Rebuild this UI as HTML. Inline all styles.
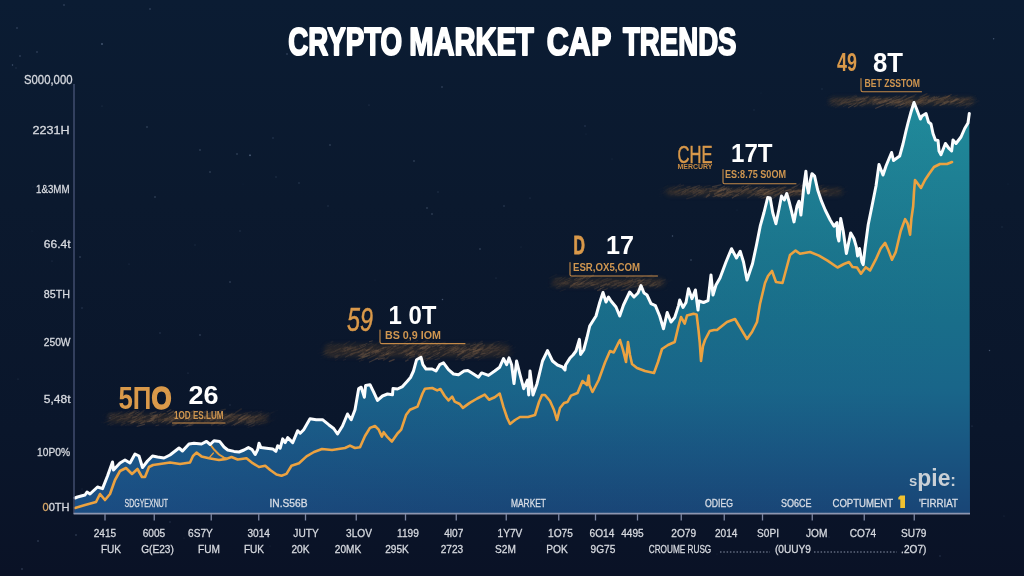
<!DOCTYPE html>
<html lang="en"><head><meta charset="utf-8"><title>Crypto Market Cap Trends</title>
<style>
html,body{margin:0;padding:0;background:#0c1830;}
body{width:1024px;height:576px;overflow:hidden;}
svg{display:block;font-family:"Liberation Sans",sans-serif;}
</style></head><body>
<svg width="1024" height="576" viewBox="0 0 1024 576">
<defs>
<linearGradient id="bg" x1="0" y1="0" x2="0" y2="576" gradientUnits="userSpaceOnUse">
<stop offset="0" stop-color="#0b1c33"/><stop offset="0.35" stop-color="#0b192e"/><stop offset="0.75" stop-color="#0a162b"/><stop offset="1" stop-color="#0a1226"/>
</linearGradient>
<linearGradient id="ar" x1="0" y1="110" x2="0" y2="513" gradientUnits="userSpaceOnUse">
<stop offset="0" stop-color="#208a9a"/><stop offset="0.17" stop-color="#1e8094"/><stop offset="0.35" stop-color="#1b768d"/><stop offset="0.52" stop-color="#196e8a"/><stop offset="0.70" stop-color="#196589"/><stop offset="0.85" stop-color="#195581"/><stop offset="1" stop-color="#194576"/>
</linearGradient>
<linearGradient id="arx" x1="75" y1="0" x2="970" y2="0" gradientUnits="userSpaceOnUse">
<stop offset="0" stop-color="#1f5c9c" stop-opacity="0.32"/><stop offset="0.5" stop-color="#1c4f86" stop-opacity="0.06"/><stop offset="1" stop-color="#1c4f86" stop-opacity="0"/>
</linearGradient>
<filter id="sm" x="-10%" y="-100%" width="120%" height="300%"><feGaussianBlur stdDeviation="2.2"/></filter>
<filter id="soft" x="-5%" y="-5%" width="110%" height="110%"><feGaussianBlur stdDeviation="0.35"/></filter>
</defs>
<rect width="1024" height="576" fill="url(#bg)"/>
<circle cx="961" cy="328" r="0.5" fill="#7f96b8" opacity="0.13"/>
<circle cx="438" cy="192" r="0.8" fill="#7f96b8" opacity="0.22"/>
<circle cx="622" cy="509" r="0.6" fill="#7f96b8" opacity="0.23"/>
<circle cx="907" cy="308" r="0.7" fill="#7f96b8" opacity="0.23"/>
<circle cx="585" cy="126" r="0.7" fill="#7f96b8" opacity="0.33"/>
<circle cx="737" cy="210" r="0.4" fill="#7f96b8" opacity="0.30"/>
<circle cx="567" cy="534" r="0.5" fill="#7f96b8" opacity="0.31"/>
<circle cx="170" cy="522" r="0.7" fill="#7f96b8" opacity="0.31"/>
<circle cx="586" cy="134" r="0.6" fill="#7f96b8" opacity="0.17"/>
<circle cx="1002" cy="227" r="0.7" fill="#7f96b8" opacity="0.19"/>
<circle cx="328" cy="504" r="0.7" fill="#7f96b8" opacity="0.26"/>
<circle cx="1004" cy="516" r="0.6" fill="#7f96b8" opacity="0.21"/>
<circle cx="195" cy="245" r="0.8" fill="#7f96b8" opacity="0.14"/>
<circle cx="829" cy="537" r="0.6" fill="#7f96b8" opacity="0.34"/>
<circle cx="52" cy="261" r="0.5" fill="#7f96b8" opacity="0.33"/>
<circle cx="788" cy="544" r="0.6" fill="#7f96b8" opacity="0.27"/>
<circle cx="18" cy="379" r="0.6" fill="#7f96b8" opacity="0.28"/>
<circle cx="375" cy="280" r="0.5" fill="#7f96b8" opacity="0.15"/>
<circle cx="188" cy="373" r="0.6" fill="#7f96b8" opacity="0.32"/>
<circle cx="299" cy="183" r="0.8" fill="#7f96b8" opacity="0.27"/>
<circle cx="819" cy="268" r="0.7" fill="#7f96b8" opacity="0.13"/>
<circle cx="240" cy="231" r="0.7" fill="#7f96b8" opacity="0.26"/>
<circle cx="881" cy="307" r="0.4" fill="#7f96b8" opacity="0.16"/>
<circle cx="761" cy="93" r="0.5" fill="#7f96b8" opacity="0.13"/>
<circle cx="972" cy="426" r="0.6" fill="#7f96b8" opacity="0.35"/>
<circle cx="32" cy="231" r="0.5" fill="#7f96b8" opacity="0.13"/>
<circle cx="430" cy="379" r="0.6" fill="#7f96b8" opacity="0.32"/>
<circle cx="717" cy="554" r="0.4" fill="#7f96b8" opacity="0.27"/>
<circle cx="33" cy="187" r="0.6" fill="#7f96b8" opacity="0.17"/>
<circle cx="16" cy="68" r="0.7" fill="#7f96b8" opacity="0.23"/>
<circle cx="483" cy="470" r="0.5" fill="#7f96b8" opacity="0.21"/>
<circle cx="330" cy="427" r="0.4" fill="#7f96b8" opacity="0.26"/>
<circle cx="905" cy="439" r="0.7" fill="#7f96b8" opacity="0.34"/>
<circle cx="617" cy="351" r="0.5" fill="#7f96b8" opacity="0.15"/>
<circle cx="807" cy="347" r="0.7" fill="#7f96b8" opacity="0.28"/>
<circle cx="656" cy="475" r="0.6" fill="#7f96b8" opacity="0.24"/>
<circle cx="727" cy="396" r="0.8" fill="#7f96b8" opacity="0.13"/>
<circle cx="129" cy="264" r="0.6" fill="#7f96b8" opacity="0.24"/>
<circle cx="325" cy="415" r="0.4" fill="#7f96b8" opacity="0.32"/>
<circle cx="930" cy="263" r="0.5" fill="#7f96b8" opacity="0.29"/>
<circle cx="541" cy="541" r="0.6" fill="#7f96b8" opacity="0.14"/>
<circle cx="82" cy="489" r="0.6" fill="#7f96b8" opacity="0.22"/>
<circle cx="276" cy="177" r="0.7" fill="#7f96b8" opacity="0.26"/>
<circle cx="612" cy="159" r="0.5" fill="#7f96b8" opacity="0.23"/>
<circle cx="1008" cy="184" r="0.4" fill="#7f96b8" opacity="0.24"/>
<circle cx="754" cy="110" r="0.7" fill="#7f96b8" opacity="0.17"/>
<circle cx="722" cy="480" r="0.6" fill="#7f96b8" opacity="0.16"/>
<circle cx="243" cy="184" r="0.4" fill="#7f96b8" opacity="0.14"/>
<circle cx="328" cy="206" r="0.7" fill="#7f96b8" opacity="0.26"/>
<circle cx="496" cy="278" r="0.6" fill="#7f96b8" opacity="0.29"/>
<circle cx="82" cy="308" r="0.7" fill="#7f96b8" opacity="0.33"/>
<circle cx="629" cy="479" r="0.4" fill="#7f96b8" opacity="0.33"/>
<circle cx="230" cy="405" r="0.8" fill="#7f96b8" opacity="0.22"/>
<circle cx="270" cy="546" r="0.5" fill="#7f96b8" opacity="0.22"/>
<circle cx="417" cy="35" r="0.5" fill="#7f96b8" opacity="0.19"/>
<circle cx="822" cy="89" r="0.8" fill="#7f96b8" opacity="0.16"/>
<circle cx="687" cy="394" r="0.4" fill="#7f96b8" opacity="0.27"/>
<circle cx="530" cy="198" r="0.6" fill="#7f96b8" opacity="0.31"/>
<circle cx="184" cy="538" r="0.5" fill="#7f96b8" opacity="0.21"/>
<circle cx="160" cy="333" r="0.7" fill="#7f96b8" opacity="0.33"/>
<circle cx="273" cy="138" r="0.7" fill="#7f96b8" opacity="0.34"/>
<circle cx="936" cy="486" r="0.7" fill="#7f96b8" opacity="0.28"/>
<circle cx="434" cy="452" r="0.6" fill="#7f96b8" opacity="0.22"/>
<circle cx="940" cy="556" r="0.8" fill="#7f96b8" opacity="0.26"/>
<circle cx="369" cy="105" r="0.6" fill="#7f96b8" opacity="0.32"/>
<circle cx="81" cy="494" r="0.7" fill="#7f96b8" opacity="0.21"/>
<circle cx="102" cy="106" r="0.6" fill="#7f96b8" opacity="0.26"/>
<circle cx="504" cy="206" r="0.8" fill="#7f96b8" opacity="0.32"/>
<circle cx="28" cy="84" r="0.6" fill="#7f96b8" opacity="0.18"/>
<circle cx="521" cy="247" r="0.5" fill="#7f96b8" opacity="0.21"/>
<circle cx="12.5" cy="65" r="0.75" fill="#9db4d4" opacity="0.38"/>
<circle cx="37" cy="52" r="0.75" fill="#9db4d4" opacity="0.38"/>
<circle cx="150" cy="9" r="0.75" fill="#9db4d4" opacity="0.38"/>
<circle cx="102" cy="44" r="0.75" fill="#9db4d4" opacity="0.38"/>
<circle cx="147" cy="127" r="0.75" fill="#9db4d4" opacity="0.38"/>
<circle cx="200" cy="150" r="0.75" fill="#9db4d4" opacity="0.38"/>
<circle cx="250" cy="155" r="0.75" fill="#9db4d4" opacity="0.38"/>
<circle cx="210" cy="172" r="0.75" fill="#9db4d4" opacity="0.38"/>
<circle cx="155" cy="197" r="0.75" fill="#9db4d4" opacity="0.38"/>
<circle cx="287" cy="54" r="0.75" fill="#9db4d4" opacity="0.38"/>
<circle cx="442" cy="87" r="0.75" fill="#9db4d4" opacity="0.38"/>
<circle cx="330" cy="145" r="0.75" fill="#9db4d4" opacity="0.38"/>
<circle cx="480" cy="249" r="0.75" fill="#9db4d4" opacity="0.38"/>
<circle cx="80" cy="257" r="0.75" fill="#9db4d4" opacity="0.38"/>
<circle cx="993.6" cy="38.7" r="0.75" fill="#9db4d4" opacity="0.38"/>
<circle cx="691" cy="260" r="0.75" fill="#9db4d4" opacity="0.38"/>
<circle cx="672.5" cy="236" r="0.75" fill="#9db4d4" opacity="0.38"/>
<circle cx="442.5" cy="299.5" r="0.75" fill="#9db4d4" opacity="0.38"/>
<circle cx="989.5" cy="350.5" r="0.75" fill="#9db4d4" opacity="0.38"/>
<circle cx="250" cy="155.5" r="0.75" fill="#9db4d4" opacity="0.38"/>
<circle cx="237" cy="154" r="0.75" fill="#9db4d4" opacity="0.38"/>
<circle cx="427" cy="208" r="0.75" fill="#9db4d4" opacity="0.38"/>
<circle cx="432" cy="214" r="0.75" fill="#9db4d4" opacity="0.38"/>
<circle cx="414" cy="161" r="0.75" fill="#9db4d4" opacity="0.38"/>
<circle cx="22" cy="569" r="0.75" fill="#9db4d4" opacity="0.38"/>
<circle cx="38" cy="541" r="0.75" fill="#9db4d4" opacity="0.38"/>
<circle cx="76" cy="535" r="0.75" fill="#9db4d4" opacity="0.38"/>
<circle cx="17" cy="28" r="0.75" fill="#9db4d4" opacity="0.38"/>
<circle cx="20" cy="56" r="0.75" fill="#9db4d4" opacity="0.38"/>
<circle cx="102" cy="44" r="0.75" fill="#9db4d4" opacity="0.38"/>
<circle cx="64" cy="5" r="0.75" fill="#9db4d4" opacity="0.38"/>
<circle cx="230" cy="282" r="0.75" fill="#9db4d4" opacity="0.38"/>
<circle cx="200" cy="335" r="0.75" fill="#9db4d4" opacity="0.38"/>
<circle cx="110" cy="418" r="0.75" fill="#9db4d4" opacity="0.38"/>
<g filter="url(#sm)" fill="#4a3828" opacity="0.42">
<rect x="108" y="414" width="160" height="9" rx="4"/>
<rect x="324" y="344" width="186" height="13" rx="6"/>
<rect x="552" y="278" width="112" height="9" rx="4"/>
<rect x="666" y="188" width="176" height="8" rx="4"/>
<rect x="830" y="97" width="144" height="8" rx="4"/>
</g>
<line x1="155.3" y1="418.3" x2="161.4" y2="415.3" stroke="#6a5442" stroke-width="1.4" opacity="0.16"/>
<line x1="136.5" y1="416.2" x2="142.2" y2="412.4" stroke="#4e3e32" stroke-width="0.8" opacity="0.21"/>
<line x1="138.0" y1="424.0" x2="143.7" y2="422.8" stroke="#6a5442" stroke-width="1.1" opacity="0.32"/>
<line x1="121.9" y1="419.3" x2="128.4" y2="417.0" stroke="#6a5442" stroke-width="1.2" opacity="0.21"/>
<line x1="211.7" y1="418.7" x2="214.6" y2="417.0" stroke="#80624a" stroke-width="1.1" opacity="0.16"/>
<line x1="235.2" y1="423.0" x2="239.3" y2="420.6" stroke="#574434" stroke-width="0.8" opacity="0.25"/>
<line x1="151.2" y1="419.1" x2="157.3" y2="415.1" stroke="#4e3e32" stroke-width="1.0" opacity="0.28"/>
<line x1="230.1" y1="416.6" x2="237.4" y2="414.3" stroke="#4e3e32" stroke-width="1.3" opacity="0.15"/>
<line x1="240.8" y1="418.2" x2="248.0" y2="413.5" stroke="#6a5442" stroke-width="1.5" opacity="0.27"/>
<line x1="180.8" y1="417.0" x2="188.2" y2="415.4" stroke="#5e4a3a" stroke-width="0.9" opacity="0.36"/>
<line x1="167.4" y1="417.0" x2="170.9" y2="414.8" stroke="#6a5442" stroke-width="0.9" opacity="0.28"/>
<line x1="149.2" y1="421.3" x2="154.8" y2="418.0" stroke="#5e4a3a" stroke-width="1.1" opacity="0.42"/>
<line x1="253.1" y1="425.6" x2="258.3" y2="423.0" stroke="#5e4a3a" stroke-width="1.5" opacity="0.13"/>
<line x1="125.3" y1="414.6" x2="131.2" y2="412.3" stroke="#7a6048" stroke-width="0.9" opacity="0.16"/>
<line x1="125.5" y1="420.2" x2="129.2" y2="419.2" stroke="#4e3e32" stroke-width="1.2" opacity="0.17"/>
<line x1="227.1" y1="422.7" x2="234.3" y2="419.8" stroke="#5e4a3a" stroke-width="1.0" opacity="0.44"/>
<line x1="118.1" y1="417.1" x2="121.9" y2="414.8" stroke="#7a6048" stroke-width="1.2" opacity="0.08"/>
<line x1="116.8" y1="421.4" x2="122.9" y2="417.4" stroke="#574434" stroke-width="1.2" opacity="0.22"/>
<line x1="126.0" y1="415.6" x2="129.7" y2="414.6" stroke="#5e4a3a" stroke-width="1.1" opacity="0.19"/>
<line x1="153.3" y1="418.6" x2="159.3" y2="416.6" stroke="#4e3e32" stroke-width="0.7" opacity="0.37"/>
<line x1="266.0" y1="416.4" x2="268.9" y2="415.1" stroke="#80624a" stroke-width="1.4" opacity="0.08"/>
<line x1="219.3" y1="417.0" x2="227.0" y2="413.7" stroke="#4e3e32" stroke-width="1.0" opacity="0.19"/>
<line x1="136.7" y1="426.5" x2="145.0" y2="424.1" stroke="#80624a" stroke-width="1.3" opacity="0.40"/>
<line x1="132.9" y1="422.1" x2="140.7" y2="418.7" stroke="#574434" stroke-width="1.3" opacity="0.45"/>
<line x1="264.1" y1="423.9" x2="272.8" y2="419.6" stroke="#574434" stroke-width="0.8" opacity="0.10"/>
<line x1="180.8" y1="419.1" x2="186.8" y2="414.9" stroke="#80624a" stroke-width="1.0" opacity="0.45"/>
<line x1="210.5" y1="420.1" x2="217.3" y2="416.1" stroke="#574434" stroke-width="1.0" opacity="0.26"/>
<line x1="209.7" y1="419.7" x2="215.6" y2="417.8" stroke="#6a5442" stroke-width="1.3" opacity="0.36"/>
<line x1="127.9" y1="414.6" x2="135.3" y2="410.1" stroke="#4e3e32" stroke-width="1.5" opacity="0.36"/>
<line x1="214.9" y1="418.0" x2="217.9" y2="417.3" stroke="#80624a" stroke-width="0.8" opacity="0.18"/>
<line x1="228.6" y1="422.1" x2="236.2" y2="417.0" stroke="#574434" stroke-width="0.9" opacity="0.20"/>
<line x1="142.0" y1="417.7" x2="145.8" y2="416.7" stroke="#7a6048" stroke-width="1.4" opacity="0.27"/>
<line x1="213.4" y1="423.7" x2="221.1" y2="418.9" stroke="#574434" stroke-width="1.1" opacity="0.40"/>
<line x1="101.6" y1="417.5" x2="108.9" y2="413.1" stroke="#5e4a3a" stroke-width="1.2" opacity="0.01"/>
<line x1="119.9" y1="417.3" x2="126.0" y2="415.4" stroke="#4e3e32" stroke-width="0.7" opacity="0.18"/>
<line x1="133.7" y1="411.6" x2="136.8" y2="410.8" stroke="#6a5442" stroke-width="1.1" opacity="0.27"/>
<line x1="205.7" y1="419.8" x2="211.4" y2="417.5" stroke="#5e4a3a" stroke-width="1.1" opacity="0.35"/>
<line x1="140.5" y1="423.1" x2="149.7" y2="420.7" stroke="#574434" stroke-width="1.4" opacity="0.43"/>
<line x1="123.9" y1="416.1" x2="127.8" y2="413.5" stroke="#80624a" stroke-width="0.9" opacity="0.11"/>
<line x1="120.9" y1="425.9" x2="125.7" y2="423.2" stroke="#574434" stroke-width="1.5" opacity="0.21"/>
<line x1="135.4" y1="422.8" x2="145.0" y2="420.1" stroke="#574434" stroke-width="1.3" opacity="0.29"/>
<line x1="273.3" y1="417.8" x2="276.6" y2="416.2" stroke="#7a6048" stroke-width="1.1" opacity="0.01"/>
<line x1="175.9" y1="414.8" x2="181.4" y2="411.2" stroke="#574434" stroke-width="1.5" opacity="0.33"/>
<line x1="118.2" y1="413.9" x2="122.3" y2="411.3" stroke="#5e4a3a" stroke-width="1.4" opacity="0.20"/>
<line x1="216.6" y1="422.8" x2="222.6" y2="420.2" stroke="#7a6048" stroke-width="0.8" opacity="0.31"/>
<line x1="107.5" y1="421.1" x2="116.5" y2="417.8" stroke="#7a6048" stroke-width="0.8" opacity="0.05"/>
<line x1="248.5" y1="418.9" x2="253.5" y2="416.9" stroke="#7a6048" stroke-width="1.2" opacity="0.20"/>
<line x1="107.4" y1="425.2" x2="111.6" y2="422.8" stroke="#7a6048" stroke-width="1.2" opacity="0.10"/>
<line x1="192.1" y1="416.2" x2="196.8" y2="414.8" stroke="#7a6048" stroke-width="0.7" opacity="0.35"/>
<line x1="103.1" y1="423.6" x2="107.4" y2="421.6" stroke="#80624a" stroke-width="1.4" opacity="0.03"/>
<line x1="174.1" y1="422.4" x2="180.3" y2="420.2" stroke="#574434" stroke-width="1.0" opacity="0.26"/>
<line x1="244.6" y1="422.9" x2="249.1" y2="419.9" stroke="#574434" stroke-width="0.7" opacity="0.22"/>
<line x1="207.4" y1="422.8" x2="214.3" y2="419.4" stroke="#4e3e32" stroke-width="1.2" opacity="0.16"/>
<line x1="149.2" y1="415.4" x2="152.9" y2="413.7" stroke="#7a6048" stroke-width="1.0" opacity="0.28"/>
<line x1="155.3" y1="423.4" x2="163.2" y2="418.8" stroke="#574434" stroke-width="0.7" opacity="0.15"/>
<line x1="165.7" y1="420.2" x2="171.1" y2="416.4" stroke="#7a6048" stroke-width="1.4" opacity="0.20"/>
<line x1="123.9" y1="420.4" x2="130.1" y2="416.3" stroke="#4e3e32" stroke-width="1.4" opacity="0.17"/>
<line x1="125.1" y1="425.6" x2="133.0" y2="422.9" stroke="#5e4a3a" stroke-width="0.8" opacity="0.25"/>
<line x1="223.7" y1="417.5" x2="232.3" y2="414.2" stroke="#80624a" stroke-width="1.3" opacity="0.40"/>
<line x1="186.4" y1="426.6" x2="193.5" y2="421.7" stroke="#80624a" stroke-width="1.2" opacity="0.32"/>
<line x1="256.0" y1="422.5" x2="258.7" y2="420.8" stroke="#7a6048" stroke-width="1.5" opacity="0.11"/>
<line x1="164.6" y1="415.9" x2="170.5" y2="412.6" stroke="#7a6048" stroke-width="0.7" opacity="0.15"/>
<line x1="237.6" y1="422.7" x2="244.0" y2="418.5" stroke="#80624a" stroke-width="1.1" opacity="0.31"/>
<line x1="240.6" y1="420.0" x2="245.0" y2="418.4" stroke="#5e4a3a" stroke-width="1.1" opacity="0.36"/>
<line x1="165.1" y1="421.1" x2="172.0" y2="418.6" stroke="#6a5442" stroke-width="1.2" opacity="0.38"/>
<line x1="157.9" y1="422.2" x2="161.5" y2="420.6" stroke="#5e4a3a" stroke-width="0.9" opacity="0.33"/>
<line x1="215.9" y1="423.0" x2="221.9" y2="420.3" stroke="#5e4a3a" stroke-width="1.3" opacity="0.23"/>
<line x1="272.1" y1="418.8" x2="277.6" y2="415.8" stroke="#6a5442" stroke-width="1.4" opacity="0.01"/>
<line x1="266.3" y1="418.5" x2="274.6" y2="413.7" stroke="#4e3e32" stroke-width="0.8" opacity="0.03"/>
<line x1="228.8" y1="417.1" x2="235.3" y2="413.5" stroke="#6a5442" stroke-width="1.3" opacity="0.33"/>
<line x1="140.9" y1="422.4" x2="143.6" y2="421.2" stroke="#5e4a3a" stroke-width="1.0" opacity="0.15"/>
<line x1="226.2" y1="418.0" x2="230.9" y2="415.5" stroke="#7a6048" stroke-width="1.4" opacity="0.18"/>
<line x1="120.6" y1="425.1" x2="125.1" y2="422.8" stroke="#5e4a3a" stroke-width="1.0" opacity="0.25"/>
<line x1="249.4" y1="420.7" x2="257.3" y2="416.4" stroke="#6a5442" stroke-width="1.4" opacity="0.24"/>
<line x1="148.9" y1="421.7" x2="154.5" y2="418.4" stroke="#7a6048" stroke-width="1.3" opacity="0.22"/>
<line x1="172.2" y1="418.4" x2="180.7" y2="415.0" stroke="#574434" stroke-width="1.3" opacity="0.26"/>
<line x1="107.3" y1="421.8" x2="113.9" y2="418.3" stroke="#6a5442" stroke-width="1.4" opacity="0.09"/>
<line x1="195.4" y1="415.7" x2="200.0" y2="414.2" stroke="#80624a" stroke-width="0.9" opacity="0.23"/>
<line x1="214.4" y1="418.4" x2="217.9" y2="416.2" stroke="#574434" stroke-width="1.1" opacity="0.26"/>
<line x1="239.5" y1="420.3" x2="247.0" y2="416.8" stroke="#4e3e32" stroke-width="0.9" opacity="0.23"/>
<line x1="115.6" y1="414.6" x2="120.0" y2="412.8" stroke="#6a5442" stroke-width="1.3" opacity="0.10"/>
<line x1="171.6" y1="419.5" x2="176.1" y2="416.5" stroke="#7a6048" stroke-width="1.2" opacity="0.26"/>
<line x1="160.9" y1="422.8" x2="168.4" y2="417.9" stroke="#574434" stroke-width="1.0" opacity="0.38"/>
<line x1="210.2" y1="418.9" x2="218.5" y2="413.7" stroke="#5e4a3a" stroke-width="1.3" opacity="0.39"/>
<line x1="255.1" y1="419.7" x2="260.6" y2="418.3" stroke="#4e3e32" stroke-width="1.4" opacity="0.07"/>
<line x1="268.0" y1="414.1" x2="274.3" y2="411.9" stroke="#80624a" stroke-width="1.3" opacity="0.03"/>
<line x1="248.0" y1="419.1" x2="250.6" y2="417.5" stroke="#4e3e32" stroke-width="1.4" opacity="0.29"/>
<line x1="210.8" y1="414.9" x2="217.8" y2="412.5" stroke="#6a5442" stroke-width="0.8" opacity="0.22"/>
<line x1="150.8" y1="422.1" x2="157.8" y2="417.2" stroke="#4e3e32" stroke-width="0.9" opacity="0.22"/>
<line x1="179.4" y1="425.2" x2="184.9" y2="422.1" stroke="#574434" stroke-width="0.7" opacity="0.41"/>
<line x1="169.3" y1="417.6" x2="178.0" y2="414.4" stroke="#6a5442" stroke-width="0.9" opacity="0.20"/>
<line x1="215.7" y1="420.9" x2="220.5" y2="418.6" stroke="#80624a" stroke-width="1.0" opacity="0.15"/>
<line x1="100.4" y1="421.3" x2="106.0" y2="418.0" stroke="#574434" stroke-width="0.9" opacity="0.01"/>
<line x1="137.7" y1="420.6" x2="143.3" y2="417.3" stroke="#574434" stroke-width="1.1" opacity="0.44"/>
<line x1="259.0" y1="416.5" x2="261.8" y2="414.6" stroke="#4e3e32" stroke-width="0.8" opacity="0.19"/>
<line x1="106.7" y1="415.3" x2="115.4" y2="412.4" stroke="#6a5442" stroke-width="1.4" opacity="0.11"/>
<line x1="157.8" y1="420.1" x2="160.8" y2="419.0" stroke="#5e4a3a" stroke-width="1.4" opacity="0.37"/>
<line x1="271.8" y1="415.4" x2="275.0" y2="413.9" stroke="#6a5442" stroke-width="1.1" opacity="0.01"/>
<line x1="230.4" y1="422.1" x2="237.7" y2="417.4" stroke="#80624a" stroke-width="1.1" opacity="0.24"/>
<line x1="163.0" y1="422.1" x2="170.7" y2="416.8" stroke="#5e4a3a" stroke-width="0.9" opacity="0.25"/>
<line x1="207.2" y1="419.0" x2="214.4" y2="414.2" stroke="#574434" stroke-width="1.3" opacity="0.28"/>
<line x1="255.1" y1="417.0" x2="261.5" y2="413.4" stroke="#80624a" stroke-width="1.3" opacity="0.22"/>
<line x1="258.6" y1="419.7" x2="267.0" y2="417.7" stroke="#6a5442" stroke-width="0.7" opacity="0.12"/>
<line x1="140.2" y1="423.6" x2="145.2" y2="420.8" stroke="#5e4a3a" stroke-width="1.4" opacity="0.44"/>
<line x1="122.7" y1="415.1" x2="127.5" y2="413.5" stroke="#574434" stroke-width="1.2" opacity="0.28"/>
<line x1="157.5" y1="416.7" x2="160.6" y2="414.9" stroke="#574434" stroke-width="0.9" opacity="0.38"/>
<line x1="108.5" y1="416.2" x2="118.0" y2="413.7" stroke="#6a5442" stroke-width="0.9" opacity="0.08"/>
<line x1="114.0" y1="416.6" x2="119.3" y2="413.5" stroke="#5e4a3a" stroke-width="1.1" opacity="0.15"/>
<line x1="253.1" y1="417.8" x2="261.1" y2="415.4" stroke="#7a6048" stroke-width="0.9" opacity="0.21"/>
<line x1="198.6" y1="420.6" x2="202.7" y2="418.3" stroke="#574434" stroke-width="0.9" opacity="0.20"/>
<line x1="257.7" y1="413.1" x2="262.1" y2="411.2" stroke="#80624a" stroke-width="1.3" opacity="0.10"/>
<line x1="211.5" y1="420.5" x2="219.9" y2="418.1" stroke="#7a6048" stroke-width="0.7" opacity="0.29"/>
<line x1="149.7" y1="413.5" x2="156.5" y2="411.8" stroke="#7a6048" stroke-width="1.1" opacity="0.44"/>
<line x1="131.5" y1="422.2" x2="134.4" y2="421.2" stroke="#80624a" stroke-width="1.2" opacity="0.31"/>
<line x1="137.6" y1="415.2" x2="142.1" y2="413.5" stroke="#80624a" stroke-width="1.4" opacity="0.20"/>
<line x1="240.7" y1="422.4" x2="246.8" y2="418.4" stroke="#6a5442" stroke-width="1.3" opacity="0.24"/>
<line x1="194.1" y1="412.6" x2="200.6" y2="410.2" stroke="#6a5442" stroke-width="1.2" opacity="0.26"/>
<line x1="168.8" y1="422.4" x2="173.7" y2="419.1" stroke="#80624a" stroke-width="1.2" opacity="0.35"/>
<line x1="161.8" y1="422.3" x2="166.5" y2="419.5" stroke="#80624a" stroke-width="1.0" opacity="0.45"/>
<line x1="264.2" y1="415.7" x2="267.6" y2="414.3" stroke="#7a6048" stroke-width="1.1" opacity="0.05"/>
<line x1="126.4" y1="417.4" x2="134.2" y2="412.3" stroke="#4e3e32" stroke-width="1.4" opacity="0.28"/>
<line x1="228.5" y1="415.6" x2="232.0" y2="413.3" stroke="#5e4a3a" stroke-width="1.1" opacity="0.19"/>
<line x1="237.4" y1="420.9" x2="246.7" y2="418.9" stroke="#5e4a3a" stroke-width="1.0" opacity="0.17"/>
<line x1="203.9" y1="417.1" x2="211.5" y2="415.2" stroke="#80624a" stroke-width="1.3" opacity="0.36"/>
<line x1="138.8" y1="421.7" x2="142.5" y2="419.6" stroke="#5e4a3a" stroke-width="1.5" opacity="0.40"/>
<line x1="125.5" y1="416.5" x2="133.0" y2="412.1" stroke="#4e3e32" stroke-width="1.4" opacity="0.34"/>
<line x1="216.0" y1="419.3" x2="222.0" y2="417.6" stroke="#7a6048" stroke-width="1.2" opacity="0.26"/>
<line x1="152.8" y1="417.1" x2="158.4" y2="413.8" stroke="#6a5442" stroke-width="1.2" opacity="0.25"/>
<line x1="184.5" y1="420.1" x2="189.8" y2="416.9" stroke="#5e4a3a" stroke-width="1.0" opacity="0.38"/>
<line x1="110.6" y1="417.3" x2="116.7" y2="415.0" stroke="#6a5442" stroke-width="1.2" opacity="0.13"/>
<line x1="114.8" y1="423.5" x2="117.9" y2="422.2" stroke="#5e4a3a" stroke-width="1.2" opacity="0.12"/>
<line x1="235.1" y1="412.9" x2="241.8" y2="408.7" stroke="#574434" stroke-width="1.5" opacity="0.33"/>
<line x1="183.4" y1="426.9" x2="191.7" y2="424.9" stroke="#6a5442" stroke-width="1.4" opacity="0.19"/>
<line x1="204.0" y1="416.8" x2="212.5" y2="413.0" stroke="#7a6048" stroke-width="1.1" opacity="0.33"/>
<line x1="259.9" y1="415.5" x2="264.2" y2="412.5" stroke="#574434" stroke-width="1.0" opacity="0.12"/>
<line x1="209.0" y1="417.2" x2="216.5" y2="413.1" stroke="#4e3e32" stroke-width="0.7" opacity="0.26"/>
<line x1="247.6" y1="423.0" x2="255.1" y2="421.1" stroke="#7a6048" stroke-width="1.5" opacity="0.21"/>
<line x1="207.0" y1="422.0" x2="216.2" y2="418.3" stroke="#7a6048" stroke-width="1.0" opacity="0.22"/>
<line x1="113.8" y1="418.2" x2="118.5" y2="416.2" stroke="#7a6048" stroke-width="1.2" opacity="0.18"/>
<line x1="272.0" y1="421.5" x2="274.5" y2="419.8" stroke="#574434" stroke-width="0.9" opacity="0.02"/>
<line x1="207.9" y1="417.8" x2="213.9" y2="415.5" stroke="#6a5442" stroke-width="0.7" opacity="0.15"/>
<line x1="100.3" y1="414.8" x2="104.6" y2="413.1" stroke="#4e3e32" stroke-width="0.8" opacity="0.00"/>
<line x1="161.6" y1="419.8" x2="169.8" y2="417.0" stroke="#5e4a3a" stroke-width="0.8" opacity="0.14"/>
<line x1="211.1" y1="425.4" x2="215.0" y2="422.7" stroke="#80624a" stroke-width="1.4" opacity="0.26"/>
<line x1="254.3" y1="421.3" x2="260.4" y2="418.6" stroke="#574434" stroke-width="1.4" opacity="0.18"/>
<line x1="108.0" y1="418.5" x2="111.3" y2="417.5" stroke="#6a5442" stroke-width="1.2" opacity="0.05"/>
<line x1="212.8" y1="416.5" x2="219.8" y2="413.9" stroke="#5e4a3a" stroke-width="1.4" opacity="0.30"/>
<line x1="128.0" y1="416.5" x2="136.8" y2="413.8" stroke="#80624a" stroke-width="1.1" opacity="0.14"/>
<line x1="164.0" y1="423.4" x2="170.5" y2="419.5" stroke="#6a5442" stroke-width="0.9" opacity="0.16"/>
<line x1="209.9" y1="420.9" x2="218.3" y2="416.3" stroke="#6a5442" stroke-width="0.9" opacity="0.43"/>
<line x1="196.1" y1="421.2" x2="200.6" y2="419.6" stroke="#574434" stroke-width="0.8" opacity="0.30"/>
<line x1="188.4" y1="420.3" x2="192.2" y2="418.0" stroke="#7a6048" stroke-width="0.9" opacity="0.40"/>
<line x1="165.0" y1="419.4" x2="174.3" y2="417.3" stroke="#4e3e32" stroke-width="1.1" opacity="0.40"/>
<line x1="244.4" y1="424.7" x2="251.9" y2="421.7" stroke="#7a6048" stroke-width="1.3" opacity="0.22"/>
<line x1="168.8" y1="420.6" x2="171.5" y2="418.9" stroke="#4e3e32" stroke-width="1.4" opacity="0.19"/>
<line x1="158.3" y1="412.8" x2="165.7" y2="410.1" stroke="#80624a" stroke-width="0.8" opacity="0.15"/>
<line x1="105.7" y1="425.6" x2="114.6" y2="421.9" stroke="#80624a" stroke-width="0.8" opacity="0.05"/>
<line x1="251.1" y1="427.0" x2="254.9" y2="424.6" stroke="#6a5442" stroke-width="1.5" opacity="0.11"/>
<line x1="257.1" y1="418.7" x2="263.9" y2="415.6" stroke="#574434" stroke-width="0.8" opacity="0.17"/>
<line x1="232.4" y1="415.2" x2="235.2" y2="413.7" stroke="#7a6048" stroke-width="0.7" opacity="0.27"/>
<line x1="231.4" y1="425.8" x2="237.0" y2="422.8" stroke="#80624a" stroke-width="0.7" opacity="0.33"/>
<line x1="170.2" y1="421.8" x2="177.5" y2="418.8" stroke="#574434" stroke-width="1.3" opacity="0.25"/>
<line x1="243.1" y1="418.9" x2="249.0" y2="415.7" stroke="#6a5442" stroke-width="0.7" opacity="0.24"/>
<line x1="184.5" y1="422.4" x2="190.3" y2="419.5" stroke="#4e3e32" stroke-width="0.9" opacity="0.20"/>
<line x1="263.5" y1="416.0" x2="269.0" y2="412.5" stroke="#80624a" stroke-width="1.3" opacity="0.10"/>
<line x1="185.1" y1="424.6" x2="189.5" y2="421.8" stroke="#5e4a3a" stroke-width="1.4" opacity="0.17"/>
<line x1="229.4" y1="420.2" x2="234.0" y2="418.0" stroke="#4e3e32" stroke-width="1.1" opacity="0.26"/>
<line x1="164.8" y1="420.5" x2="171.2" y2="418.5" stroke="#4e3e32" stroke-width="1.2" opacity="0.28"/>
<line x1="159.0" y1="415.3" x2="166.3" y2="412.9" stroke="#574434" stroke-width="1.1" opacity="0.40"/>
<line x1="218.4" y1="415.4" x2="225.4" y2="412.9" stroke="#4e3e32" stroke-width="0.9" opacity="0.24"/>
<line x1="152.7" y1="424.1" x2="156.2" y2="422.1" stroke="#7a6048" stroke-width="1.2" opacity="0.19"/>
<line x1="157.9" y1="421.1" x2="167.4" y2="419.1" stroke="#574434" stroke-width="1.5" opacity="0.22"/>
<line x1="116.0" y1="423.3" x2="123.4" y2="419.9" stroke="#574434" stroke-width="0.8" opacity="0.20"/>
<line x1="259.1" y1="420.3" x2="262.1" y2="419.5" stroke="#5e4a3a" stroke-width="1.3" opacity="0.13"/>
<line x1="185.8" y1="420.9" x2="192.3" y2="417.7" stroke="#80624a" stroke-width="0.9" opacity="0.18"/>
<line x1="246.2" y1="422.5" x2="254.6" y2="419.5" stroke="#80624a" stroke-width="1.4" opacity="0.25"/>
<line x1="233.3" y1="424.8" x2="240.1" y2="421.6" stroke="#7a6048" stroke-width="0.9" opacity="0.35"/>
<line x1="220.5" y1="421.7" x2="227.3" y2="417.6" stroke="#5e4a3a" stroke-width="1.1" opacity="0.26"/>
<line x1="101.0" y1="422.8" x2="109.8" y2="420.6" stroke="#7a6048" stroke-width="1.3" opacity="0.03"/>
<line x1="166.7" y1="424.2" x2="172.5" y2="420.7" stroke="#574434" stroke-width="1.1" opacity="0.15"/>
<line x1="116.5" y1="420.6" x2="122.7" y2="418.3" stroke="#7a6048" stroke-width="1.1" opacity="0.18"/>
<line x1="170.7" y1="420.7" x2="176.1" y2="419.0" stroke="#6a5442" stroke-width="1.3" opacity="0.35"/>
<line x1="207.4" y1="418.5" x2="210.3" y2="416.6" stroke="#5e4a3a" stroke-width="1.2" opacity="0.26"/>
<line x1="216.6" y1="416.5" x2="222.3" y2="415.2" stroke="#574434" stroke-width="1.5" opacity="0.23"/>
<line x1="267.5" y1="415.8" x2="270.9" y2="414.8" stroke="#574434" stroke-width="1.1" opacity="0.08"/>
<line x1="196.2" y1="421.2" x2="203.4" y2="419.1" stroke="#5e4a3a" stroke-width="1.1" opacity="0.25"/>
<line x1="150.6" y1="416.5" x2="155.9" y2="415.0" stroke="#7a6048" stroke-width="1.3" opacity="0.40"/>
<line x1="217.5" y1="425.4" x2="225.8" y2="422.9" stroke="#7a6048" stroke-width="0.9" opacity="0.29"/>
<line x1="151.1" y1="419.4" x2="157.9" y2="416.0" stroke="#7a6048" stroke-width="1.4" opacity="0.34"/>
<line x1="110.0" y1="425.3" x2="113.8" y2="424.2" stroke="#80624a" stroke-width="1.2" opacity="0.11"/>
<line x1="213.0" y1="413.7" x2="219.7" y2="411.1" stroke="#574434" stroke-width="0.8" opacity="0.23"/>
<line x1="177.5" y1="419.7" x2="183.8" y2="417.2" stroke="#80624a" stroke-width="1.2" opacity="0.26"/>
<line x1="234.1" y1="425.5" x2="241.8" y2="421.0" stroke="#80624a" stroke-width="0.9" opacity="0.38"/>
<line x1="113.9" y1="423.7" x2="117.4" y2="422.0" stroke="#574434" stroke-width="1.1" opacity="0.07"/>
<line x1="196.9" y1="423.0" x2="201.0" y2="420.6" stroke="#4e3e32" stroke-width="1.4" opacity="0.36"/>
<line x1="99.5" y1="422.2" x2="106.8" y2="420.1" stroke="#7a6048" stroke-width="1.0" opacity="0.01"/>
<line x1="272.9" y1="419.4" x2="279.1" y2="415.1" stroke="#6a5442" stroke-width="1.2" opacity="0.00"/>
<line x1="261.0" y1="421.9" x2="267.2" y2="420.4" stroke="#6a5442" stroke-width="0.9" opacity="0.10"/>
<line x1="171.7" y1="412.7" x2="176.9" y2="411.1" stroke="#4e3e32" stroke-width="1.3" opacity="0.34"/>
<line x1="134.8" y1="419.4" x2="142.5" y2="415.2" stroke="#5e4a3a" stroke-width="1.0" opacity="0.31"/>
<line x1="186.0" y1="417.7" x2="193.3" y2="415.5" stroke="#7a6048" stroke-width="0.9" opacity="0.44"/>
<line x1="221.6" y1="421.5" x2="230.6" y2="417.2" stroke="#4e3e32" stroke-width="1.4" opacity="0.17"/>
<line x1="194.8" y1="413.5" x2="199.0" y2="412.5" stroke="#4e3e32" stroke-width="1.3" opacity="0.14"/>
<line x1="110.6" y1="419.6" x2="114.4" y2="418.2" stroke="#80624a" stroke-width="1.2" opacity="0.08"/>
<line x1="217.0" y1="419.7" x2="224.0" y2="415.2" stroke="#574434" stroke-width="1.4" opacity="0.28"/>
<line x1="171.5" y1="421.2" x2="179.2" y2="416.4" stroke="#7a6048" stroke-width="1.1" opacity="0.14"/>
<line x1="144.1" y1="417.2" x2="149.7" y2="415.1" stroke="#6a5442" stroke-width="1.1" opacity="0.24"/>
<line x1="189.3" y1="425.3" x2="196.4" y2="421.9" stroke="#6a5442" stroke-width="0.7" opacity="0.27"/>
<line x1="166.5" y1="424.4" x2="172.2" y2="421.6" stroke="#6a5442" stroke-width="0.8" opacity="0.44"/>
<line x1="182.7" y1="423.5" x2="185.6" y2="422.4" stroke="#6a5442" stroke-width="0.9" opacity="0.27"/>
<line x1="120.2" y1="417.3" x2="126.0" y2="415.4" stroke="#6a5442" stroke-width="1.0" opacity="0.19"/>
<line x1="229.7" y1="418.1" x2="234.4" y2="416.2" stroke="#5e4a3a" stroke-width="1.1" opacity="0.38"/>
<line x1="263.0" y1="421.2" x2="265.5" y2="419.5" stroke="#80624a" stroke-width="1.2" opacity="0.12"/>
<line x1="204.9" y1="417.3" x2="214.2" y2="414.6" stroke="#4e3e32" stroke-width="0.7" opacity="0.33"/>
<line x1="164.0" y1="419.2" x2="167.9" y2="418.0" stroke="#7a6048" stroke-width="1.5" opacity="0.35"/>
<line x1="127.8" y1="422.4" x2="133.2" y2="419.4" stroke="#4e3e32" stroke-width="1.0" opacity="0.31"/>
<line x1="147.2" y1="421.8" x2="154.2" y2="419.9" stroke="#80624a" stroke-width="1.5" opacity="0.39"/>
<line x1="242.5" y1="419.8" x2="250.8" y2="415.7" stroke="#80624a" stroke-width="1.0" opacity="0.23"/>
<line x1="233.9" y1="417.1" x2="238.5" y2="414.6" stroke="#574434" stroke-width="1.2" opacity="0.35"/>
<line x1="239.8" y1="419.0" x2="248.2" y2="416.8" stroke="#4e3e32" stroke-width="0.8" opacity="0.37"/>
<line x1="268.7" y1="422.7" x2="274.7" y2="420.2" stroke="#4e3e32" stroke-width="1.1" opacity="0.05"/>
<line x1="238.6" y1="418.9" x2="242.9" y2="417.2" stroke="#80624a" stroke-width="1.0" opacity="0.43"/>
<line x1="222.6" y1="423.9" x2="227.9" y2="421.8" stroke="#4e3e32" stroke-width="1.3" opacity="0.14"/>
<line x1="232.1" y1="418.7" x2="240.6" y2="415.1" stroke="#5e4a3a" stroke-width="1.1" opacity="0.42"/>
<line x1="134.8" y1="413.5" x2="139.5" y2="411.7" stroke="#7a6048" stroke-width="1.0" opacity="0.39"/>
<line x1="189.6" y1="413.2" x2="194.4" y2="410.1" stroke="#80624a" stroke-width="1.1" opacity="0.45"/>
<line x1="113.2" y1="414.9" x2="119.3" y2="411.0" stroke="#574434" stroke-width="1.5" opacity="0.09"/>
<line x1="248.9" y1="420.8" x2="256.5" y2="417.2" stroke="#5e4a3a" stroke-width="1.3" opacity="0.15"/>
<line x1="242.6" y1="421.5" x2="246.4" y2="419.2" stroke="#6a5442" stroke-width="0.7" opacity="0.14"/>
<line x1="103.7" y1="420.2" x2="112.4" y2="418.0" stroke="#4e3e32" stroke-width="1.2" opacity="0.05"/>
<line x1="260.5" y1="418.0" x2="264.4" y2="415.5" stroke="#80624a" stroke-width="1.1" opacity="0.09"/>
<line x1="130.3" y1="422.4" x2="137.2" y2="418.3" stroke="#7a6048" stroke-width="1.5" opacity="0.19"/>
<line x1="110.1" y1="415.9" x2="114.5" y2="414.0" stroke="#80624a" stroke-width="1.2" opacity="0.13"/>
<line x1="268.9" y1="413.3" x2="278.0" y2="410.1" stroke="#7a6048" stroke-width="1.2" opacity="0.03"/>
<line x1="176.2" y1="420.8" x2="181.3" y2="418.3" stroke="#5e4a3a" stroke-width="0.8" opacity="0.26"/>
<line x1="140.0" y1="419.0" x2="146.9" y2="414.9" stroke="#6a5442" stroke-width="0.8" opacity="0.14"/>
<line x1="243.0" y1="417.1" x2="250.9" y2="414.7" stroke="#6a5442" stroke-width="1.4" opacity="0.21"/>
<line x1="166.7" y1="412.1" x2="171.3" y2="409.5" stroke="#6a5442" stroke-width="1.2" opacity="0.44"/>
<line x1="123.9" y1="414.2" x2="129.8" y2="410.6" stroke="#574434" stroke-width="0.9" opacity="0.26"/>
<line x1="171.4" y1="415.0" x2="175.9" y2="412.2" stroke="#5e4a3a" stroke-width="0.8" opacity="0.40"/>
<line x1="177.8" y1="416.5" x2="184.9" y2="414.3" stroke="#574434" stroke-width="1.1" opacity="0.30"/>
<line x1="244.7" y1="418.9" x2="250.0" y2="416.0" stroke="#574434" stroke-width="1.4" opacity="0.36"/>
<line x1="115.4" y1="422.0" x2="122.5" y2="418.2" stroke="#80624a" stroke-width="0.7" opacity="0.08"/>
<line x1="238.4" y1="415.8" x2="246.5" y2="412.4" stroke="#574434" stroke-width="1.0" opacity="0.14"/>
<line x1="105.0" y1="417.6" x2="113.2" y2="414.1" stroke="#574434" stroke-width="1.3" opacity="0.04"/>
<line x1="133.4" y1="413.0" x2="139.1" y2="409.9" stroke="#574434" stroke-width="0.8" opacity="0.32"/>
<line x1="217.1" y1="417.5" x2="220.0" y2="416.5" stroke="#4e3e32" stroke-width="1.0" opacity="0.24"/>
<line x1="223.3" y1="418.5" x2="231.9" y2="416.2" stroke="#5e4a3a" stroke-width="0.8" opacity="0.24"/>
<line x1="171.1" y1="418.5" x2="175.5" y2="416.7" stroke="#7a6048" stroke-width="0.7" opacity="0.35"/>
<line x1="219.5" y1="423.2" x2="228.8" y2="421.1" stroke="#6a5442" stroke-width="0.8" opacity="0.25"/>
<line x1="222.8" y1="426.1" x2="229.9" y2="422.5" stroke="#6a5442" stroke-width="0.9" opacity="0.24"/>
<line x1="117.1" y1="422.3" x2="124.4" y2="417.7" stroke="#574434" stroke-width="1.5" opacity="0.08"/>
<line x1="137.3" y1="414.9" x2="144.5" y2="410.0" stroke="#6a5442" stroke-width="1.4" opacity="0.22"/>
<line x1="227.8" y1="420.9" x2="233.3" y2="417.8" stroke="#5e4a3a" stroke-width="0.8" opacity="0.34"/>
<line x1="250.3" y1="417.8" x2="256.3" y2="415.2" stroke="#7a6048" stroke-width="0.8" opacity="0.12"/>
<line x1="121.0" y1="422.9" x2="125.3" y2="421.4" stroke="#5e4a3a" stroke-width="1.3" opacity="0.13"/>
<line x1="127.7" y1="425.8" x2="133.5" y2="424.2" stroke="#4e3e32" stroke-width="0.7" opacity="0.21"/>
<line x1="266.7" y1="414.9" x2="275.1" y2="412.1" stroke="#4e3e32" stroke-width="1.3" opacity="0.04"/>
<line x1="257.6" y1="424.9" x2="264.0" y2="423.4" stroke="#7a6048" stroke-width="0.9" opacity="0.07"/>
<line x1="173.9" y1="419.2" x2="177.0" y2="417.7" stroke="#4e3e32" stroke-width="1.2" opacity="0.30"/>
<line x1="138.7" y1="418.7" x2="143.8" y2="415.2" stroke="#6a5442" stroke-width="0.7" opacity="0.45"/>
<line x1="210.3" y1="418.8" x2="216.9" y2="417.2" stroke="#4e3e32" stroke-width="0.8" opacity="0.22"/>
<line x1="121.5" y1="413.0" x2="124.9" y2="411.3" stroke="#574434" stroke-width="0.8" opacity="0.09"/>
<line x1="202.5" y1="423.7" x2="208.3" y2="421.3" stroke="#574434" stroke-width="1.1" opacity="0.22"/>
<line x1="188.7" y1="426.1" x2="193.4" y2="424.5" stroke="#80624a" stroke-width="1.1" opacity="0.32"/>
<line x1="246.0" y1="420.7" x2="250.2" y2="419.3" stroke="#5e4a3a" stroke-width="1.4" opacity="0.27"/>
<line x1="152.5" y1="422.4" x2="157.1" y2="419.7" stroke="#4e3e32" stroke-width="1.0" opacity="0.15"/>
<line x1="201.7" y1="414.0" x2="206.1" y2="412.2" stroke="#5e4a3a" stroke-width="0.9" opacity="0.41"/>
<line x1="251.6" y1="413.6" x2="258.0" y2="411.1" stroke="#7a6048" stroke-width="1.1" opacity="0.09"/>
<line x1="111.2" y1="418.0" x2="114.4" y2="416.1" stroke="#80624a" stroke-width="1.3" opacity="0.11"/>
<line x1="125.4" y1="416.8" x2="132.4" y2="414.9" stroke="#4e3e32" stroke-width="0.8" opacity="0.27"/>
<line x1="247.5" y1="427.6" x2="254.5" y2="425.0" stroke="#80624a" stroke-width="0.8" opacity="0.16"/>
<line x1="250.4" y1="417.3" x2="256.7" y2="415.8" stroke="#4e3e32" stroke-width="0.8" opacity="0.21"/>
<line x1="245.7" y1="419.1" x2="254.1" y2="416.2" stroke="#7a6048" stroke-width="1.3" opacity="0.13"/>
<line x1="150.5" y1="418.8" x2="155.5" y2="417.3" stroke="#5e4a3a" stroke-width="1.0" opacity="0.26"/>
<line x1="151.8" y1="422.8" x2="156.7" y2="420.0" stroke="#7a6048" stroke-width="1.0" opacity="0.28"/>
<line x1="245.8" y1="426.0" x2="251.7" y2="424.5" stroke="#6a5442" stroke-width="0.7" opacity="0.16"/>
<line x1="144.2" y1="421.1" x2="149.1" y2="419.2" stroke="#5e4a3a" stroke-width="1.1" opacity="0.31"/>
<line x1="188.8" y1="420.8" x2="195.2" y2="417.5" stroke="#6a5442" stroke-width="1.2" opacity="0.25"/>
<line x1="190.2" y1="415.3" x2="196.6" y2="412.7" stroke="#574434" stroke-width="1.5" opacity="0.26"/>
<line x1="184.2" y1="420.1" x2="189.2" y2="418.0" stroke="#6a5442" stroke-width="0.8" opacity="0.45"/>
<line x1="155.5" y1="425.8" x2="159.2" y2="424.9" stroke="#80624a" stroke-width="1.0" opacity="0.30"/>
<line x1="261.6" y1="423.5" x2="268.0" y2="421.6" stroke="#574434" stroke-width="1.1" opacity="0.11"/>
<line x1="132.1" y1="417.5" x2="137.4" y2="416.3" stroke="#80624a" stroke-width="1.3" opacity="0.31"/>
<line x1="219.0" y1="410.9" x2="225.7" y2="409.3" stroke="#5e4a3a" stroke-width="1.4" opacity="0.36"/>
<line x1="201.0" y1="419.0" x2="207.0" y2="415.7" stroke="#80624a" stroke-width="1.4" opacity="0.29"/>
<line x1="189.6" y1="413.7" x2="193.3" y2="412.1" stroke="#4e3e32" stroke-width="0.8" opacity="0.33"/>
<line x1="115.9" y1="416.9" x2="122.9" y2="414.9" stroke="#6a5442" stroke-width="1.2" opacity="0.20"/>
<line x1="219.1" y1="417.5" x2="223.2" y2="414.8" stroke="#80624a" stroke-width="0.8" opacity="0.21"/>
<line x1="256.9" y1="419.5" x2="261.6" y2="416.3" stroke="#5e4a3a" stroke-width="1.2" opacity="0.13"/>
<line x1="267.4" y1="419.4" x2="270.6" y2="418.6" stroke="#574434" stroke-width="1.0" opacity="0.04"/>
<line x1="253.9" y1="421.5" x2="262.9" y2="417.6" stroke="#6a5442" stroke-width="0.9" opacity="0.17"/>
<line x1="165.7" y1="419.8" x2="174.0" y2="416.1" stroke="#574434" stroke-width="0.8" opacity="0.24"/>
<line x1="129.0" y1="414.6" x2="134.1" y2="412.0" stroke="#7a6048" stroke-width="1.1" opacity="0.35"/>
<line x1="165.2" y1="416.0" x2="173.0" y2="412.0" stroke="#574434" stroke-width="1.0" opacity="0.18"/>
<line x1="181.7" y1="417.1" x2="184.8" y2="416.2" stroke="#574434" stroke-width="1.3" opacity="0.23"/>
<line x1="115.2" y1="420.2" x2="121.1" y2="418.6" stroke="#574434" stroke-width="0.8" opacity="0.08"/>
<line x1="161.2" y1="419.9" x2="165.6" y2="418.8" stroke="#4e3e32" stroke-width="0.9" opacity="0.44"/>
<line x1="248.1" y1="425.3" x2="254.6" y2="422.2" stroke="#7a6048" stroke-width="1.1" opacity="0.32"/>
<line x1="169.1" y1="417.5" x2="175.6" y2="413.3" stroke="#7a6048" stroke-width="1.3" opacity="0.37"/>
<line x1="233.6" y1="416.8" x2="236.5" y2="415.9" stroke="#80624a" stroke-width="0.8" opacity="0.18"/>
<line x1="247.0" y1="419.9" x2="253.2" y2="416.8" stroke="#4e3e32" stroke-width="1.3" opacity="0.13"/>
<line x1="131.6" y1="418.8" x2="139.5" y2="415.0" stroke="#7a6048" stroke-width="1.0" opacity="0.22"/>
<line x1="258.4" y1="425.0" x2="261.9" y2="423.2" stroke="#6a5442" stroke-width="1.0" opacity="0.19"/>
<line x1="237.5" y1="425.1" x2="244.7" y2="421.9" stroke="#5e4a3a" stroke-width="1.0" opacity="0.15"/>
<line x1="207.6" y1="413.8" x2="215.3" y2="411.2" stroke="#6a5442" stroke-width="1.0" opacity="0.42"/>
<line x1="204.1" y1="421.6" x2="211.7" y2="418.5" stroke="#80624a" stroke-width="1.2" opacity="0.19"/>
<line x1="131.1" y1="423.0" x2="135.4" y2="421.0" stroke="#80624a" stroke-width="1.2" opacity="0.33"/>
<line x1="260.3" y1="418.6" x2="269.3" y2="416.2" stroke="#4e3e32" stroke-width="1.2" opacity="0.11"/>
<line x1="108.1" y1="413.6" x2="112.4" y2="412.5" stroke="#80624a" stroke-width="1.4" opacity="0.09"/>
<line x1="172.5" y1="425.7" x2="176.7" y2="423.9" stroke="#7a6048" stroke-width="1.5" opacity="0.33"/>
<line x1="171.6" y1="425.3" x2="179.9" y2="422.2" stroke="#5e4a3a" stroke-width="1.1" opacity="0.37"/>
<line x1="215.9" y1="419.2" x2="223.6" y2="415.8" stroke="#574434" stroke-width="0.7" opacity="0.40"/>
<line x1="219.7" y1="420.8" x2="228.9" y2="417.4" stroke="#4e3e32" stroke-width="0.9" opacity="0.31"/>
<line x1="266.5" y1="416.3" x2="272.8" y2="412.4" stroke="#80624a" stroke-width="1.3" opacity="0.03"/>
<line x1="215.7" y1="414.8" x2="221.6" y2="413.4" stroke="#7a6048" stroke-width="1.3" opacity="0.30"/>
<line x1="122.1" y1="423.0" x2="128.3" y2="419.0" stroke="#5e4a3a" stroke-width="1.3" opacity="0.14"/>
<line x1="127.4" y1="421.9" x2="135.5" y2="419.6" stroke="#6a5442" stroke-width="1.3" opacity="0.24"/>
<line x1="102.0" y1="415.9" x2="106.3" y2="413.1" stroke="#7a6048" stroke-width="1.1" opacity="0.03"/>
<line x1="119.9" y1="417.9" x2="123.4" y2="415.6" stroke="#6a5442" stroke-width="1.1" opacity="0.14"/>
<line x1="268.9" y1="422.5" x2="276.1" y2="418.5" stroke="#80624a" stroke-width="1.1" opacity="0.02"/>
<line x1="173.1" y1="417.9" x2="182.0" y2="414.6" stroke="#80624a" stroke-width="1.2" opacity="0.14"/>
<line x1="225.7" y1="423.8" x2="232.5" y2="419.2" stroke="#5e4a3a" stroke-width="1.4" opacity="0.16"/>
<line x1="149.5" y1="419.5" x2="157.6" y2="414.6" stroke="#80624a" stroke-width="1.4" opacity="0.40"/>
<line x1="228.8" y1="415.5" x2="233.5" y2="413.2" stroke="#4e3e32" stroke-width="1.4" opacity="0.40"/>
<line x1="243.6" y1="413.7" x2="252.0" y2="411.6" stroke="#80624a" stroke-width="1.0" opacity="0.14"/>
<line x1="106.1" y1="417.2" x2="115.4" y2="413.6" stroke="#80624a" stroke-width="0.8" opacity="0.09"/>
<line x1="220.2" y1="416.2" x2="223.2" y2="414.1" stroke="#5e4a3a" stroke-width="1.1" opacity="0.44"/>
<line x1="135.9" y1="415.2" x2="144.0" y2="411.7" stroke="#574434" stroke-width="0.9" opacity="0.33"/>
<line x1="214.3" y1="419.0" x2="220.0" y2="416.9" stroke="#574434" stroke-width="1.4" opacity="0.24"/>
<line x1="128.3" y1="417.7" x2="133.0" y2="414.9" stroke="#6a5442" stroke-width="1.1" opacity="0.26"/>
<line x1="190.1" y1="419.1" x2="193.8" y2="417.3" stroke="#4e3e32" stroke-width="1.2" opacity="0.33"/>
<line x1="240.8" y1="417.2" x2="245.5" y2="415.3" stroke="#7a6048" stroke-width="1.1" opacity="0.31"/>
<line x1="213.3" y1="416.3" x2="216.0" y2="414.6" stroke="#80624a" stroke-width="1.3" opacity="0.41"/>
<line x1="218.0" y1="418.3" x2="226.6" y2="414.0" stroke="#574434" stroke-width="1.2" opacity="0.31"/>
<line x1="168.1" y1="414.3" x2="173.8" y2="410.7" stroke="#7a6048" stroke-width="1.2" opacity="0.42"/>
<line x1="131.8" y1="422.9" x2="137.5" y2="420.5" stroke="#80624a" stroke-width="0.8" opacity="0.20"/>
<line x1="189.7" y1="416.4" x2="192.9" y2="414.9" stroke="#4e3e32" stroke-width="1.1" opacity="0.27"/>
<line x1="223.0" y1="419.6" x2="229.7" y2="415.2" stroke="#80624a" stroke-width="1.0" opacity="0.45"/>
<line x1="129.9" y1="423.5" x2="133.7" y2="422.4" stroke="#6a5442" stroke-width="1.0" opacity="0.33"/>
<line x1="107.6" y1="418.0" x2="112.8" y2="414.7" stroke="#574434" stroke-width="1.0" opacity="0.10"/>
<line x1="252.1" y1="423.9" x2="261.2" y2="421.5" stroke="#574434" stroke-width="1.0" opacity="0.18"/>
<line x1="246.3" y1="424.3" x2="250.5" y2="421.9" stroke="#4e3e32" stroke-width="1.3" opacity="0.11"/>
<line x1="265.2" y1="417.2" x2="268.7" y2="415.8" stroke="#4e3e32" stroke-width="0.8" opacity="0.09"/>
<line x1="260.1" y1="418.7" x2="266.0" y2="417.1" stroke="#4e3e32" stroke-width="1.1" opacity="0.07"/>
<line x1="237.7" y1="415.3" x2="241.6" y2="414.3" stroke="#80624a" stroke-width="1.2" opacity="0.22"/>
<line x1="243.9" y1="419.1" x2="251.1" y2="415.1" stroke="#5e4a3a" stroke-width="0.7" opacity="0.37"/>
<line x1="158.0" y1="418.0" x2="165.1" y2="413.1" stroke="#574434" stroke-width="1.2" opacity="0.41"/>
<line x1="210.6" y1="423.9" x2="217.7" y2="420.6" stroke="#574434" stroke-width="1.4" opacity="0.44"/>
<line x1="204.0" y1="415.1" x2="212.6" y2="411.8" stroke="#6a5442" stroke-width="0.9" opacity="0.21"/>
<line x1="240.3" y1="421.2" x2="248.8" y2="416.8" stroke="#7a6048" stroke-width="1.2" opacity="0.26"/>
<line x1="158.7" y1="414.9" x2="161.5" y2="413.2" stroke="#80624a" stroke-width="0.8" opacity="0.45"/>
<line x1="165.6" y1="420.3" x2="172.2" y2="417.7" stroke="#574434" stroke-width="1.5" opacity="0.25"/>
<line x1="104.0" y1="422.8" x2="111.9" y2="419.8" stroke="#80624a" stroke-width="0.8" opacity="0.07"/>
<line x1="238.1" y1="419.9" x2="241.5" y2="417.7" stroke="#7a6048" stroke-width="1.3" opacity="0.39"/>
<line x1="188.1" y1="420.0" x2="193.0" y2="416.8" stroke="#7a6048" stroke-width="1.2" opacity="0.31"/>
<line x1="251.5" y1="421.8" x2="260.0" y2="420.0" stroke="#574434" stroke-width="0.8" opacity="0.24"/>
<line x1="100.2" y1="422.9" x2="106.3" y2="419.6" stroke="#574434" stroke-width="1.2" opacity="0.01"/>
<line x1="123.3" y1="419.1" x2="130.7" y2="417.4" stroke="#6a5442" stroke-width="1.4" opacity="0.23"/>
<line x1="199.1" y1="414.4" x2="207.9" y2="410.0" stroke="#80624a" stroke-width="1.0" opacity="0.32"/>
<line x1="488.6" y1="347.3" x2="492.9" y2="344.9" stroke="#6a5442" stroke-width="1.3" opacity="0.28"/>
<line x1="439.7" y1="343.6" x2="445.6" y2="342.1" stroke="#7a6048" stroke-width="1.4" opacity="0.15"/>
<line x1="444.0" y1="352.2" x2="450.0" y2="348.3" stroke="#4e3e32" stroke-width="1.0" opacity="0.44"/>
<line x1="341.6" y1="348.9" x2="348.8" y2="347.1" stroke="#574434" stroke-width="1.0" opacity="0.28"/>
<line x1="487.0" y1="347.9" x2="494.4" y2="343.4" stroke="#5e4a3a" stroke-width="1.3" opacity="0.22"/>
<line x1="332.5" y1="355.9" x2="338.2" y2="354.6" stroke="#6a5442" stroke-width="0.7" opacity="0.19"/>
<line x1="377.2" y1="351.7" x2="384.9" y2="349.6" stroke="#574434" stroke-width="0.8" opacity="0.27"/>
<line x1="345.1" y1="351.9" x2="353.0" y2="348.2" stroke="#4e3e32" stroke-width="1.2" opacity="0.13"/>
<line x1="488.2" y1="353.3" x2="492.5" y2="351.7" stroke="#80624a" stroke-width="1.1" opacity="0.21"/>
<line x1="320.6" y1="355.8" x2="328.0" y2="352.8" stroke="#7a6048" stroke-width="1.1" opacity="0.05"/>
<line x1="501.6" y1="342.7" x2="508.9" y2="340.4" stroke="#7a6048" stroke-width="0.8" opacity="0.08"/>
<line x1="440.0" y1="357.1" x2="446.3" y2="353.2" stroke="#4e3e32" stroke-width="1.1" opacity="0.43"/>
<line x1="426.8" y1="353.4" x2="430.2" y2="351.3" stroke="#80624a" stroke-width="1.4" opacity="0.25"/>
<line x1="470.1" y1="350.5" x2="476.0" y2="348.9" stroke="#574434" stroke-width="1.2" opacity="0.36"/>
<line x1="382.6" y1="356.4" x2="390.4" y2="351.4" stroke="#80624a" stroke-width="0.7" opacity="0.24"/>
<line x1="476.5" y1="358.5" x2="480.6" y2="356.4" stroke="#5e4a3a" stroke-width="1.5" opacity="0.24"/>
<line x1="440.2" y1="346.7" x2="445.4" y2="343.7" stroke="#574434" stroke-width="1.0" opacity="0.22"/>
<line x1="398.0" y1="354.2" x2="407.4" y2="351.3" stroke="#5e4a3a" stroke-width="1.4" opacity="0.29"/>
<line x1="488.8" y1="352.4" x2="493.2" y2="350.1" stroke="#5e4a3a" stroke-width="1.4" opacity="0.26"/>
<line x1="365.8" y1="351.5" x2="369.6" y2="349.0" stroke="#574434" stroke-width="1.4" opacity="0.44"/>
<line x1="461.8" y1="350.6" x2="466.9" y2="347.4" stroke="#7a6048" stroke-width="1.2" opacity="0.28"/>
<line x1="475.9" y1="352.7" x2="480.5" y2="350.7" stroke="#7a6048" stroke-width="0.8" opacity="0.18"/>
<line x1="347.1" y1="350.0" x2="356.1" y2="347.0" stroke="#7a6048" stroke-width="1.5" opacity="0.21"/>
<line x1="323.1" y1="351.9" x2="326.0" y2="350.6" stroke="#574434" stroke-width="1.2" opacity="0.06"/>
<line x1="455.5" y1="349.5" x2="458.4" y2="347.6" stroke="#5e4a3a" stroke-width="1.5" opacity="0.42"/>
<line x1="419.1" y1="343.9" x2="426.0" y2="341.1" stroke="#6a5442" stroke-width="1.1" opacity="0.31"/>
<line x1="480.7" y1="352.4" x2="489.5" y2="350.4" stroke="#574434" stroke-width="1.3" opacity="0.35"/>
<line x1="370.8" y1="345.5" x2="373.8" y2="344.2" stroke="#5e4a3a" stroke-width="1.3" opacity="0.16"/>
<line x1="504.7" y1="348.0" x2="510.1" y2="345.0" stroke="#7a6048" stroke-width="1.3" opacity="0.04"/>
<line x1="511.1" y1="358.6" x2="515.9" y2="356.4" stroke="#574434" stroke-width="1.0" opacity="0.02"/>
<line x1="393.3" y1="346.6" x2="396.1" y2="345.5" stroke="#7a6048" stroke-width="1.3" opacity="0.45"/>
<line x1="461.6" y1="360.6" x2="465.0" y2="359.3" stroke="#6a5442" stroke-width="1.4" opacity="0.35"/>
<line x1="324.8" y1="352.8" x2="330.9" y2="349.6" stroke="#4e3e32" stroke-width="0.7" opacity="0.08"/>
<line x1="462.2" y1="357.5" x2="470.8" y2="352.5" stroke="#80624a" stroke-width="1.3" opacity="0.32"/>
<line x1="488.7" y1="345.4" x2="493.3" y2="343.8" stroke="#7a6048" stroke-width="0.8" opacity="0.29"/>
<line x1="474.3" y1="358.1" x2="479.0" y2="356.8" stroke="#80624a" stroke-width="1.0" opacity="0.38"/>
<line x1="431.6" y1="359.1" x2="439.0" y2="355.4" stroke="#574434" stroke-width="1.1" opacity="0.16"/>
<line x1="476.9" y1="345.6" x2="482.8" y2="343.4" stroke="#80624a" stroke-width="1.4" opacity="0.37"/>
<line x1="325.0" y1="354.4" x2="328.3" y2="352.3" stroke="#7a6048" stroke-width="1.0" opacity="0.09"/>
<line x1="387.2" y1="354.9" x2="393.9" y2="351.2" stroke="#7a6048" stroke-width="1.5" opacity="0.23"/>
<line x1="452.8" y1="352.4" x2="459.8" y2="348.0" stroke="#80624a" stroke-width="0.8" opacity="0.39"/>
<line x1="411.5" y1="356.2" x2="419.0" y2="352.0" stroke="#4e3e32" stroke-width="0.9" opacity="0.30"/>
<line x1="429.4" y1="343.7" x2="433.7" y2="341.5" stroke="#574434" stroke-width="0.9" opacity="0.36"/>
<line x1="403.3" y1="351.6" x2="407.1" y2="350.8" stroke="#7a6048" stroke-width="1.2" opacity="0.17"/>
<line x1="388.4" y1="347.2" x2="395.5" y2="343.5" stroke="#5e4a3a" stroke-width="1.0" opacity="0.25"/>
<line x1="437.1" y1="346.1" x2="440.7" y2="344.8" stroke="#80624a" stroke-width="1.2" opacity="0.40"/>
<line x1="327.9" y1="353.0" x2="333.4" y2="350.4" stroke="#5e4a3a" stroke-width="1.1" opacity="0.05"/>
<line x1="494.5" y1="349.9" x2="500.2" y2="347.3" stroke="#5e4a3a" stroke-width="1.0" opacity="0.16"/>
<line x1="409.1" y1="355.5" x2="415.4" y2="353.7" stroke="#80624a" stroke-width="0.9" opacity="0.29"/>
<line x1="355.5" y1="357.3" x2="360.2" y2="355.0" stroke="#5e4a3a" stroke-width="0.8" opacity="0.23"/>
<line x1="360.2" y1="350.4" x2="363.6" y2="349.3" stroke="#4e3e32" stroke-width="1.1" opacity="0.17"/>
<line x1="478.7" y1="346.9" x2="485.2" y2="344.8" stroke="#4e3e32" stroke-width="0.8" opacity="0.36"/>
<line x1="396.9" y1="347.9" x2="401.1" y2="347.0" stroke="#574434" stroke-width="1.5" opacity="0.24"/>
<line x1="368.5" y1="348.0" x2="376.8" y2="344.6" stroke="#4e3e32" stroke-width="1.4" opacity="0.22"/>
<line x1="450.7" y1="347.3" x2="456.3" y2="344.9" stroke="#7a6048" stroke-width="0.9" opacity="0.26"/>
<line x1="325.4" y1="351.2" x2="331.4" y2="348.8" stroke="#7a6048" stroke-width="1.4" opacity="0.07"/>
<line x1="382.7" y1="355.1" x2="389.3" y2="350.5" stroke="#6a5442" stroke-width="1.0" opacity="0.35"/>
<line x1="428.0" y1="347.4" x2="432.8" y2="345.8" stroke="#4e3e32" stroke-width="1.2" opacity="0.39"/>
<line x1="396.7" y1="350.8" x2="400.9" y2="349.7" stroke="#6a5442" stroke-width="0.7" opacity="0.20"/>
<line x1="485.3" y1="349.1" x2="494.0" y2="345.6" stroke="#574434" stroke-width="1.1" opacity="0.13"/>
<line x1="448.3" y1="353.0" x2="455.9" y2="348.3" stroke="#80624a" stroke-width="0.9" opacity="0.21"/>
<line x1="335.3" y1="350.7" x2="340.8" y2="348.7" stroke="#7a6048" stroke-width="1.3" opacity="0.22"/>
<line x1="404.4" y1="355.2" x2="407.7" y2="353.2" stroke="#5e4a3a" stroke-width="0.9" opacity="0.43"/>
<line x1="362.3" y1="350.4" x2="366.3" y2="349.4" stroke="#7a6048" stroke-width="1.1" opacity="0.31"/>
<line x1="356.3" y1="360.0" x2="365.1" y2="355.5" stroke="#574434" stroke-width="1.2" opacity="0.21"/>
<line x1="358.8" y1="348.8" x2="366.1" y2="345.3" stroke="#80624a" stroke-width="1.0" opacity="0.28"/>
<line x1="322.2" y1="352.6" x2="329.2" y2="349.6" stroke="#6a5442" stroke-width="0.9" opacity="0.04"/>
<line x1="385.6" y1="354.5" x2="388.9" y2="353.0" stroke="#7a6048" stroke-width="1.2" opacity="0.43"/>
<line x1="421.1" y1="343.8" x2="430.1" y2="341.3" stroke="#574434" stroke-width="1.2" opacity="0.22"/>
<line x1="375.8" y1="348.6" x2="379.5" y2="346.3" stroke="#7a6048" stroke-width="0.7" opacity="0.14"/>
<line x1="382.3" y1="348.3" x2="386.3" y2="347.0" stroke="#7a6048" stroke-width="1.3" opacity="0.37"/>
<line x1="460.2" y1="354.1" x2="463.9" y2="352.3" stroke="#6a5442" stroke-width="0.7" opacity="0.18"/>
<line x1="417.0" y1="349.8" x2="423.3" y2="346.6" stroke="#7a6048" stroke-width="1.3" opacity="0.18"/>
<line x1="462.7" y1="351.8" x2="465.5" y2="350.7" stroke="#5e4a3a" stroke-width="0.9" opacity="0.17"/>
<line x1="367.7" y1="344.7" x2="372.3" y2="342.9" stroke="#7a6048" stroke-width="1.1" opacity="0.19"/>
<line x1="348.7" y1="352.4" x2="352.6" y2="350.5" stroke="#574434" stroke-width="1.5" opacity="0.21"/>
<line x1="497.2" y1="354.9" x2="500.3" y2="352.9" stroke="#6a5442" stroke-width="1.1" opacity="0.10"/>
<line x1="471.9" y1="356.0" x2="478.9" y2="351.7" stroke="#7a6048" stroke-width="1.5" opacity="0.21"/>
<line x1="400.6" y1="348.7" x2="404.2" y2="347.4" stroke="#574434" stroke-width="0.9" opacity="0.32"/>
<line x1="434.3" y1="357.3" x2="438.7" y2="355.6" stroke="#6a5442" stroke-width="0.7" opacity="0.16"/>
<line x1="437.1" y1="358.4" x2="445.0" y2="354.8" stroke="#574434" stroke-width="0.7" opacity="0.25"/>
<line x1="502.9" y1="349.7" x2="507.4" y2="348.3" stroke="#80624a" stroke-width="0.8" opacity="0.05"/>
<line x1="473.0" y1="352.0" x2="480.4" y2="349.5" stroke="#6a5442" stroke-width="1.5" opacity="0.43"/>
<line x1="471.1" y1="352.2" x2="480.0" y2="349.3" stroke="#80624a" stroke-width="0.8" opacity="0.38"/>
<line x1="486.8" y1="345.4" x2="494.1" y2="343.7" stroke="#4e3e32" stroke-width="0.8" opacity="0.18"/>
<line x1="505.9" y1="356.6" x2="514.5" y2="354.6" stroke="#6a5442" stroke-width="1.3" opacity="0.03"/>
<line x1="479.5" y1="356.6" x2="487.9" y2="354.0" stroke="#4e3e32" stroke-width="0.9" opacity="0.23"/>
<line x1="504.5" y1="357.7" x2="513.9" y2="354.8" stroke="#7a6048" stroke-width="1.3" opacity="0.03"/>
<line x1="482.4" y1="350.8" x2="490.9" y2="347.4" stroke="#80624a" stroke-width="1.4" opacity="0.24"/>
<line x1="324.2" y1="353.6" x2="331.7" y2="349.7" stroke="#5e4a3a" stroke-width="1.0" opacity="0.08"/>
<line x1="331.9" y1="357.3" x2="338.8" y2="355.4" stroke="#7a6048" stroke-width="0.7" opacity="0.11"/>
<line x1="412.6" y1="342.5" x2="418.1" y2="340.3" stroke="#5e4a3a" stroke-width="0.8" opacity="0.39"/>
<line x1="425.1" y1="346.0" x2="428.0" y2="344.5" stroke="#7a6048" stroke-width="0.8" opacity="0.28"/>
<line x1="492.9" y1="351.2" x2="497.1" y2="349.6" stroke="#5e4a3a" stroke-width="1.4" opacity="0.12"/>
<line x1="352.4" y1="354.1" x2="356.8" y2="352.9" stroke="#4e3e32" stroke-width="1.4" opacity="0.23"/>
<line x1="505.2" y1="348.4" x2="513.1" y2="345.4" stroke="#574434" stroke-width="1.0" opacity="0.08"/>
<line x1="316.5" y1="351.7" x2="323.1" y2="349.3" stroke="#80624a" stroke-width="1.0" opacity="0.01"/>
<line x1="335.3" y1="356.2" x2="340.8" y2="354.9" stroke="#7a6048" stroke-width="1.2" opacity="0.15"/>
<line x1="330.5" y1="352.7" x2="335.7" y2="350.8" stroke="#80624a" stroke-width="1.2" opacity="0.17"/>
<line x1="501.6" y1="350.6" x2="507.7" y2="348.5" stroke="#6a5442" stroke-width="0.7" opacity="0.11"/>
<line x1="480.1" y1="354.7" x2="488.1" y2="352.6" stroke="#80624a" stroke-width="1.2" opacity="0.23"/>
<line x1="405.1" y1="358.0" x2="413.5" y2="353.4" stroke="#574434" stroke-width="1.2" opacity="0.14"/>
<line x1="429.5" y1="346.6" x2="436.1" y2="343.0" stroke="#574434" stroke-width="0.9" opacity="0.37"/>
<line x1="422.2" y1="356.8" x2="430.4" y2="354.0" stroke="#5e4a3a" stroke-width="1.1" opacity="0.34"/>
<line x1="507.9" y1="355.7" x2="516.0" y2="352.1" stroke="#6a5442" stroke-width="1.3" opacity="0.03"/>
<line x1="385.1" y1="347.9" x2="389.1" y2="346.6" stroke="#574434" stroke-width="1.2" opacity="0.41"/>
<line x1="496.0" y1="358.0" x2="501.2" y2="356.2" stroke="#7a6048" stroke-width="0.9" opacity="0.18"/>
<line x1="504.2" y1="346.6" x2="507.4" y2="344.8" stroke="#5e4a3a" stroke-width="1.0" opacity="0.08"/>
<line x1="472.5" y1="347.9" x2="479.2" y2="345.0" stroke="#5e4a3a" stroke-width="1.2" opacity="0.43"/>
<line x1="470.0" y1="346.3" x2="475.9" y2="343.9" stroke="#80624a" stroke-width="1.0" opacity="0.37"/>
<line x1="329.0" y1="353.4" x2="337.4" y2="351.0" stroke="#6a5442" stroke-width="0.9" opacity="0.10"/>
<line x1="468.8" y1="350.2" x2="474.2" y2="348.9" stroke="#7a6048" stroke-width="1.5" opacity="0.32"/>
<line x1="490.1" y1="351.9" x2="498.5" y2="349.5" stroke="#80624a" stroke-width="0.8" opacity="0.19"/>
<line x1="375.3" y1="358.9" x2="382.8" y2="356.6" stroke="#5e4a3a" stroke-width="1.4" opacity="0.34"/>
<line x1="472.6" y1="354.3" x2="477.7" y2="352.9" stroke="#80624a" stroke-width="1.4" opacity="0.29"/>
<line x1="422.1" y1="354.0" x2="425.6" y2="352.2" stroke="#6a5442" stroke-width="1.4" opacity="0.42"/>
<line x1="328.7" y1="347.9" x2="333.9" y2="344.8" stroke="#80624a" stroke-width="0.9" opacity="0.07"/>
<line x1="482.4" y1="359.1" x2="489.8" y2="356.7" stroke="#4e3e32" stroke-width="0.8" opacity="0.15"/>
<line x1="371.7" y1="352.4" x2="376.7" y2="349.7" stroke="#80624a" stroke-width="1.3" opacity="0.43"/>
<line x1="454.6" y1="350.8" x2="461.5" y2="348.8" stroke="#7a6048" stroke-width="1.2" opacity="0.16"/>
<line x1="494.0" y1="349.9" x2="501.7" y2="344.8" stroke="#6a5442" stroke-width="1.3" opacity="0.15"/>
<line x1="329.2" y1="354.8" x2="335.5" y2="350.8" stroke="#7a6048" stroke-width="1.1" opacity="0.05"/>
<line x1="509.4" y1="354.4" x2="515.6" y2="351.7" stroke="#5e4a3a" stroke-width="0.9" opacity="0.02"/>
<line x1="441.1" y1="348.0" x2="445.4" y2="346.7" stroke="#574434" stroke-width="0.9" opacity="0.32"/>
<line x1="509.8" y1="354.8" x2="513.8" y2="353.6" stroke="#7a6048" stroke-width="1.0" opacity="0.03"/>
<line x1="327.9" y1="356.0" x2="333.2" y2="353.8" stroke="#4e3e32" stroke-width="1.0" opacity="0.10"/>
<line x1="447.5" y1="351.4" x2="453.8" y2="349.2" stroke="#7a6048" stroke-width="0.8" opacity="0.26"/>
<line x1="409.5" y1="348.1" x2="416.7" y2="344.8" stroke="#7a6048" stroke-width="1.2" opacity="0.35"/>
<line x1="336.4" y1="352.8" x2="344.1" y2="347.5" stroke="#574434" stroke-width="1.3" opacity="0.09"/>
<line x1="462.0" y1="352.8" x2="469.8" y2="348.6" stroke="#6a5442" stroke-width="1.4" opacity="0.37"/>
<line x1="460.3" y1="349.0" x2="463.3" y2="348.2" stroke="#80624a" stroke-width="1.3" opacity="0.20"/>
<line x1="422.7" y1="354.2" x2="427.3" y2="351.9" stroke="#6a5442" stroke-width="0.7" opacity="0.32"/>
<line x1="350.3" y1="355.5" x2="355.5" y2="352.1" stroke="#6a5442" stroke-width="1.4" opacity="0.34"/>
<line x1="388.0" y1="356.3" x2="392.8" y2="353.8" stroke="#574434" stroke-width="1.4" opacity="0.17"/>
<line x1="419.4" y1="347.9" x2="426.8" y2="346.2" stroke="#574434" stroke-width="1.3" opacity="0.25"/>
<line x1="503.4" y1="356.4" x2="508.8" y2="354.8" stroke="#5e4a3a" stroke-width="0.8" opacity="0.10"/>
<line x1="319.1" y1="349.2" x2="322.0" y2="348.4" stroke="#6a5442" stroke-width="1.1" opacity="0.02"/>
<line x1="324.1" y1="356.6" x2="329.1" y2="354.7" stroke="#5e4a3a" stroke-width="1.1" opacity="0.04"/>
<line x1="442.9" y1="346.5" x2="447.6" y2="343.4" stroke="#4e3e32" stroke-width="1.4" opacity="0.42"/>
<line x1="502.2" y1="352.1" x2="509.8" y2="350.2" stroke="#6a5442" stroke-width="1.2" opacity="0.12"/>
<line x1="456.7" y1="352.3" x2="465.5" y2="350.4" stroke="#80624a" stroke-width="1.2" opacity="0.34"/>
<line x1="452.7" y1="348.7" x2="458.7" y2="344.8" stroke="#574434" stroke-width="1.3" opacity="0.42"/>
<line x1="492.8" y1="347.0" x2="497.1" y2="345.6" stroke="#80624a" stroke-width="0.7" opacity="0.21"/>
<line x1="335.2" y1="360.4" x2="338.1" y2="358.7" stroke="#574434" stroke-width="1.3" opacity="0.07"/>
<line x1="325.3" y1="353.2" x2="328.3" y2="351.8" stroke="#5e4a3a" stroke-width="1.3" opacity="0.06"/>
<line x1="335.0" y1="360.8" x2="342.4" y2="356.3" stroke="#4e3e32" stroke-width="1.0" opacity="0.10"/>
<line x1="418.0" y1="355.7" x2="420.9" y2="353.7" stroke="#80624a" stroke-width="1.4" opacity="0.41"/>
<line x1="416.5" y1="354.3" x2="419.5" y2="352.4" stroke="#4e3e32" stroke-width="1.2" opacity="0.39"/>
<line x1="407.0" y1="354.4" x2="410.9" y2="352.7" stroke="#5e4a3a" stroke-width="0.9" opacity="0.20"/>
<line x1="455.9" y1="357.5" x2="462.0" y2="353.5" stroke="#4e3e32" stroke-width="1.0" opacity="0.44"/>
<line x1="335.1" y1="358.2" x2="338.4" y2="356.5" stroke="#7a6048" stroke-width="0.9" opacity="0.19"/>
<line x1="375.0" y1="353.0" x2="378.7" y2="350.6" stroke="#6a5442" stroke-width="0.8" opacity="0.24"/>
<line x1="453.1" y1="353.4" x2="458.5" y2="351.3" stroke="#80624a" stroke-width="0.9" opacity="0.28"/>
<line x1="467.3" y1="349.7" x2="470.6" y2="348.6" stroke="#80624a" stroke-width="1.2" opacity="0.15"/>
<line x1="482.8" y1="356.4" x2="491.5" y2="352.4" stroke="#80624a" stroke-width="0.8" opacity="0.15"/>
<line x1="473.0" y1="350.7" x2="476.5" y2="348.5" stroke="#80624a" stroke-width="1.2" opacity="0.26"/>
<line x1="409.7" y1="355.9" x2="414.7" y2="354.4" stroke="#6a5442" stroke-width="1.0" opacity="0.37"/>
<line x1="319.6" y1="353.1" x2="324.7" y2="351.5" stroke="#574434" stroke-width="1.4" opacity="0.04"/>
<line x1="473.7" y1="347.9" x2="478.6" y2="346.1" stroke="#7a6048" stroke-width="0.8" opacity="0.40"/>
<line x1="338.9" y1="349.2" x2="345.6" y2="345.5" stroke="#5e4a3a" stroke-width="1.4" opacity="0.10"/>
<line x1="419.1" y1="356.2" x2="423.4" y2="354.8" stroke="#6a5442" stroke-width="1.3" opacity="0.34"/>
<line x1="400.7" y1="353.6" x2="407.0" y2="349.8" stroke="#80624a" stroke-width="0.9" opacity="0.33"/>
<line x1="391.5" y1="355.9" x2="400.0" y2="352.8" stroke="#4e3e32" stroke-width="1.5" opacity="0.17"/>
<line x1="442.5" y1="355.6" x2="449.5" y2="351.9" stroke="#6a5442" stroke-width="1.3" opacity="0.33"/>
<line x1="420.8" y1="343.0" x2="428.4" y2="340.2" stroke="#4e3e32" stroke-width="1.3" opacity="0.31"/>
<line x1="370.1" y1="351.5" x2="374.7" y2="349.3" stroke="#80624a" stroke-width="0.8" opacity="0.17"/>
<line x1="512.6" y1="360.5" x2="517.1" y2="357.8" stroke="#5e4a3a" stroke-width="1.4" opacity="0.02"/>
<line x1="361.0" y1="359.6" x2="365.1" y2="356.8" stroke="#574434" stroke-width="0.8" opacity="0.35"/>
<line x1="333.8" y1="357.2" x2="337.8" y2="354.5" stroke="#5e4a3a" stroke-width="0.8" opacity="0.11"/>
<line x1="511.7" y1="352.6" x2="515.5" y2="350.1" stroke="#6a5442" stroke-width="0.9" opacity="0.03"/>
<line x1="501.3" y1="355.2" x2="505.1" y2="353.3" stroke="#80624a" stroke-width="0.9" opacity="0.11"/>
<line x1="387.1" y1="349.0" x2="394.6" y2="344.9" stroke="#5e4a3a" stroke-width="1.4" opacity="0.22"/>
<line x1="320.1" y1="359.1" x2="327.9" y2="354.7" stroke="#5e4a3a" stroke-width="0.9" opacity="0.06"/>
<line x1="317.2" y1="346.3" x2="321.8" y2="344.2" stroke="#5e4a3a" stroke-width="0.8" opacity="0.01"/>
<line x1="406.8" y1="350.5" x2="412.3" y2="347.2" stroke="#574434" stroke-width="1.0" opacity="0.18"/>
<line x1="328.0" y1="346.1" x2="332.2" y2="344.0" stroke="#6a5442" stroke-width="0.8" opacity="0.08"/>
<line x1="357.6" y1="355.7" x2="367.0" y2="353.1" stroke="#6a5442" stroke-width="0.7" opacity="0.41"/>
<line x1="401.7" y1="347.8" x2="406.1" y2="344.9" stroke="#5e4a3a" stroke-width="0.9" opacity="0.30"/>
<line x1="499.2" y1="354.5" x2="504.6" y2="351.7" stroke="#574434" stroke-width="0.9" opacity="0.06"/>
<line x1="472.8" y1="349.4" x2="477.2" y2="347.5" stroke="#80624a" stroke-width="1.2" opacity="0.29"/>
<line x1="417.5" y1="347.1" x2="423.4" y2="343.8" stroke="#5e4a3a" stroke-width="1.2" opacity="0.37"/>
<line x1="343.5" y1="349.7" x2="347.9" y2="346.8" stroke="#7a6048" stroke-width="1.2" opacity="0.29"/>
<line x1="443.8" y1="349.6" x2="451.2" y2="346.2" stroke="#6a5442" stroke-width="0.9" opacity="0.28"/>
<line x1="510.3" y1="353.8" x2="513.9" y2="351.4" stroke="#6a5442" stroke-width="1.2" opacity="0.03"/>
<line x1="317.3" y1="353.7" x2="323.7" y2="352.2" stroke="#5e4a3a" stroke-width="1.2" opacity="0.02"/>
<line x1="357.8" y1="352.8" x2="362.7" y2="351.3" stroke="#7a6048" stroke-width="0.9" opacity="0.29"/>
<line x1="506.1" y1="350.2" x2="512.4" y2="345.8" stroke="#7a6048" stroke-width="1.3" opacity="0.05"/>
<line x1="362.1" y1="352.4" x2="368.8" y2="349.4" stroke="#4e3e32" stroke-width="1.3" opacity="0.39"/>
<line x1="343.7" y1="345.0" x2="347.1" y2="342.9" stroke="#4e3e32" stroke-width="0.8" opacity="0.30"/>
<line x1="380.2" y1="350.6" x2="383.6" y2="349.6" stroke="#5e4a3a" stroke-width="0.9" opacity="0.27"/>
<line x1="426.8" y1="345.7" x2="436.1" y2="342.6" stroke="#6a5442" stroke-width="0.7" opacity="0.37"/>
<line x1="497.6" y1="341.9" x2="502.5" y2="340.8" stroke="#574434" stroke-width="1.0" opacity="0.10"/>
<line x1="420.6" y1="360.0" x2="426.1" y2="356.5" stroke="#574434" stroke-width="1.1" opacity="0.34"/>
<line x1="420.4" y1="353.0" x2="426.7" y2="350.1" stroke="#4e3e32" stroke-width="1.4" opacity="0.30"/>
<line x1="429.4" y1="350.7" x2="433.6" y2="348.6" stroke="#4e3e32" stroke-width="0.9" opacity="0.22"/>
<line x1="479.6" y1="349.4" x2="483.6" y2="347.3" stroke="#6a5442" stroke-width="1.1" opacity="0.31"/>
<line x1="382.9" y1="360.3" x2="388.4" y2="357.4" stroke="#574434" stroke-width="1.5" opacity="0.42"/>
<line x1="333.8" y1="357.3" x2="337.6" y2="356.0" stroke="#7a6048" stroke-width="1.3" opacity="0.12"/>
<line x1="387.6" y1="356.9" x2="391.5" y2="354.6" stroke="#7a6048" stroke-width="0.8" opacity="0.18"/>
<line x1="416.6" y1="357.8" x2="422.3" y2="355.2" stroke="#7a6048" stroke-width="1.2" opacity="0.34"/>
<line x1="386.2" y1="354.4" x2="391.4" y2="350.7" stroke="#80624a" stroke-width="1.3" opacity="0.19"/>
<line x1="393.5" y1="349.9" x2="399.4" y2="346.5" stroke="#574434" stroke-width="1.3" opacity="0.23"/>
<line x1="508.0" y1="351.3" x2="512.6" y2="349.9" stroke="#4e3e32" stroke-width="1.1" opacity="0.04"/>
<line x1="447.3" y1="350.5" x2="453.7" y2="347.4" stroke="#4e3e32" stroke-width="0.9" opacity="0.42"/>
<line x1="330.6" y1="342.7" x2="333.3" y2="341.2" stroke="#7a6048" stroke-width="1.4" opacity="0.12"/>
<line x1="472.7" y1="343.8" x2="475.8" y2="341.9" stroke="#5e4a3a" stroke-width="1.0" opacity="0.17"/>
<line x1="419.9" y1="349.4" x2="423.9" y2="346.8" stroke="#6a5442" stroke-width="0.9" opacity="0.29"/>
<line x1="369.0" y1="341.8" x2="372.7" y2="340.8" stroke="#7a6048" stroke-width="1.0" opacity="0.44"/>
<line x1="414.4" y1="353.2" x2="417.3" y2="351.4" stroke="#80624a" stroke-width="1.0" opacity="0.31"/>
<line x1="374.1" y1="345.3" x2="379.4" y2="341.9" stroke="#574434" stroke-width="0.9" opacity="0.16"/>
<line x1="457.1" y1="358.2" x2="460.6" y2="356.9" stroke="#4e3e32" stroke-width="1.0" opacity="0.21"/>
<line x1="317.7" y1="353.6" x2="323.6" y2="351.7" stroke="#4e3e32" stroke-width="1.0" opacity="0.03"/>
<line x1="422.1" y1="349.4" x2="426.1" y2="347.2" stroke="#80624a" stroke-width="1.3" opacity="0.36"/>
<line x1="403.6" y1="345.4" x2="413.2" y2="342.9" stroke="#574434" stroke-width="0.8" opacity="0.45"/>
<line x1="358.4" y1="359.0" x2="367.7" y2="356.2" stroke="#7a6048" stroke-width="1.0" opacity="0.36"/>
<line x1="419.8" y1="353.1" x2="424.3" y2="350.7" stroke="#574434" stroke-width="0.8" opacity="0.24"/>
<line x1="501.6" y1="355.5" x2="505.2" y2="354.0" stroke="#4e3e32" stroke-width="1.4" opacity="0.07"/>
<line x1="450.9" y1="350.0" x2="458.0" y2="347.3" stroke="#5e4a3a" stroke-width="1.1" opacity="0.16"/>
<line x1="365.3" y1="350.8" x2="371.3" y2="348.8" stroke="#80624a" stroke-width="1.0" opacity="0.24"/>
<line x1="405.2" y1="361.3" x2="408.6" y2="359.7" stroke="#80624a" stroke-width="1.4" opacity="0.33"/>
<line x1="342.9" y1="360.4" x2="346.1" y2="359.2" stroke="#6a5442" stroke-width="0.9" opacity="0.21"/>
<line x1="330.0" y1="357.5" x2="333.3" y2="355.9" stroke="#6a5442" stroke-width="1.3" opacity="0.09"/>
<line x1="461.3" y1="351.4" x2="467.6" y2="349.3" stroke="#7a6048" stroke-width="0.8" opacity="0.35"/>
<line x1="420.1" y1="352.8" x2="427.6" y2="349.2" stroke="#7a6048" stroke-width="1.0" opacity="0.19"/>
<line x1="490.7" y1="352.2" x2="500.0" y2="350.0" stroke="#80624a" stroke-width="1.4" opacity="0.09"/>
<line x1="409.1" y1="358.2" x2="415.0" y2="356.2" stroke="#80624a" stroke-width="1.3" opacity="0.23"/>
<line x1="463.9" y1="356.4" x2="470.2" y2="354.5" stroke="#6a5442" stroke-width="0.9" opacity="0.41"/>
<line x1="409.1" y1="353.9" x2="413.6" y2="351.2" stroke="#80624a" stroke-width="1.4" opacity="0.40"/>
<line x1="451.8" y1="348.9" x2="455.9" y2="346.8" stroke="#7a6048" stroke-width="1.2" opacity="0.14"/>
<line x1="493.2" y1="356.2" x2="500.8" y2="352.0" stroke="#7a6048" stroke-width="0.9" opacity="0.20"/>
<line x1="439.5" y1="348.0" x2="442.4" y2="346.9" stroke="#80624a" stroke-width="1.3" opacity="0.43"/>
<line x1="429.2" y1="359.4" x2="432.5" y2="358.6" stroke="#574434" stroke-width="1.3" opacity="0.34"/>
<line x1="476.0" y1="352.3" x2="483.6" y2="347.7" stroke="#4e3e32" stroke-width="1.3" opacity="0.24"/>
<line x1="449.0" y1="351.2" x2="454.0" y2="349.7" stroke="#80624a" stroke-width="1.4" opacity="0.19"/>
<line x1="421.2" y1="359.9" x2="430.8" y2="357.6" stroke="#5e4a3a" stroke-width="1.3" opacity="0.40"/>
<line x1="471.7" y1="353.2" x2="475.7" y2="350.6" stroke="#7a6048" stroke-width="1.4" opacity="0.25"/>
<line x1="495.0" y1="346.2" x2="500.4" y2="342.5" stroke="#5e4a3a" stroke-width="1.2" opacity="0.16"/>
<line x1="375.6" y1="351.1" x2="384.2" y2="347.7" stroke="#7a6048" stroke-width="1.4" opacity="0.34"/>
<line x1="462.3" y1="353.7" x2="465.8" y2="352.4" stroke="#4e3e32" stroke-width="0.8" opacity="0.32"/>
<line x1="404.7" y1="351.5" x2="408.8" y2="349.8" stroke="#80624a" stroke-width="1.3" opacity="0.21"/>
<line x1="340.0" y1="351.4" x2="345.7" y2="349.5" stroke="#5e4a3a" stroke-width="1.5" opacity="0.20"/>
<line x1="352.8" y1="349.4" x2="356.4" y2="348.3" stroke="#4e3e32" stroke-width="1.3" opacity="0.34"/>
<line x1="358.9" y1="361.5" x2="364.3" y2="359.7" stroke="#5e4a3a" stroke-width="0.9" opacity="0.27"/>
<line x1="374.9" y1="353.0" x2="381.2" y2="350.3" stroke="#80624a" stroke-width="1.4" opacity="0.20"/>
<line x1="436.7" y1="354.5" x2="440.1" y2="352.1" stroke="#80624a" stroke-width="1.1" opacity="0.42"/>
<line x1="467.3" y1="354.8" x2="471.0" y2="352.3" stroke="#4e3e32" stroke-width="1.4" opacity="0.43"/>
<line x1="458.4" y1="351.2" x2="461.9" y2="349.2" stroke="#574434" stroke-width="1.2" opacity="0.28"/>
<line x1="475.6" y1="352.3" x2="480.1" y2="350.2" stroke="#4e3e32" stroke-width="1.2" opacity="0.22"/>
<line x1="326.8" y1="357.9" x2="330.8" y2="356.7" stroke="#4e3e32" stroke-width="0.9" opacity="0.11"/>
<line x1="418.8" y1="349.4" x2="422.9" y2="347.8" stroke="#80624a" stroke-width="0.8" opacity="0.42"/>
<line x1="407.3" y1="350.1" x2="412.8" y2="347.7" stroke="#5e4a3a" stroke-width="1.5" opacity="0.40"/>
<line x1="402.8" y1="343.8" x2="409.4" y2="339.7" stroke="#5e4a3a" stroke-width="0.8" opacity="0.39"/>
<line x1="356.7" y1="352.9" x2="365.4" y2="348.0" stroke="#5e4a3a" stroke-width="1.0" opacity="0.36"/>
<line x1="402.9" y1="351.1" x2="406.6" y2="349.7" stroke="#6a5442" stroke-width="1.1" opacity="0.28"/>
<line x1="351.4" y1="350.8" x2="357.7" y2="349.4" stroke="#5e4a3a" stroke-width="1.1" opacity="0.41"/>
<line x1="409.4" y1="352.3" x2="414.3" y2="349.9" stroke="#6a5442" stroke-width="1.0" opacity="0.21"/>
<line x1="386.0" y1="350.0" x2="390.9" y2="347.0" stroke="#4e3e32" stroke-width="1.1" opacity="0.35"/>
<line x1="322.5" y1="355.2" x2="330.1" y2="352.5" stroke="#5e4a3a" stroke-width="1.2" opacity="0.06"/>
<line x1="345.5" y1="356.8" x2="352.8" y2="354.0" stroke="#80624a" stroke-width="1.4" opacity="0.11"/>
<line x1="471.0" y1="355.8" x2="479.9" y2="352.1" stroke="#5e4a3a" stroke-width="1.2" opacity="0.25"/>
<line x1="371.3" y1="352.5" x2="378.4" y2="350.4" stroke="#5e4a3a" stroke-width="1.1" opacity="0.44"/>
<line x1="385.9" y1="355.3" x2="394.8" y2="352.0" stroke="#5e4a3a" stroke-width="0.8" opacity="0.30"/>
<line x1="367.2" y1="353.4" x2="370.1" y2="352.5" stroke="#6a5442" stroke-width="1.0" opacity="0.41"/>
<line x1="495.9" y1="351.2" x2="503.4" y2="346.7" stroke="#80624a" stroke-width="1.0" opacity="0.11"/>
<line x1="330.8" y1="351.7" x2="335.3" y2="349.1" stroke="#5e4a3a" stroke-width="0.9" opacity="0.07"/>
<line x1="460.6" y1="358.8" x2="467.3" y2="357.1" stroke="#6a5442" stroke-width="1.3" opacity="0.43"/>
<line x1="343.9" y1="351.4" x2="351.2" y2="347.9" stroke="#80624a" stroke-width="1.4" opacity="0.22"/>
<line x1="466.5" y1="358.2" x2="469.4" y2="356.4" stroke="#6a5442" stroke-width="1.0" opacity="0.15"/>
<line x1="454.2" y1="347.9" x2="458.1" y2="346.0" stroke="#574434" stroke-width="1.0" opacity="0.17"/>
<line x1="510.6" y1="349.6" x2="515.1" y2="348.6" stroke="#80624a" stroke-width="1.3" opacity="0.02"/>
<line x1="349.4" y1="345.9" x2="356.2" y2="341.4" stroke="#4e3e32" stroke-width="1.2" opacity="0.22"/>
<line x1="496.8" y1="355.3" x2="499.6" y2="354.0" stroke="#6a5442" stroke-width="1.2" opacity="0.20"/>
<line x1="380.7" y1="356.5" x2="389.4" y2="353.0" stroke="#574434" stroke-width="1.1" opacity="0.41"/>
<line x1="450.5" y1="350.4" x2="459.5" y2="347.3" stroke="#6a5442" stroke-width="1.4" opacity="0.30"/>
<line x1="386.6" y1="351.6" x2="393.4" y2="348.1" stroke="#5e4a3a" stroke-width="1.5" opacity="0.26"/>
<line x1="500.5" y1="350.8" x2="505.2" y2="349.6" stroke="#80624a" stroke-width="1.3" opacity="0.09"/>
<line x1="477.8" y1="360.5" x2="485.1" y2="356.5" stroke="#4e3e32" stroke-width="1.0" opacity="0.21"/>
<line x1="427.6" y1="358.5" x2="436.7" y2="354.5" stroke="#6a5442" stroke-width="0.8" opacity="0.41"/>
<line x1="466.5" y1="357.0" x2="472.4" y2="355.6" stroke="#6a5442" stroke-width="1.2" opacity="0.32"/>
<line x1="341.7" y1="354.5" x2="347.5" y2="353.0" stroke="#7a6048" stroke-width="0.8" opacity="0.22"/>
<line x1="405.2" y1="345.9" x2="409.5" y2="343.0" stroke="#7a6048" stroke-width="0.9" opacity="0.40"/>
<line x1="389.0" y1="361.6" x2="394.5" y2="359.4" stroke="#80624a" stroke-width="1.3" opacity="0.45"/>
<line x1="406.1" y1="355.6" x2="411.5" y2="352.2" stroke="#80624a" stroke-width="1.4" opacity="0.43"/>
<line x1="475.5" y1="350.8" x2="483.4" y2="348.9" stroke="#7a6048" stroke-width="1.2" opacity="0.39"/>
<line x1="390.3" y1="353.4" x2="395.6" y2="350.0" stroke="#6a5442" stroke-width="0.9" opacity="0.15"/>
<line x1="433.4" y1="352.1" x2="441.7" y2="348.9" stroke="#574434" stroke-width="1.2" opacity="0.23"/>
<line x1="466.8" y1="356.8" x2="470.8" y2="355.8" stroke="#574434" stroke-width="1.1" opacity="0.22"/>
<line x1="470.0" y1="354.5" x2="478.8" y2="351.1" stroke="#6a5442" stroke-width="1.2" opacity="0.21"/>
<line x1="419.6" y1="355.6" x2="428.6" y2="353.0" stroke="#80624a" stroke-width="0.7" opacity="0.17"/>
<line x1="392.4" y1="353.5" x2="396.2" y2="351.4" stroke="#4e3e32" stroke-width="1.2" opacity="0.30"/>
<line x1="425.4" y1="347.6" x2="431.2" y2="345.0" stroke="#7a6048" stroke-width="1.2" opacity="0.18"/>
<line x1="335.4" y1="357.7" x2="340.0" y2="354.7" stroke="#5e4a3a" stroke-width="1.5" opacity="0.12"/>
<line x1="510.7" y1="349.0" x2="516.0" y2="346.9" stroke="#7a6048" stroke-width="1.3" opacity="0.04"/>
<line x1="378.6" y1="356.4" x2="383.9" y2="354.7" stroke="#80624a" stroke-width="1.3" opacity="0.28"/>
<line x1="410.4" y1="354.4" x2="416.9" y2="350.4" stroke="#574434" stroke-width="1.2" opacity="0.44"/>
<line x1="376.3" y1="354.3" x2="379.2" y2="352.4" stroke="#4e3e32" stroke-width="0.8" opacity="0.44"/>
<line x1="418.8" y1="356.5" x2="422.1" y2="354.7" stroke="#6a5442" stroke-width="1.5" opacity="0.21"/>
<line x1="450.0" y1="348.5" x2="455.9" y2="347.2" stroke="#7a6048" stroke-width="1.4" opacity="0.16"/>
<line x1="453.0" y1="351.2" x2="458.8" y2="347.8" stroke="#4e3e32" stroke-width="0.9" opacity="0.36"/>
<line x1="351.3" y1="350.9" x2="356.0" y2="349.7" stroke="#4e3e32" stroke-width="1.5" opacity="0.38"/>
<line x1="448.9" y1="356.3" x2="455.7" y2="354.0" stroke="#5e4a3a" stroke-width="0.8" opacity="0.15"/>
<line x1="462.8" y1="345.5" x2="470.2" y2="343.7" stroke="#6a5442" stroke-width="1.5" opacity="0.25"/>
<line x1="439.0" y1="350.5" x2="445.1" y2="347.4" stroke="#7a6048" stroke-width="0.9" opacity="0.37"/>
<line x1="342.5" y1="345.6" x2="349.9" y2="341.1" stroke="#4e3e32" stroke-width="1.2" opacity="0.23"/>
<line x1="333.6" y1="352.6" x2="340.6" y2="348.6" stroke="#574434" stroke-width="0.9" opacity="0.18"/>
<line x1="466.9" y1="352.5" x2="470.3" y2="351.0" stroke="#5e4a3a" stroke-width="1.0" opacity="0.21"/>
<line x1="411.2" y1="351.5" x2="414.4" y2="350.8" stroke="#574434" stroke-width="1.4" opacity="0.45"/>
<line x1="436.0" y1="344.2" x2="440.4" y2="341.3" stroke="#80624a" stroke-width="0.8" opacity="0.17"/>
<line x1="464.8" y1="351.4" x2="471.5" y2="347.4" stroke="#5e4a3a" stroke-width="1.0" opacity="0.28"/>
<line x1="497.7" y1="353.4" x2="500.5" y2="351.6" stroke="#80624a" stroke-width="1.2" opacity="0.09"/>
<line x1="346.9" y1="349.0" x2="351.4" y2="346.1" stroke="#80624a" stroke-width="1.3" opacity="0.23"/>
<line x1="353.9" y1="348.0" x2="358.2" y2="346.0" stroke="#574434" stroke-width="1.4" opacity="0.20"/>
<line x1="317.0" y1="347.4" x2="320.4" y2="346.2" stroke="#7a6048" stroke-width="1.0" opacity="0.00"/>
<line x1="367.4" y1="351.5" x2="374.5" y2="348.2" stroke="#574434" stroke-width="0.8" opacity="0.26"/>
<line x1="326.6" y1="345.9" x2="332.0" y2="344.1" stroke="#7a6048" stroke-width="0.9" opacity="0.10"/>
<line x1="446.7" y1="355.7" x2="455.9" y2="353.0" stroke="#5e4a3a" stroke-width="0.8" opacity="0.23"/>
<line x1="329.3" y1="352.5" x2="333.5" y2="351.6" stroke="#80624a" stroke-width="0.7" opacity="0.05"/>
<line x1="458.8" y1="350.7" x2="461.9" y2="349.4" stroke="#80624a" stroke-width="0.9" opacity="0.24"/>
<line x1="350.1" y1="354.5" x2="353.8" y2="352.7" stroke="#574434" stroke-width="0.7" opacity="0.34"/>
<line x1="334.2" y1="358.0" x2="338.2" y2="357.0" stroke="#80624a" stroke-width="0.8" opacity="0.15"/>
<line x1="474.9" y1="345.9" x2="482.6" y2="341.0" stroke="#7a6048" stroke-width="1.5" opacity="0.18"/>
<line x1="377.9" y1="359.4" x2="384.8" y2="357.9" stroke="#80624a" stroke-width="1.3" opacity="0.41"/>
<line x1="481.6" y1="351.4" x2="488.5" y2="347.1" stroke="#7a6048" stroke-width="1.1" opacity="0.16"/>
<line x1="432.1" y1="346.9" x2="438.0" y2="344.1" stroke="#80624a" stroke-width="1.2" opacity="0.30"/>
<line x1="323.9" y1="345.9" x2="329.4" y2="343.2" stroke="#5e4a3a" stroke-width="0.9" opacity="0.07"/>
<line x1="499.4" y1="350.7" x2="504.9" y2="348.8" stroke="#7a6048" stroke-width="1.1" opacity="0.09"/>
<line x1="461.2" y1="348.5" x2="465.8" y2="346.2" stroke="#7a6048" stroke-width="1.3" opacity="0.25"/>
<line x1="355.6" y1="352.5" x2="362.9" y2="349.9" stroke="#80624a" stroke-width="0.7" opacity="0.34"/>
<line x1="423.6" y1="349.2" x2="430.6" y2="347.4" stroke="#7a6048" stroke-width="1.3" opacity="0.28"/>
<line x1="359.9" y1="346.5" x2="367.4" y2="343.3" stroke="#7a6048" stroke-width="0.9" opacity="0.39"/>
<line x1="493.5" y1="342.6" x2="499.3" y2="341.3" stroke="#7a6048" stroke-width="1.0" opacity="0.13"/>
<line x1="378.1" y1="353.3" x2="382.9" y2="352.1" stroke="#574434" stroke-width="1.0" opacity="0.19"/>
<line x1="483.7" y1="356.4" x2="491.2" y2="352.6" stroke="#6a5442" stroke-width="0.8" opacity="0.15"/>
<line x1="367.6" y1="358.7" x2="376.5" y2="354.4" stroke="#574434" stroke-width="1.0" opacity="0.45"/>
<line x1="316.6" y1="353.8" x2="323.8" y2="351.1" stroke="#574434" stroke-width="0.9" opacity="0.01"/>
<line x1="429.5" y1="349.9" x2="437.1" y2="347.8" stroke="#574434" stroke-width="0.9" opacity="0.17"/>
<line x1="432.1" y1="350.8" x2="437.1" y2="349.0" stroke="#4e3e32" stroke-width="0.8" opacity="0.15"/>
<line x1="405.7" y1="350.1" x2="413.5" y2="344.8" stroke="#574434" stroke-width="0.8" opacity="0.45"/>
<line x1="511.1" y1="353.6" x2="517.5" y2="350.5" stroke="#6a5442" stroke-width="1.1" opacity="0.01"/>
<line x1="424.9" y1="350.3" x2="430.1" y2="346.7" stroke="#80624a" stroke-width="1.0" opacity="0.36"/>
<line x1="360.3" y1="356.9" x2="366.4" y2="353.9" stroke="#6a5442" stroke-width="1.5" opacity="0.40"/>
<line x1="466.5" y1="359.2" x2="471.5" y2="357.9" stroke="#80624a" stroke-width="0.7" opacity="0.41"/>
<line x1="333.7" y1="346.6" x2="339.5" y2="343.5" stroke="#80624a" stroke-width="1.0" opacity="0.13"/>
<line x1="389.6" y1="349.8" x2="393.0" y2="348.0" stroke="#4e3e32" stroke-width="0.9" opacity="0.30"/>
<line x1="489.6" y1="349.3" x2="495.7" y2="346.0" stroke="#6a5442" stroke-width="1.2" opacity="0.20"/>
<line x1="457.4" y1="355.3" x2="463.8" y2="351.3" stroke="#80624a" stroke-width="1.4" opacity="0.45"/>
<line x1="382.9" y1="356.6" x2="387.9" y2="353.6" stroke="#80624a" stroke-width="0.9" opacity="0.25"/>
<line x1="420.4" y1="348.9" x2="427.2" y2="344.8" stroke="#7a6048" stroke-width="1.4" opacity="0.19"/>
<line x1="327.2" y1="355.5" x2="332.0" y2="352.3" stroke="#4e3e32" stroke-width="1.1" opacity="0.07"/>
<line x1="355.0" y1="349.8" x2="359.6" y2="348.2" stroke="#574434" stroke-width="1.3" opacity="0.35"/>
<line x1="468.1" y1="357.9" x2="474.5" y2="355.7" stroke="#80624a" stroke-width="1.2" opacity="0.23"/>
<line x1="341.3" y1="351.9" x2="348.3" y2="349.8" stroke="#4e3e32" stroke-width="1.4" opacity="0.21"/>
<line x1="447.6" y1="353.5" x2="455.8" y2="349.9" stroke="#4e3e32" stroke-width="1.5" opacity="0.18"/>
<line x1="480.0" y1="348.7" x2="483.2" y2="348.0" stroke="#4e3e32" stroke-width="1.3" opacity="0.29"/>
<line x1="368.5" y1="353.1" x2="374.0" y2="349.4" stroke="#574434" stroke-width="1.1" opacity="0.40"/>
<line x1="481.1" y1="354.0" x2="485.4" y2="352.9" stroke="#7a6048" stroke-width="1.2" opacity="0.35"/>
<line x1="340.9" y1="356.3" x2="347.5" y2="351.9" stroke="#80624a" stroke-width="0.9" opacity="0.10"/>
<line x1="369.0" y1="362.2" x2="378.0" y2="358.0" stroke="#7a6048" stroke-width="1.1" opacity="0.41"/>
<line x1="314.6" y1="345.4" x2="323.6" y2="342.2" stroke="#5e4a3a" stroke-width="1.2" opacity="0.01"/>
<line x1="485.7" y1="351.0" x2="493.4" y2="347.5" stroke="#574434" stroke-width="1.5" opacity="0.20"/>
<line x1="360.1" y1="354.4" x2="363.6" y2="352.5" stroke="#6a5442" stroke-width="0.9" opacity="0.30"/>
<line x1="358.6" y1="356.4" x2="363.9" y2="352.7" stroke="#80624a" stroke-width="1.3" opacity="0.30"/>
<line x1="454.3" y1="347.3" x2="463.4" y2="345.1" stroke="#574434" stroke-width="1.1" opacity="0.29"/>
<line x1="345.0" y1="357.5" x2="352.3" y2="353.1" stroke="#80624a" stroke-width="0.9" opacity="0.23"/>
<line x1="430.0" y1="353.7" x2="433.3" y2="351.9" stroke="#4e3e32" stroke-width="1.2" opacity="0.25"/>
<line x1="359.0" y1="345.5" x2="363.6" y2="344.2" stroke="#4e3e32" stroke-width="1.1" opacity="0.39"/>
<line x1="426.9" y1="359.7" x2="433.3" y2="355.5" stroke="#80624a" stroke-width="1.0" opacity="0.19"/>
<line x1="407.1" y1="359.4" x2="414.8" y2="354.7" stroke="#574434" stroke-width="1.1" opacity="0.28"/>
<line x1="345.9" y1="353.0" x2="349.4" y2="350.9" stroke="#4e3e32" stroke-width="1.4" opacity="0.19"/>
<line x1="347.4" y1="350.3" x2="352.8" y2="346.8" stroke="#574434" stroke-width="1.1" opacity="0.27"/>
<line x1="490.6" y1="349.2" x2="499.4" y2="347.3" stroke="#80624a" stroke-width="1.3" opacity="0.15"/>
<line x1="360.8" y1="355.2" x2="366.1" y2="351.7" stroke="#80624a" stroke-width="0.8" opacity="0.26"/>
<line x1="377.5" y1="352.4" x2="380.7" y2="351.1" stroke="#6a5442" stroke-width="0.9" opacity="0.39"/>
<line x1="357.2" y1="353.2" x2="360.7" y2="350.8" stroke="#5e4a3a" stroke-width="0.9" opacity="0.22"/>
<line x1="362.5" y1="356.6" x2="370.1" y2="351.8" stroke="#80624a" stroke-width="0.8" opacity="0.37"/>
<line x1="455.2" y1="360.0" x2="458.3" y2="359.0" stroke="#5e4a3a" stroke-width="1.2" opacity="0.20"/>
<line x1="420.0" y1="348.4" x2="428.3" y2="345.7" stroke="#80624a" stroke-width="1.0" opacity="0.33"/>
<line x1="468.1" y1="355.1" x2="473.8" y2="353.6" stroke="#5e4a3a" stroke-width="0.9" opacity="0.20"/>
<line x1="323.2" y1="354.8" x2="332.3" y2="350.9" stroke="#6a5442" stroke-width="0.8" opacity="0.10"/>
<line x1="388.0" y1="361.7" x2="394.9" y2="359.2" stroke="#574434" stroke-width="1.1" opacity="0.14"/>
<line x1="342.0" y1="351.9" x2="346.1" y2="350.4" stroke="#80624a" stroke-width="0.7" opacity="0.24"/>
<line x1="375.0" y1="353.4" x2="378.9" y2="350.9" stroke="#6a5442" stroke-width="1.2" opacity="0.30"/>
<line x1="371.4" y1="354.4" x2="378.8" y2="349.7" stroke="#80624a" stroke-width="1.2" opacity="0.31"/>
<line x1="512.4" y1="353.3" x2="519.8" y2="350.5" stroke="#80624a" stroke-width="1.1" opacity="0.01"/>
<line x1="396.2" y1="349.3" x2="405.0" y2="344.9" stroke="#5e4a3a" stroke-width="1.4" opacity="0.23"/>
<line x1="391.0" y1="348.6" x2="396.2" y2="346.4" stroke="#4e3e32" stroke-width="0.9" opacity="0.36"/>
<line x1="337.8" y1="346.3" x2="341.8" y2="344.5" stroke="#4e3e32" stroke-width="0.9" opacity="0.23"/>
<line x1="344.3" y1="352.7" x2="352.4" y2="348.1" stroke="#4e3e32" stroke-width="0.7" opacity="0.33"/>
<line x1="330.0" y1="356.0" x2="338.5" y2="352.1" stroke="#6a5442" stroke-width="0.8" opacity="0.16"/>
<line x1="473.4" y1="352.0" x2="481.1" y2="348.1" stroke="#5e4a3a" stroke-width="0.8" opacity="0.39"/>
<line x1="320.2" y1="353.8" x2="326.6" y2="351.3" stroke="#6a5442" stroke-width="0.8" opacity="0.05"/>
<line x1="477.7" y1="349.8" x2="485.1" y2="344.9" stroke="#80624a" stroke-width="1.5" opacity="0.19"/>
<line x1="424.4" y1="351.4" x2="427.8" y2="349.8" stroke="#4e3e32" stroke-width="1.3" opacity="0.16"/>
<line x1="433.0" y1="351.9" x2="436.9" y2="350.1" stroke="#7a6048" stroke-width="1.1" opacity="0.29"/>
<line x1="381.1" y1="353.8" x2="384.4" y2="352.4" stroke="#7a6048" stroke-width="0.9" opacity="0.30"/>
<line x1="338.3" y1="352.3" x2="343.4" y2="349.9" stroke="#4e3e32" stroke-width="0.9" opacity="0.21"/>
<line x1="510.9" y1="361.4" x2="515.5" y2="360.0" stroke="#4e3e32" stroke-width="1.3" opacity="0.04"/>
<line x1="343.5" y1="348.2" x2="346.2" y2="346.7" stroke="#80624a" stroke-width="0.8" opacity="0.26"/>
<line x1="366.2" y1="351.1" x2="372.9" y2="346.7" stroke="#80624a" stroke-width="1.3" opacity="0.28"/>
<line x1="350.2" y1="353.9" x2="359.2" y2="351.8" stroke="#5e4a3a" stroke-width="1.0" opacity="0.25"/>
<line x1="399.1" y1="353.4" x2="405.9" y2="350.1" stroke="#4e3e32" stroke-width="1.0" opacity="0.37"/>
<line x1="394.3" y1="346.9" x2="399.2" y2="344.8" stroke="#6a5442" stroke-width="1.4" opacity="0.30"/>
<line x1="361.6" y1="357.2" x2="370.2" y2="354.9" stroke="#7a6048" stroke-width="1.4" opacity="0.43"/>
<line x1="405.4" y1="352.6" x2="413.3" y2="347.9" stroke="#4e3e32" stroke-width="1.2" opacity="0.45"/>
<line x1="349.6" y1="349.4" x2="354.1" y2="346.5" stroke="#574434" stroke-width="0.8" opacity="0.18"/>
<line x1="425.5" y1="361.1" x2="429.7" y2="358.3" stroke="#574434" stroke-width="1.0" opacity="0.44"/>
<line x1="316.4" y1="351.0" x2="324.5" y2="347.0" stroke="#6a5442" stroke-width="0.8" opacity="0.01"/>
<line x1="503.3" y1="348.4" x2="509.0" y2="345.7" stroke="#80624a" stroke-width="1.1" opacity="0.09"/>
<line x1="362.2" y1="355.1" x2="371.8" y2="352.6" stroke="#6a5442" stroke-width="1.3" opacity="0.26"/>
<line x1="432.9" y1="355.0" x2="438.3" y2="351.7" stroke="#5e4a3a" stroke-width="0.8" opacity="0.41"/>
<line x1="421.7" y1="348.8" x2="429.1" y2="345.8" stroke="#80624a" stroke-width="1.2" opacity="0.20"/>
<line x1="434.7" y1="359.7" x2="439.8" y2="358.5" stroke="#7a6048" stroke-width="1.1" opacity="0.32"/>
<line x1="323.5" y1="352.1" x2="327.7" y2="349.8" stroke="#5e4a3a" stroke-width="1.3" opacity="0.08"/>
<line x1="404.9" y1="354.1" x2="408.4" y2="352.8" stroke="#6a5442" stroke-width="0.9" opacity="0.24"/>
<line x1="451.2" y1="352.7" x2="456.9" y2="349.7" stroke="#7a6048" stroke-width="1.5" opacity="0.18"/>
<line x1="402.5" y1="358.2" x2="410.9" y2="353.1" stroke="#6a5442" stroke-width="0.8" opacity="0.19"/>
<line x1="322.6" y1="358.8" x2="325.7" y2="357.0" stroke="#574434" stroke-width="1.3" opacity="0.05"/>
<line x1="432.0" y1="347.0" x2="437.4" y2="345.0" stroke="#4e3e32" stroke-width="0.7" opacity="0.29"/>
<line x1="321.3" y1="356.2" x2="329.5" y2="350.6" stroke="#6a5442" stroke-width="1.4" opacity="0.04"/>
<line x1="487.2" y1="351.6" x2="490.5" y2="350.0" stroke="#7a6048" stroke-width="0.7" opacity="0.18"/>
<line x1="591.1" y1="283.6" x2="597.2" y2="280.6" stroke="#5e4a3a" stroke-width="0.8" opacity="0.16"/>
<line x1="626.5" y1="282.9" x2="629.5" y2="281.9" stroke="#5e4a3a" stroke-width="1.4" opacity="0.30"/>
<line x1="665.0" y1="283.3" x2="671.7" y2="279.6" stroke="#6a5442" stroke-width="1.4" opacity="0.03"/>
<line x1="654.7" y1="282.4" x2="659.5" y2="280.8" stroke="#4e3e32" stroke-width="0.7" opacity="0.13"/>
<line x1="580.3" y1="284.8" x2="589.2" y2="282.2" stroke="#80624a" stroke-width="0.7" opacity="0.26"/>
<line x1="600.2" y1="286.7" x2="606.9" y2="283.7" stroke="#80624a" stroke-width="1.4" opacity="0.44"/>
<line x1="548.8" y1="283.9" x2="556.3" y2="281.4" stroke="#574434" stroke-width="0.7" opacity="0.04"/>
<line x1="624.6" y1="284.0" x2="628.9" y2="282.6" stroke="#4e3e32" stroke-width="1.5" opacity="0.26"/>
<line x1="638.0" y1="283.4" x2="645.3" y2="278.7" stroke="#5e4a3a" stroke-width="1.1" opacity="0.39"/>
<line x1="591.1" y1="285.2" x2="597.7" y2="283.2" stroke="#7a6048" stroke-width="0.7" opacity="0.19"/>
<line x1="576.3" y1="288.4" x2="584.3" y2="284.5" stroke="#4e3e32" stroke-width="1.2" opacity="0.19"/>
<line x1="634.5" y1="280.0" x2="643.3" y2="276.4" stroke="#6a5442" stroke-width="1.2" opacity="0.26"/>
<line x1="557.8" y1="286.7" x2="566.2" y2="284.3" stroke="#574434" stroke-width="1.4" opacity="0.11"/>
<line x1="561.8" y1="287.0" x2="570.0" y2="282.4" stroke="#574434" stroke-width="1.3" opacity="0.12"/>
<line x1="620.7" y1="290.6" x2="629.2" y2="288.5" stroke="#7a6048" stroke-width="1.3" opacity="0.24"/>
<line x1="591.3" y1="283.1" x2="599.3" y2="280.0" stroke="#574434" stroke-width="0.8" opacity="0.28"/>
<line x1="649.5" y1="286.1" x2="656.0" y2="282.0" stroke="#7a6048" stroke-width="1.3" opacity="0.25"/>
<line x1="581.7" y1="278.9" x2="587.7" y2="277.2" stroke="#574434" stroke-width="1.1" opacity="0.38"/>
<line x1="554.5" y1="282.4" x2="562.3" y2="276.9" stroke="#80624a" stroke-width="1.0" opacity="0.09"/>
<line x1="559.3" y1="281.0" x2="565.6" y2="277.1" stroke="#5e4a3a" stroke-width="1.0" opacity="0.27"/>
<line x1="573.6" y1="288.1" x2="580.0" y2="285.9" stroke="#574434" stroke-width="1.4" opacity="0.38"/>
<line x1="552.5" y1="282.0" x2="558.0" y2="279.4" stroke="#574434" stroke-width="1.4" opacity="0.06"/>
<line x1="621.2" y1="283.9" x2="629.9" y2="279.9" stroke="#4e3e32" stroke-width="1.1" opacity="0.43"/>
<line x1="595.9" y1="283.5" x2="603.3" y2="280.7" stroke="#4e3e32" stroke-width="1.0" opacity="0.21"/>
<line x1="664.7" y1="284.0" x2="673.0" y2="279.9" stroke="#6a5442" stroke-width="1.1" opacity="0.02"/>
<line x1="633.5" y1="280.4" x2="638.5" y2="277.3" stroke="#7a6048" stroke-width="1.1" opacity="0.19"/>
<line x1="601.5" y1="290.2" x2="607.7" y2="288.8" stroke="#574434" stroke-width="0.8" opacity="0.43"/>
<line x1="574.5" y1="281.2" x2="582.0" y2="277.1" stroke="#4e3e32" stroke-width="1.4" opacity="0.36"/>
<line x1="590.2" y1="284.7" x2="595.9" y2="282.0" stroke="#574434" stroke-width="1.3" opacity="0.37"/>
<line x1="628.7" y1="282.1" x2="633.2" y2="279.5" stroke="#7a6048" stroke-width="1.2" opacity="0.45"/>
<line x1="654.9" y1="288.7" x2="658.1" y2="286.6" stroke="#4e3e32" stroke-width="0.8" opacity="0.14"/>
<line x1="635.9" y1="289.8" x2="642.4" y2="287.3" stroke="#574434" stroke-width="1.5" opacity="0.34"/>
<line x1="617.3" y1="283.8" x2="622.1" y2="281.7" stroke="#5e4a3a" stroke-width="0.7" opacity="0.22"/>
<line x1="607.0" y1="285.2" x2="609.9" y2="283.6" stroke="#6a5442" stroke-width="1.4" opacity="0.39"/>
<line x1="573.3" y1="286.7" x2="578.9" y2="282.9" stroke="#6a5442" stroke-width="0.8" opacity="0.31"/>
<line x1="568.8" y1="278.8" x2="576.2" y2="275.1" stroke="#574434" stroke-width="1.1" opacity="0.30"/>
<line x1="625.9" y1="277.6" x2="629.0" y2="276.6" stroke="#80624a" stroke-width="1.3" opacity="0.29"/>
<line x1="590.7" y1="285.6" x2="594.6" y2="284.4" stroke="#80624a" stroke-width="1.4" opacity="0.28"/>
<line x1="636.9" y1="284.1" x2="643.8" y2="279.5" stroke="#7a6048" stroke-width="1.5" opacity="0.39"/>
<line x1="627.4" y1="285.7" x2="632.0" y2="283.0" stroke="#7a6048" stroke-width="0.7" opacity="0.17"/>
<line x1="599.5" y1="289.5" x2="603.9" y2="286.9" stroke="#80624a" stroke-width="0.9" opacity="0.36"/>
<line x1="570.0" y1="285.5" x2="575.2" y2="283.7" stroke="#5e4a3a" stroke-width="0.8" opacity="0.29"/>
<line x1="649.8" y1="287.0" x2="657.1" y2="284.2" stroke="#80624a" stroke-width="1.0" opacity="0.22"/>
<line x1="570.0" y1="287.5" x2="575.3" y2="283.9" stroke="#574434" stroke-width="1.0" opacity="0.37"/>
<line x1="640.7" y1="283.5" x2="644.5" y2="282.3" stroke="#80624a" stroke-width="1.2" opacity="0.35"/>
<line x1="646.5" y1="282.2" x2="655.6" y2="280.2" stroke="#5e4a3a" stroke-width="1.0" opacity="0.15"/>
<line x1="556.8" y1="284.3" x2="560.8" y2="283.0" stroke="#6a5442" stroke-width="1.0" opacity="0.15"/>
<line x1="616.7" y1="286.2" x2="622.2" y2="284.1" stroke="#5e4a3a" stroke-width="1.5" opacity="0.38"/>
<line x1="579.5" y1="287.1" x2="584.2" y2="286.0" stroke="#80624a" stroke-width="0.7" opacity="0.31"/>
<line x1="583.8" y1="281.8" x2="591.4" y2="276.5" stroke="#80624a" stroke-width="0.9" opacity="0.27"/>
<line x1="547.0" y1="285.2" x2="550.4" y2="283.5" stroke="#6a5442" stroke-width="1.1" opacity="0.01"/>
<line x1="597.0" y1="284.2" x2="602.1" y2="282.0" stroke="#80624a" stroke-width="0.7" opacity="0.29"/>
<line x1="595.6" y1="282.9" x2="601.9" y2="281.3" stroke="#574434" stroke-width="1.4" opacity="0.20"/>
<line x1="620.3" y1="283.7" x2="623.4" y2="282.7" stroke="#574434" stroke-width="0.8" opacity="0.41"/>
<line x1="629.1" y1="286.4" x2="632.3" y2="285.3" stroke="#574434" stroke-width="1.0" opacity="0.26"/>
<line x1="665.8" y1="283.5" x2="669.9" y2="280.9" stroke="#574434" stroke-width="1.1" opacity="0.01"/>
<line x1="654.4" y1="288.6" x2="658.0" y2="286.8" stroke="#7a6048" stroke-width="0.9" opacity="0.17"/>
<line x1="638.3" y1="286.9" x2="643.9" y2="285.6" stroke="#7a6048" stroke-width="0.7" opacity="0.24"/>
<line x1="602.8" y1="282.1" x2="612.1" y2="278.9" stroke="#5e4a3a" stroke-width="1.3" opacity="0.30"/>
<line x1="637.4" y1="281.1" x2="640.9" y2="280.1" stroke="#80624a" stroke-width="1.2" opacity="0.44"/>
<line x1="589.1" y1="277.4" x2="593.9" y2="275.6" stroke="#5e4a3a" stroke-width="1.1" opacity="0.31"/>
<line x1="644.2" y1="283.5" x2="649.6" y2="280.0" stroke="#7a6048" stroke-width="1.2" opacity="0.14"/>
<line x1="597.6" y1="290.9" x2="601.0" y2="289.8" stroke="#80624a" stroke-width="0.7" opacity="0.44"/>
<line x1="559.2" y1="285.0" x2="565.9" y2="281.3" stroke="#6a5442" stroke-width="1.0" opacity="0.27"/>
<line x1="614.4" y1="282.0" x2="618.7" y2="280.8" stroke="#574434" stroke-width="0.8" opacity="0.28"/>
<line x1="654.6" y1="285.7" x2="660.3" y2="284.3" stroke="#6a5442" stroke-width="1.0" opacity="0.09"/>
<line x1="629.4" y1="287.9" x2="636.2" y2="286.0" stroke="#6a5442" stroke-width="1.0" opacity="0.29"/>
<line x1="560.9" y1="283.3" x2="566.5" y2="281.8" stroke="#4e3e32" stroke-width="1.4" opacity="0.26"/>
<line x1="595.2" y1="280.4" x2="602.1" y2="277.6" stroke="#4e3e32" stroke-width="1.1" opacity="0.28"/>
<line x1="567.5" y1="281.4" x2="571.5" y2="279.1" stroke="#6a5442" stroke-width="1.0" opacity="0.15"/>
<line x1="547.5" y1="287.5" x2="555.0" y2="285.0" stroke="#5e4a3a" stroke-width="0.9" opacity="0.07"/>
<line x1="633.1" y1="283.3" x2="640.3" y2="278.9" stroke="#7a6048" stroke-width="1.1" opacity="0.32"/>
<line x1="570.1" y1="286.5" x2="575.3" y2="283.3" stroke="#80624a" stroke-width="1.3" opacity="0.37"/>
<line x1="622.3" y1="287.0" x2="631.2" y2="283.7" stroke="#80624a" stroke-width="0.9" opacity="0.31"/>
<line x1="545.4" y1="283.9" x2="550.4" y2="282.1" stroke="#6a5442" stroke-width="1.0" opacity="0.01"/>
<line x1="613.3" y1="281.6" x2="618.7" y2="280.4" stroke="#6a5442" stroke-width="1.1" opacity="0.27"/>
<line x1="585.2" y1="281.0" x2="588.4" y2="278.8" stroke="#4e3e32" stroke-width="0.7" opacity="0.19"/>
<line x1="652.3" y1="286.3" x2="656.7" y2="283.3" stroke="#574434" stroke-width="1.4" opacity="0.18"/>
<line x1="573.8" y1="284.0" x2="579.5" y2="281.2" stroke="#574434" stroke-width="0.8" opacity="0.39"/>
<line x1="642.2" y1="285.6" x2="650.5" y2="282.8" stroke="#5e4a3a" stroke-width="1.4" opacity="0.24"/>
<line x1="663.2" y1="281.3" x2="668.9" y2="279.0" stroke="#4e3e32" stroke-width="0.8" opacity="0.06"/>
<line x1="628.7" y1="279.2" x2="636.5" y2="277.5" stroke="#4e3e32" stroke-width="0.9" opacity="0.30"/>
<line x1="585.4" y1="284.4" x2="592.9" y2="280.0" stroke="#80624a" stroke-width="1.1" opacity="0.28"/>
<line x1="664.6" y1="282.1" x2="667.3" y2="280.6" stroke="#4e3e32" stroke-width="0.8" opacity="0.07"/>
<line x1="606.4" y1="285.9" x2="610.7" y2="284.7" stroke="#4e3e32" stroke-width="1.2" opacity="0.24"/>
<line x1="655.4" y1="281.9" x2="660.1" y2="280.4" stroke="#574434" stroke-width="0.9" opacity="0.16"/>
<line x1="630.3" y1="282.3" x2="636.2" y2="280.8" stroke="#80624a" stroke-width="1.0" opacity="0.32"/>
<line x1="592.8" y1="285.2" x2="598.4" y2="283.5" stroke="#6a5442" stroke-width="1.0" opacity="0.29"/>
<line x1="656.8" y1="286.5" x2="663.8" y2="283.1" stroke="#7a6048" stroke-width="1.4" opacity="0.12"/>
<line x1="559.7" y1="291.5" x2="565.9" y2="289.1" stroke="#574434" stroke-width="0.8" opacity="0.25"/>
<line x1="584.7" y1="286.5" x2="592.0" y2="283.1" stroke="#6a5442" stroke-width="1.5" opacity="0.14"/>
<line x1="554.7" y1="279.0" x2="561.8" y2="277.5" stroke="#7a6048" stroke-width="1.3" opacity="0.13"/>
<line x1="627.0" y1="282.2" x2="633.6" y2="279.8" stroke="#4e3e32" stroke-width="0.7" opacity="0.37"/>
<line x1="564.0" y1="282.8" x2="570.4" y2="279.8" stroke="#574434" stroke-width="1.1" opacity="0.32"/>
<line x1="611.4" y1="285.6" x2="616.5" y2="284.5" stroke="#6a5442" stroke-width="1.0" opacity="0.40"/>
<line x1="638.9" y1="286.6" x2="646.9" y2="284.8" stroke="#4e3e32" stroke-width="1.2" opacity="0.36"/>
<line x1="626.8" y1="282.2" x2="635.0" y2="276.7" stroke="#4e3e32" stroke-width="1.0" opacity="0.17"/>
<line x1="614.1" y1="283.9" x2="621.2" y2="282.0" stroke="#80624a" stroke-width="1.1" opacity="0.22"/>
<line x1="581.9" y1="287.5" x2="584.8" y2="286.1" stroke="#4e3e32" stroke-width="1.1" opacity="0.31"/>
<line x1="613.5" y1="288.4" x2="616.7" y2="287.5" stroke="#6a5442" stroke-width="1.2" opacity="0.29"/>
<line x1="647.4" y1="276.4" x2="652.4" y2="275.0" stroke="#80624a" stroke-width="1.5" opacity="0.16"/>
<line x1="606.3" y1="285.0" x2="612.3" y2="281.8" stroke="#574434" stroke-width="0.8" opacity="0.34"/>
<line x1="564.1" y1="280.5" x2="570.4" y2="277.9" stroke="#5e4a3a" stroke-width="1.0" opacity="0.21"/>
<line x1="640.5" y1="286.3" x2="647.5" y2="281.9" stroke="#4e3e32" stroke-width="1.1" opacity="0.28"/>
<line x1="622.4" y1="287.4" x2="626.0" y2="285.5" stroke="#5e4a3a" stroke-width="0.7" opacity="0.33"/>
<line x1="554.8" y1="286.3" x2="563.3" y2="281.6" stroke="#6a5442" stroke-width="0.8" opacity="0.13"/>
<line x1="638.7" y1="284.1" x2="642.6" y2="283.0" stroke="#5e4a3a" stroke-width="1.2" opacity="0.25"/>
<line x1="550.2" y1="284.5" x2="554.5" y2="281.7" stroke="#80624a" stroke-width="1.3" opacity="0.04"/>
<line x1="594.2" y1="289.3" x2="599.1" y2="286.6" stroke="#6a5442" stroke-width="1.3" opacity="0.31"/>
<line x1="583.0" y1="277.7" x2="586.1" y2="276.8" stroke="#4e3e32" stroke-width="0.9" opacity="0.44"/>
<line x1="658.1" y1="284.7" x2="661.5" y2="282.8" stroke="#80624a" stroke-width="0.8" opacity="0.13"/>
<line x1="625.8" y1="289.2" x2="633.7" y2="283.9" stroke="#6a5442" stroke-width="1.3" opacity="0.35"/>
<line x1="637.8" y1="286.0" x2="641.7" y2="284.9" stroke="#80624a" stroke-width="1.2" opacity="0.41"/>
<line x1="664.1" y1="282.6" x2="668.2" y2="280.4" stroke="#4e3e32" stroke-width="1.3" opacity="0.06"/>
<line x1="603.3" y1="285.9" x2="610.4" y2="282.7" stroke="#4e3e32" stroke-width="1.2" opacity="0.41"/>
<line x1="623.7" y1="284.4" x2="633.0" y2="281.3" stroke="#4e3e32" stroke-width="1.4" opacity="0.36"/>
<line x1="562.6" y1="284.0" x2="568.0" y2="282.8" stroke="#80624a" stroke-width="1.1" opacity="0.29"/>
<line x1="657.5" y1="280.2" x2="661.8" y2="278.7" stroke="#80624a" stroke-width="0.8" opacity="0.11"/>
<line x1="656.4" y1="287.1" x2="661.2" y2="285.2" stroke="#7a6048" stroke-width="1.1" opacity="0.13"/>
<line x1="648.6" y1="285.8" x2="654.1" y2="283.5" stroke="#80624a" stroke-width="0.8" opacity="0.21"/>
<line x1="597.0" y1="290.7" x2="600.9" y2="288.4" stroke="#6a5442" stroke-width="1.0" opacity="0.44"/>
<line x1="578.4" y1="280.3" x2="586.1" y2="276.6" stroke="#80624a" stroke-width="0.9" opacity="0.43"/>
<line x1="634.6" y1="287.7" x2="640.1" y2="284.7" stroke="#6a5442" stroke-width="0.8" opacity="0.29"/>
<line x1="662.0" y1="283.2" x2="665.0" y2="282.2" stroke="#5e4a3a" stroke-width="1.4" opacity="0.08"/>
<line x1="572.9" y1="283.8" x2="577.9" y2="281.9" stroke="#7a6048" stroke-width="1.0" opacity="0.33"/>
<line x1="635.6" y1="290.8" x2="643.3" y2="288.5" stroke="#574434" stroke-width="0.8" opacity="0.24"/>
<line x1="662.5" y1="287.4" x2="669.0" y2="285.3" stroke="#574434" stroke-width="1.4" opacity="0.03"/>
<line x1="555.5" y1="288.3" x2="564.0" y2="283.6" stroke="#6a5442" stroke-width="0.8" opacity="0.16"/>
<line x1="609.3" y1="286.8" x2="615.9" y2="284.6" stroke="#5e4a3a" stroke-width="1.4" opacity="0.16"/>
<line x1="574.4" y1="284.1" x2="582.8" y2="279.4" stroke="#7a6048" stroke-width="0.7" opacity="0.27"/>
<line x1="551.0" y1="285.3" x2="557.4" y2="282.0" stroke="#4e3e32" stroke-width="1.3" opacity="0.08"/>
<line x1="585.9" y1="278.6" x2="593.8" y2="275.0" stroke="#574434" stroke-width="1.5" opacity="0.45"/>
<line x1="656.3" y1="283.0" x2="665.6" y2="279.9" stroke="#80624a" stroke-width="1.3" opacity="0.11"/>
<line x1="576.1" y1="284.9" x2="579.6" y2="284.2" stroke="#4e3e32" stroke-width="1.1" opacity="0.39"/>
<line x1="615.8" y1="284.5" x2="619.6" y2="282.6" stroke="#4e3e32" stroke-width="0.9" opacity="0.28"/>
<line x1="568.9" y1="287.9" x2="572.5" y2="286.2" stroke="#4e3e32" stroke-width="1.4" opacity="0.30"/>
<line x1="652.2" y1="278.0" x2="658.7" y2="274.8" stroke="#6a5442" stroke-width="0.7" opacity="0.22"/>
<line x1="574.9" y1="279.4" x2="583.9" y2="276.1" stroke="#574434" stroke-width="0.8" opacity="0.28"/>
<line x1="572.0" y1="287.5" x2="576.8" y2="285.3" stroke="#574434" stroke-width="1.3" opacity="0.24"/>
<line x1="601.7" y1="280.4" x2="608.1" y2="278.2" stroke="#6a5442" stroke-width="1.1" opacity="0.28"/>
<line x1="657.6" y1="283.3" x2="662.3" y2="280.3" stroke="#4e3e32" stroke-width="1.2" opacity="0.14"/>
<line x1="593.6" y1="287.6" x2="601.9" y2="284.0" stroke="#5e4a3a" stroke-width="0.9" opacity="0.18"/>
<line x1="556.1" y1="288.0" x2="561.3" y2="286.0" stroke="#80624a" stroke-width="0.9" opacity="0.09"/>
<line x1="598.8" y1="289.6" x2="604.8" y2="287.2" stroke="#574434" stroke-width="0.9" opacity="0.30"/>
<line x1="586.5" y1="284.4" x2="592.5" y2="282.4" stroke="#80624a" stroke-width="1.5" opacity="0.23"/>
<line x1="652.3" y1="283.7" x2="658.0" y2="280.3" stroke="#4e3e32" stroke-width="1.5" opacity="0.19"/>
<line x1="560.4" y1="284.6" x2="564.6" y2="283.0" stroke="#574434" stroke-width="1.1" opacity="0.15"/>
<line x1="576.8" y1="281.9" x2="581.9" y2="280.6" stroke="#4e3e32" stroke-width="0.7" opacity="0.22"/>
<line x1="627.4" y1="281.1" x2="630.5" y2="280.4" stroke="#4e3e32" stroke-width="1.4" opacity="0.43"/>
<line x1="635.3" y1="285.9" x2="642.3" y2="283.2" stroke="#5e4a3a" stroke-width="0.8" opacity="0.15"/>
<line x1="549.1" y1="288.3" x2="553.6" y2="285.8" stroke="#4e3e32" stroke-width="1.1" opacity="0.06"/>
<line x1="580.8" y1="283.0" x2="583.9" y2="281.5" stroke="#6a5442" stroke-width="1.1" opacity="0.38"/>
<line x1="650.6" y1="285.6" x2="654.2" y2="284.7" stroke="#7a6048" stroke-width="0.7" opacity="0.29"/>
<line x1="556.2" y1="289.0" x2="560.7" y2="287.8" stroke="#6a5442" stroke-width="1.2" opacity="0.14"/>
<line x1="617.2" y1="286.5" x2="626.3" y2="282.8" stroke="#574434" stroke-width="1.5" opacity="0.36"/>
<line x1="638.7" y1="292.2" x2="645.8" y2="288.1" stroke="#7a6048" stroke-width="1.5" opacity="0.17"/>
<line x1="592.0" y1="285.5" x2="598.3" y2="283.8" stroke="#574434" stroke-width="1.3" opacity="0.35"/>
<line x1="607.1" y1="285.2" x2="614.9" y2="282.5" stroke="#574434" stroke-width="0.9" opacity="0.27"/>
<line x1="648.4" y1="287.4" x2="654.2" y2="283.6" stroke="#6a5442" stroke-width="0.8" opacity="0.20"/>
<line x1="610.3" y1="288.0" x2="616.8" y2="283.6" stroke="#6a5442" stroke-width="1.3" opacity="0.17"/>
<line x1="646.1" y1="283.2" x2="651.1" y2="280.4" stroke="#574434" stroke-width="1.2" opacity="0.27"/>
<line x1="584.3" y1="288.6" x2="593.2" y2="284.6" stroke="#7a6048" stroke-width="0.9" opacity="0.28"/>
<line x1="571.6" y1="285.7" x2="578.4" y2="283.6" stroke="#4e3e32" stroke-width="1.0" opacity="0.35"/>
<line x1="545.4" y1="290.1" x2="548.7" y2="288.2" stroke="#80624a" stroke-width="1.2" opacity="0.00"/>
<line x1="648.3" y1="278.3" x2="653.6" y2="276.8" stroke="#5e4a3a" stroke-width="0.7" opacity="0.24"/>
<line x1="576.5" y1="280.8" x2="581.4" y2="278.3" stroke="#6a5442" stroke-width="1.1" opacity="0.27"/>
<line x1="583.3" y1="285.8" x2="586.6" y2="284.3" stroke="#80624a" stroke-width="0.9" opacity="0.34"/>
<line x1="644.9" y1="285.0" x2="650.8" y2="281.3" stroke="#7a6048" stroke-width="0.8" opacity="0.27"/>
<line x1="610.4" y1="282.5" x2="616.7" y2="280.2" stroke="#574434" stroke-width="1.4" opacity="0.39"/>
<line x1="651.5" y1="283.8" x2="655.2" y2="281.9" stroke="#574434" stroke-width="1.2" opacity="0.26"/>
<line x1="664.3" y1="291.2" x2="668.2" y2="289.3" stroke="#6a5442" stroke-width="1.2" opacity="0.03"/>
<line x1="573.9" y1="280.0" x2="577.6" y2="277.7" stroke="#7a6048" stroke-width="0.8" opacity="0.39"/>
<line x1="623.9" y1="284.4" x2="633.0" y2="280.4" stroke="#574434" stroke-width="0.9" opacity="0.36"/>
<line x1="567.3" y1="282.8" x2="572.2" y2="281.0" stroke="#574434" stroke-width="0.8" opacity="0.33"/>
<line x1="656.7" y1="282.0" x2="665.9" y2="279.1" stroke="#6a5442" stroke-width="1.3" opacity="0.11"/>
<line x1="572.2" y1="286.1" x2="580.9" y2="281.8" stroke="#5e4a3a" stroke-width="1.1" opacity="0.25"/>
<line x1="665.2" y1="283.2" x2="674.2" y2="280.5" stroke="#6a5442" stroke-width="1.5" opacity="0.00"/>
<line x1="638.3" y1="282.0" x2="642.7" y2="280.6" stroke="#574434" stroke-width="1.3" opacity="0.28"/>
<line x1="553.4" y1="285.2" x2="558.4" y2="284.0" stroke="#5e4a3a" stroke-width="1.3" opacity="0.08"/>
<line x1="576.7" y1="285.7" x2="582.2" y2="282.9" stroke="#6a5442" stroke-width="1.2" opacity="0.43"/>
<line x1="565.4" y1="284.5" x2="568.9" y2="283.6" stroke="#5e4a3a" stroke-width="1.1" opacity="0.24"/>
<line x1="588.2" y1="284.4" x2="591.4" y2="282.1" stroke="#4e3e32" stroke-width="0.8" opacity="0.26"/>
<line x1="589.4" y1="283.5" x2="594.8" y2="281.4" stroke="#6a5442" stroke-width="0.8" opacity="0.24"/>
<line x1="664.0" y1="284.8" x2="667.6" y2="283.3" stroke="#4e3e32" stroke-width="1.2" opacity="0.04"/>
<line x1="663.3" y1="286.4" x2="667.7" y2="283.4" stroke="#574434" stroke-width="1.1" opacity="0.07"/>
<line x1="615.3" y1="283.3" x2="621.9" y2="279.7" stroke="#4e3e32" stroke-width="1.0" opacity="0.26"/>
<line x1="577.8" y1="284.6" x2="584.0" y2="283.2" stroke="#6a5442" stroke-width="1.5" opacity="0.22"/>
<line x1="601.3" y1="291.8" x2="608.1" y2="287.9" stroke="#6a5442" stroke-width="0.8" opacity="0.30"/>
<line x1="652.2" y1="286.2" x2="660.7" y2="282.5" stroke="#7a6048" stroke-width="1.4" opacity="0.16"/>
<line x1="657.2" y1="283.5" x2="661.2" y2="281.8" stroke="#4e3e32" stroke-width="0.8" opacity="0.16"/>
<line x1="601.6" y1="281.1" x2="610.6" y2="278.1" stroke="#4e3e32" stroke-width="1.4" opacity="0.22"/>
<line x1="579.7" y1="279.0" x2="584.2" y2="277.4" stroke="#574434" stroke-width="1.2" opacity="0.40"/>
<line x1="621.5" y1="290.7" x2="624.1" y2="289.2" stroke="#4e3e32" stroke-width="1.0" opacity="0.18"/>
<line x1="579.4" y1="284.4" x2="584.8" y2="281.3" stroke="#7a6048" stroke-width="1.1" opacity="0.24"/>
<line x1="575.4" y1="288.9" x2="581.8" y2="287.5" stroke="#5e4a3a" stroke-width="0.8" opacity="0.18"/>
<line x1="583.6" y1="281.1" x2="587.6" y2="280.2" stroke="#5e4a3a" stroke-width="0.7" opacity="0.20"/>
<line x1="618.0" y1="284.1" x2="626.3" y2="279.4" stroke="#6a5442" stroke-width="0.9" opacity="0.27"/>
<line x1="548.5" y1="278.5" x2="557.2" y2="274.1" stroke="#80624a" stroke-width="1.3" opacity="0.06"/>
<line x1="643.9" y1="281.2" x2="651.8" y2="279.0" stroke="#6a5442" stroke-width="1.4" opacity="0.26"/>
<line x1="629.8" y1="277.7" x2="634.3" y2="276.0" stroke="#6a5442" stroke-width="1.5" opacity="0.16"/>
<line x1="819.4" y1="191.6" x2="825.6" y2="190.3" stroke="#4e3e32" stroke-width="1.1" opacity="0.26"/>
<line x1="696.3" y1="190.9" x2="704.3" y2="188.2" stroke="#6a5442" stroke-width="0.8" opacity="0.18"/>
<line x1="691.4" y1="190.9" x2="694.6" y2="189.3" stroke="#574434" stroke-width="1.1" opacity="0.37"/>
<line x1="770.5" y1="190.6" x2="778.3" y2="187.3" stroke="#6a5442" stroke-width="0.8" opacity="0.33"/>
<line x1="689.9" y1="191.9" x2="697.2" y2="188.3" stroke="#5e4a3a" stroke-width="1.0" opacity="0.20"/>
<line x1="837.2" y1="192.3" x2="845.2" y2="188.3" stroke="#5e4a3a" stroke-width="1.1" opacity="0.06"/>
<line x1="727.5" y1="193.3" x2="735.7" y2="190.0" stroke="#6a5442" stroke-width="1.3" opacity="0.16"/>
<line x1="659.8" y1="192.1" x2="667.8" y2="188.5" stroke="#80624a" stroke-width="0.8" opacity="0.03"/>
<line x1="678.8" y1="186.8" x2="684.2" y2="185.2" stroke="#574434" stroke-width="1.0" opacity="0.23"/>
<line x1="705.7" y1="197.6" x2="709.7" y2="195.0" stroke="#80624a" stroke-width="1.2" opacity="0.43"/>
<line x1="662.8" y1="193.8" x2="667.0" y2="191.5" stroke="#5e4a3a" stroke-width="1.0" opacity="0.04"/>
<line x1="805.9" y1="194.3" x2="809.9" y2="192.1" stroke="#6a5442" stroke-width="0.9" opacity="0.17"/>
<line x1="779.1" y1="193.0" x2="784.0" y2="189.6" stroke="#7a6048" stroke-width="0.9" opacity="0.36"/>
<line x1="744.9" y1="195.6" x2="749.6" y2="192.9" stroke="#4e3e32" stroke-width="0.7" opacity="0.14"/>
<line x1="760.3" y1="190.2" x2="765.5" y2="187.7" stroke="#5e4a3a" stroke-width="1.2" opacity="0.19"/>
<line x1="778.5" y1="190.1" x2="786.8" y2="186.9" stroke="#6a5442" stroke-width="1.0" opacity="0.28"/>
<line x1="783.2" y1="191.5" x2="791.9" y2="189.7" stroke="#80624a" stroke-width="1.5" opacity="0.20"/>
<line x1="839.8" y1="195.0" x2="846.4" y2="191.0" stroke="#4e3e32" stroke-width="1.3" opacity="0.04"/>
<line x1="657.9" y1="190.0" x2="664.9" y2="188.1" stroke="#6a5442" stroke-width="1.2" opacity="0.02"/>
<line x1="717.8" y1="196.8" x2="725.5" y2="194.8" stroke="#80624a" stroke-width="0.9" opacity="0.42"/>
<line x1="684.3" y1="192.1" x2="689.3" y2="189.5" stroke="#6a5442" stroke-width="1.0" opacity="0.23"/>
<line x1="828.5" y1="196.3" x2="832.2" y2="194.8" stroke="#7a6048" stroke-width="1.2" opacity="0.17"/>
<line x1="790.0" y1="191.8" x2="796.9" y2="187.8" stroke="#574434" stroke-width="0.9" opacity="0.27"/>
<line x1="726.7" y1="192.9" x2="730.0" y2="192.0" stroke="#80624a" stroke-width="0.9" opacity="0.29"/>
<line x1="674.6" y1="194.4" x2="677.7" y2="193.3" stroke="#4e3e32" stroke-width="1.0" opacity="0.16"/>
<line x1="807.6" y1="191.2" x2="813.6" y2="189.1" stroke="#7a6048" stroke-width="1.4" opacity="0.16"/>
<line x1="764.2" y1="194.0" x2="769.5" y2="191.9" stroke="#6a5442" stroke-width="1.2" opacity="0.29"/>
<line x1="729.4" y1="191.1" x2="734.5" y2="188.8" stroke="#574434" stroke-width="0.9" opacity="0.16"/>
<line x1="808.9" y1="193.8" x2="813.6" y2="192.5" stroke="#4e3e32" stroke-width="1.4" opacity="0.36"/>
<line x1="815.6" y1="187.6" x2="822.2" y2="185.5" stroke="#4e3e32" stroke-width="1.2" opacity="0.20"/>
<line x1="749.5" y1="195.2" x2="754.7" y2="193.4" stroke="#4e3e32" stroke-width="0.7" opacity="0.16"/>
<line x1="784.6" y1="196.2" x2="787.6" y2="195.1" stroke="#80624a" stroke-width="1.5" opacity="0.16"/>
<line x1="710.4" y1="189.7" x2="713.6" y2="188.3" stroke="#5e4a3a" stroke-width="1.3" opacity="0.25"/>
<line x1="724.1" y1="194.0" x2="732.7" y2="191.7" stroke="#6a5442" stroke-width="1.2" opacity="0.16"/>
<line x1="787.5" y1="193.6" x2="792.9" y2="192.0" stroke="#7a6048" stroke-width="1.4" opacity="0.24"/>
<line x1="718.2" y1="192.2" x2="724.6" y2="188.0" stroke="#6a5442" stroke-width="0.9" opacity="0.34"/>
<line x1="792.4" y1="196.5" x2="798.4" y2="193.0" stroke="#7a6048" stroke-width="1.1" opacity="0.14"/>
<line x1="794.7" y1="192.2" x2="803.1" y2="189.7" stroke="#7a6048" stroke-width="1.3" opacity="0.44"/>
<line x1="759.6" y1="197.6" x2="766.2" y2="193.6" stroke="#7a6048" stroke-width="0.8" opacity="0.34"/>
<line x1="747.7" y1="193.0" x2="753.3" y2="189.2" stroke="#5e4a3a" stroke-width="1.0" opacity="0.29"/>
<line x1="670.4" y1="195.2" x2="678.7" y2="191.8" stroke="#80624a" stroke-width="1.4" opacity="0.10"/>
<line x1="759.0" y1="194.7" x2="766.7" y2="193.1" stroke="#574434" stroke-width="0.8" opacity="0.34"/>
<line x1="751.2" y1="195.5" x2="759.3" y2="190.5" stroke="#80624a" stroke-width="0.7" opacity="0.16"/>
<line x1="778.4" y1="189.4" x2="785.9" y2="185.9" stroke="#5e4a3a" stroke-width="1.0" opacity="0.27"/>
<line x1="806.9" y1="192.1" x2="814.5" y2="189.8" stroke="#7a6048" stroke-width="0.9" opacity="0.30"/>
<line x1="720.6" y1="193.8" x2="729.9" y2="191.5" stroke="#574434" stroke-width="1.0" opacity="0.20"/>
<line x1="756.8" y1="193.1" x2="763.8" y2="189.3" stroke="#5e4a3a" stroke-width="1.2" opacity="0.27"/>
<line x1="724.2" y1="196.4" x2="728.9" y2="194.3" stroke="#7a6048" stroke-width="0.8" opacity="0.27"/>
<line x1="692.5" y1="192.7" x2="696.5" y2="190.4" stroke="#574434" stroke-width="1.1" opacity="0.39"/>
<line x1="790.1" y1="195.5" x2="793.3" y2="194.1" stroke="#4e3e32" stroke-width="1.3" opacity="0.17"/>
<line x1="758.2" y1="197.9" x2="766.3" y2="192.8" stroke="#6a5442" stroke-width="0.8" opacity="0.29"/>
<line x1="802.6" y1="194.7" x2="808.4" y2="191.4" stroke="#574434" stroke-width="1.4" opacity="0.26"/>
<line x1="667.7" y1="194.3" x2="676.6" y2="190.3" stroke="#574434" stroke-width="1.4" opacity="0.08"/>
<line x1="661.2" y1="193.5" x2="668.0" y2="190.9" stroke="#5e4a3a" stroke-width="0.8" opacity="0.05"/>
<line x1="767.0" y1="193.6" x2="771.5" y2="191.5" stroke="#4e3e32" stroke-width="1.4" opacity="0.20"/>
<line x1="713.2" y1="191.3" x2="717.4" y2="189.8" stroke="#4e3e32" stroke-width="1.3" opacity="0.40"/>
<line x1="667.3" y1="193.8" x2="674.1" y2="190.4" stroke="#4e3e32" stroke-width="0.9" opacity="0.11"/>
<line x1="809.2" y1="191.2" x2="812.6" y2="190.1" stroke="#5e4a3a" stroke-width="1.0" opacity="0.15"/>
<line x1="755.1" y1="194.0" x2="758.2" y2="192.9" stroke="#4e3e32" stroke-width="0.7" opacity="0.36"/>
<line x1="823.9" y1="191.5" x2="828.1" y2="190.5" stroke="#5e4a3a" stroke-width="1.4" opacity="0.13"/>
<line x1="665.8" y1="193.8" x2="674.5" y2="191.9" stroke="#4e3e32" stroke-width="0.7" opacity="0.05"/>
<line x1="659.4" y1="192.0" x2="668.8" y2="188.6" stroke="#4e3e32" stroke-width="0.8" opacity="0.04"/>
<line x1="734.8" y1="196.3" x2="739.2" y2="195.3" stroke="#6a5442" stroke-width="0.9" opacity="0.44"/>
<line x1="733.0" y1="191.3" x2="739.7" y2="187.2" stroke="#80624a" stroke-width="1.1" opacity="0.21"/>
<line x1="674.1" y1="192.2" x2="677.0" y2="190.8" stroke="#4e3e32" stroke-width="1.4" opacity="0.12"/>
<line x1="798.8" y1="191.7" x2="808.3" y2="189.5" stroke="#7a6048" stroke-width="1.1" opacity="0.42"/>
<line x1="658.7" y1="194.5" x2="667.1" y2="189.9" stroke="#5e4a3a" stroke-width="1.2" opacity="0.02"/>
<line x1="758.8" y1="192.6" x2="764.1" y2="189.2" stroke="#574434" stroke-width="0.8" opacity="0.14"/>
<line x1="822.3" y1="189.0" x2="829.3" y2="185.7" stroke="#4e3e32" stroke-width="0.7" opacity="0.22"/>
<line x1="725.8" y1="191.6" x2="729.5" y2="189.4" stroke="#80624a" stroke-width="0.8" opacity="0.27"/>
<line x1="787.8" y1="197.5" x2="792.5" y2="194.5" stroke="#6a5442" stroke-width="1.1" opacity="0.31"/>
<line x1="799.1" y1="195.0" x2="804.5" y2="191.8" stroke="#574434" stroke-width="1.4" opacity="0.25"/>
<line x1="692.4" y1="192.0" x2="697.8" y2="189.1" stroke="#5e4a3a" stroke-width="1.0" opacity="0.34"/>
<line x1="736.3" y1="190.5" x2="741.5" y2="188.7" stroke="#5e4a3a" stroke-width="1.3" opacity="0.36"/>
<line x1="698.2" y1="192.9" x2="702.2" y2="191.9" stroke="#6a5442" stroke-width="0.9" opacity="0.23"/>
<line x1="686.5" y1="194.9" x2="691.0" y2="192.9" stroke="#574434" stroke-width="1.2" opacity="0.12"/>
<line x1="693.6" y1="195.8" x2="697.1" y2="194.5" stroke="#6a5442" stroke-width="1.2" opacity="0.38"/>
<line x1="673.1" y1="191.5" x2="680.2" y2="189.7" stroke="#4e3e32" stroke-width="1.1" opacity="0.16"/>
<line x1="734.7" y1="192.3" x2="740.2" y2="188.5" stroke="#5e4a3a" stroke-width="1.3" opacity="0.19"/>
<line x1="754.4" y1="191.5" x2="757.7" y2="190.5" stroke="#7a6048" stroke-width="1.1" opacity="0.30"/>
<line x1="757.9" y1="191.4" x2="761.6" y2="189.5" stroke="#80624a" stroke-width="1.5" opacity="0.40"/>
<line x1="727.1" y1="192.7" x2="730.8" y2="190.2" stroke="#6a5442" stroke-width="0.8" opacity="0.44"/>
<line x1="799.8" y1="186.6" x2="803.0" y2="185.1" stroke="#7a6048" stroke-width="1.1" opacity="0.25"/>
<line x1="678.3" y1="195.2" x2="683.6" y2="191.6" stroke="#574434" stroke-width="1.2" opacity="0.09"/>
<line x1="757.0" y1="189.0" x2="761.1" y2="187.4" stroke="#7a6048" stroke-width="0.8" opacity="0.21"/>
<line x1="727.1" y1="194.6" x2="731.6" y2="192.3" stroke="#574434" stroke-width="1.4" opacity="0.25"/>
<line x1="834.7" y1="195.7" x2="839.1" y2="194.4" stroke="#6a5442" stroke-width="0.8" opacity="0.07"/>
<line x1="810.2" y1="188.5" x2="816.3" y2="186.0" stroke="#6a5442" stroke-width="1.5" opacity="0.13"/>
<line x1="687.3" y1="196.3" x2="691.1" y2="194.6" stroke="#4e3e32" stroke-width="1.0" opacity="0.23"/>
<line x1="824.0" y1="191.9" x2="827.0" y2="191.2" stroke="#80624a" stroke-width="1.4" opacity="0.19"/>
<line x1="789.2" y1="195.5" x2="795.2" y2="193.1" stroke="#5e4a3a" stroke-width="0.8" opacity="0.38"/>
<line x1="809.6" y1="193.9" x2="818.3" y2="191.6" stroke="#6a5442" stroke-width="1.3" opacity="0.33"/>
<line x1="705.3" y1="189.4" x2="710.9" y2="188.1" stroke="#7a6048" stroke-width="1.2" opacity="0.20"/>
<line x1="795.3" y1="193.6" x2="801.0" y2="190.3" stroke="#7a6048" stroke-width="1.1" opacity="0.29"/>
<line x1="686.5" y1="190.9" x2="693.0" y2="187.1" stroke="#4e3e32" stroke-width="0.7" opacity="0.13"/>
<line x1="741.9" y1="193.5" x2="745.0" y2="191.8" stroke="#574434" stroke-width="0.7" opacity="0.28"/>
<line x1="805.9" y1="198.0" x2="814.4" y2="193.7" stroke="#5e4a3a" stroke-width="1.2" opacity="0.22"/>
<line x1="841.0" y1="189.1" x2="848.3" y2="185.6" stroke="#6a5442" stroke-width="1.4" opacity="0.01"/>
<line x1="703.4" y1="197.5" x2="710.5" y2="193.8" stroke="#4e3e32" stroke-width="1.4" opacity="0.20"/>
<line x1="792.6" y1="188.1" x2="800.4" y2="183.6" stroke="#7a6048" stroke-width="1.3" opacity="0.22"/>
<line x1="740.8" y1="187.4" x2="744.1" y2="186.1" stroke="#6a5442" stroke-width="1.1" opacity="0.42"/>
<line x1="681.4" y1="193.6" x2="689.0" y2="189.6" stroke="#4e3e32" stroke-width="1.2" opacity="0.25"/>
<line x1="667.4" y1="192.3" x2="672.3" y2="191.3" stroke="#80624a" stroke-width="1.0" opacity="0.09"/>
<line x1="717.3" y1="195.4" x2="721.4" y2="194.5" stroke="#80624a" stroke-width="1.2" opacity="0.35"/>
<line x1="837.1" y1="194.3" x2="844.3" y2="190.6" stroke="#6a5442" stroke-width="0.8" opacity="0.05"/>
<line x1="823.6" y1="195.5" x2="827.4" y2="194.4" stroke="#80624a" stroke-width="1.4" opacity="0.14"/>
<line x1="708.7" y1="189.1" x2="717.4" y2="186.9" stroke="#574434" stroke-width="1.3" opacity="0.17"/>
<line x1="660.8" y1="195.0" x2="665.4" y2="193.0" stroke="#574434" stroke-width="0.9" opacity="0.02"/>
<line x1="841.6" y1="195.5" x2="849.7" y2="193.2" stroke="#4e3e32" stroke-width="1.0" opacity="0.02"/>
<line x1="673.3" y1="189.0" x2="680.9" y2="183.9" stroke="#5e4a3a" stroke-width="1.4" opacity="0.18"/>
<line x1="780.8" y1="192.7" x2="784.0" y2="191.9" stroke="#574434" stroke-width="0.8" opacity="0.17"/>
<line x1="808.3" y1="194.7" x2="816.5" y2="192.1" stroke="#7a6048" stroke-width="1.2" opacity="0.26"/>
<line x1="700.0" y1="190.7" x2="707.0" y2="188.3" stroke="#4e3e32" stroke-width="0.8" opacity="0.41"/>
<line x1="719.8" y1="196.5" x2="726.6" y2="194.3" stroke="#4e3e32" stroke-width="1.1" opacity="0.20"/>
<line x1="709.0" y1="190.6" x2="715.4" y2="188.9" stroke="#80624a" stroke-width="0.8" opacity="0.14"/>
<line x1="754.8" y1="195.2" x2="763.9" y2="193.1" stroke="#5e4a3a" stroke-width="1.4" opacity="0.16"/>
<line x1="754.8" y1="195.6" x2="759.1" y2="193.4" stroke="#7a6048" stroke-width="0.9" opacity="0.18"/>
<line x1="837.5" y1="191.0" x2="843.6" y2="188.3" stroke="#7a6048" stroke-width="0.8" opacity="0.05"/>
<line x1="774.5" y1="195.7" x2="782.1" y2="191.7" stroke="#574434" stroke-width="1.1" opacity="0.41"/>
<line x1="770.2" y1="191.5" x2="775.5" y2="188.9" stroke="#4e3e32" stroke-width="1.3" opacity="0.38"/>
<line x1="690.7" y1="188.8" x2="695.4" y2="186.1" stroke="#5e4a3a" stroke-width="1.1" opacity="0.18"/>
<line x1="792.7" y1="191.5" x2="795.4" y2="190.0" stroke="#574434" stroke-width="1.3" opacity="0.24"/>
<line x1="823.2" y1="189.1" x2="827.1" y2="188.2" stroke="#80624a" stroke-width="0.7" opacity="0.22"/>
<line x1="699.4" y1="192.6" x2="707.0" y2="189.7" stroke="#80624a" stroke-width="0.8" opacity="0.34"/>
<line x1="840.7" y1="196.2" x2="844.4" y2="194.1" stroke="#6a5442" stroke-width="1.4" opacity="0.05"/>
<line x1="791.9" y1="194.6" x2="800.3" y2="189.2" stroke="#574434" stroke-width="1.5" opacity="0.15"/>
<line x1="688.2" y1="188.9" x2="691.7" y2="187.9" stroke="#4e3e32" stroke-width="0.9" opacity="0.31"/>
<line x1="825.2" y1="190.7" x2="828.9" y2="189.5" stroke="#574434" stroke-width="1.0" opacity="0.17"/>
<line x1="787.7" y1="195.4" x2="791.4" y2="194.2" stroke="#4e3e32" stroke-width="1.1" opacity="0.18"/>
<line x1="706.5" y1="195.9" x2="710.2" y2="193.4" stroke="#80624a" stroke-width="1.0" opacity="0.35"/>
<line x1="741.3" y1="193.7" x2="749.0" y2="188.8" stroke="#5e4a3a" stroke-width="1.4" opacity="0.32"/>
<line x1="780.6" y1="194.0" x2="783.6" y2="192.7" stroke="#5e4a3a" stroke-width="0.9" opacity="0.29"/>
<line x1="809.6" y1="191.5" x2="813.9" y2="190.0" stroke="#574434" stroke-width="1.4" opacity="0.37"/>
<line x1="681.1" y1="194.7" x2="686.0" y2="191.7" stroke="#80624a" stroke-width="1.2" opacity="0.24"/>
<line x1="780.0" y1="188.7" x2="785.6" y2="187.3" stroke="#80624a" stroke-width="0.8" opacity="0.32"/>
<line x1="762.0" y1="193.4" x2="765.7" y2="191.9" stroke="#574434" stroke-width="0.9" opacity="0.39"/>
<line x1="674.9" y1="195.3" x2="679.3" y2="193.3" stroke="#7a6048" stroke-width="1.2" opacity="0.16"/>
<line x1="827.6" y1="192.0" x2="834.4" y2="189.2" stroke="#6a5442" stroke-width="0.9" opacity="0.07"/>
<line x1="792.4" y1="191.7" x2="799.4" y2="190.0" stroke="#80624a" stroke-width="1.4" opacity="0.42"/>
<line x1="834.5" y1="189.6" x2="838.6" y2="187.6" stroke="#80624a" stroke-width="1.0" opacity="0.06"/>
<line x1="840.2" y1="191.0" x2="847.4" y2="186.3" stroke="#6a5442" stroke-width="0.7" opacity="0.04"/>
<line x1="681.8" y1="192.3" x2="687.9" y2="189.7" stroke="#6a5442" stroke-width="1.1" opacity="0.15"/>
<line x1="692.2" y1="187.7" x2="699.9" y2="185.4" stroke="#6a5442" stroke-width="1.2" opacity="0.31"/>
<line x1="672.2" y1="193.8" x2="677.2" y2="191.0" stroke="#4e3e32" stroke-width="1.0" opacity="0.06"/>
<line x1="840.9" y1="194.7" x2="846.5" y2="192.3" stroke="#5e4a3a" stroke-width="0.7" opacity="0.02"/>
<line x1="730.0" y1="192.8" x2="738.1" y2="189.6" stroke="#7a6048" stroke-width="1.3" opacity="0.17"/>
<line x1="795.4" y1="194.2" x2="801.5" y2="190.0" stroke="#574434" stroke-width="1.5" opacity="0.20"/>
<line x1="714.0" y1="194.5" x2="722.3" y2="189.2" stroke="#7a6048" stroke-width="1.5" opacity="0.41"/>
<line x1="771.8" y1="199.1" x2="779.2" y2="194.1" stroke="#80624a" stroke-width="1.2" opacity="0.28"/>
<line x1="802.6" y1="187.7" x2="809.4" y2="185.3" stroke="#574434" stroke-width="1.5" opacity="0.30"/>
<line x1="721.6" y1="188.6" x2="729.6" y2="186.6" stroke="#5e4a3a" stroke-width="1.5" opacity="0.24"/>
<line x1="772.8" y1="192.2" x2="781.5" y2="188.3" stroke="#4e3e32" stroke-width="1.4" opacity="0.38"/>
<line x1="763.2" y1="198.2" x2="768.5" y2="195.2" stroke="#4e3e32" stroke-width="1.4" opacity="0.36"/>
<line x1="696.3" y1="193.9" x2="700.9" y2="192.4" stroke="#574434" stroke-width="1.5" opacity="0.43"/>
<line x1="843.7" y1="194.8" x2="849.9" y2="192.3" stroke="#574434" stroke-width="1.5" opacity="0.01"/>
<line x1="804.9" y1="193.6" x2="809.3" y2="190.6" stroke="#574434" stroke-width="0.8" opacity="0.27"/>
<line x1="743.9" y1="188.1" x2="748.7" y2="185.1" stroke="#5e4a3a" stroke-width="1.0" opacity="0.44"/>
<line x1="811.7" y1="191.3" x2="816.7" y2="189.8" stroke="#4e3e32" stroke-width="1.3" opacity="0.19"/>
<line x1="766.9" y1="192.0" x2="771.9" y2="189.8" stroke="#7a6048" stroke-width="0.9" opacity="0.14"/>
<line x1="822.9" y1="191.9" x2="827.6" y2="189.5" stroke="#6a5442" stroke-width="1.0" opacity="0.13"/>
<line x1="811.0" y1="191.3" x2="817.8" y2="189.1" stroke="#4e3e32" stroke-width="1.1" opacity="0.30"/>
<line x1="676.0" y1="195.8" x2="683.5" y2="190.7" stroke="#574434" stroke-width="0.9" opacity="0.10"/>
<line x1="726.6" y1="192.2" x2="731.5" y2="190.3" stroke="#7a6048" stroke-width="0.7" opacity="0.38"/>
<line x1="701.0" y1="193.5" x2="708.5" y2="191.6" stroke="#574434" stroke-width="1.3" opacity="0.17"/>
<line x1="667.3" y1="190.3" x2="671.7" y2="188.8" stroke="#4e3e32" stroke-width="1.2" opacity="0.04"/>
<line x1="674.1" y1="193.0" x2="681.2" y2="188.1" stroke="#574434" stroke-width="1.5" opacity="0.20"/>
<line x1="695.6" y1="189.3" x2="702.2" y2="186.5" stroke="#574434" stroke-width="1.1" opacity="0.33"/>
<line x1="716.4" y1="197.2" x2="721.9" y2="193.8" stroke="#80624a" stroke-width="0.8" opacity="0.16"/>
<line x1="660.2" y1="188.9" x2="668.9" y2="185.1" stroke="#7a6048" stroke-width="1.0" opacity="0.02"/>
<line x1="710.0" y1="191.3" x2="713.2" y2="190.2" stroke="#4e3e32" stroke-width="1.2" opacity="0.36"/>
<line x1="796.5" y1="192.0" x2="803.9" y2="188.6" stroke="#6a5442" stroke-width="0.7" opacity="0.16"/>
<line x1="677.5" y1="191.3" x2="684.8" y2="189.0" stroke="#4e3e32" stroke-width="1.0" opacity="0.14"/>
<line x1="740.8" y1="192.3" x2="748.9" y2="188.0" stroke="#80624a" stroke-width="1.2" opacity="0.38"/>
<line x1="695.3" y1="189.6" x2="700.4" y2="186.2" stroke="#80624a" stroke-width="1.0" opacity="0.19"/>
<line x1="800.3" y1="192.8" x2="805.6" y2="189.9" stroke="#5e4a3a" stroke-width="1.2" opacity="0.42"/>
<line x1="685.1" y1="189.9" x2="691.8" y2="188.2" stroke="#6a5442" stroke-width="1.0" opacity="0.28"/>
<line x1="818.1" y1="187.3" x2="824.4" y2="184.6" stroke="#574434" stroke-width="1.5" opacity="0.10"/>
<line x1="745.3" y1="193.2" x2="753.0" y2="189.5" stroke="#4e3e32" stroke-width="1.1" opacity="0.33"/>
<line x1="757.5" y1="195.6" x2="765.0" y2="193.7" stroke="#6a5442" stroke-width="0.8" opacity="0.43"/>
<line x1="678.5" y1="190.7" x2="686.0" y2="188.2" stroke="#6a5442" stroke-width="1.1" opacity="0.26"/>
<line x1="803.6" y1="190.7" x2="810.7" y2="187.1" stroke="#4e3e32" stroke-width="1.3" opacity="0.32"/>
<line x1="717.7" y1="192.1" x2="721.6" y2="190.7" stroke="#5e4a3a" stroke-width="1.4" opacity="0.14"/>
<line x1="708.8" y1="189.9" x2="712.7" y2="189.0" stroke="#4e3e32" stroke-width="0.8" opacity="0.34"/>
<line x1="684.6" y1="194.9" x2="692.3" y2="190.8" stroke="#574434" stroke-width="1.2" opacity="0.26"/>
<line x1="743.1" y1="188.7" x2="749.5" y2="184.8" stroke="#5e4a3a" stroke-width="0.8" opacity="0.24"/>
<line x1="830.3" y1="190.0" x2="835.0" y2="188.3" stroke="#5e4a3a" stroke-width="1.2" opacity="0.07"/>
<line x1="747.1" y1="198.2" x2="754.8" y2="193.8" stroke="#80624a" stroke-width="1.2" opacity="0.25"/>
<line x1="749.1" y1="192.6" x2="757.5" y2="187.2" stroke="#5e4a3a" stroke-width="1.3" opacity="0.36"/>
<line x1="775.7" y1="188.3" x2="780.1" y2="185.9" stroke="#4e3e32" stroke-width="0.7" opacity="0.43"/>
<line x1="768.2" y1="189.7" x2="773.4" y2="187.5" stroke="#7a6048" stroke-width="1.2" opacity="0.25"/>
<line x1="756.5" y1="197.1" x2="762.0" y2="194.7" stroke="#574434" stroke-width="1.0" opacity="0.15"/>
<line x1="725.6" y1="197.0" x2="731.1" y2="195.0" stroke="#574434" stroke-width="1.1" opacity="0.44"/>
<line x1="686.5" y1="187.4" x2="690.5" y2="186.5" stroke="#6a5442" stroke-width="1.3" opacity="0.32"/>
<line x1="668.9" y1="191.2" x2="676.4" y2="187.2" stroke="#6a5442" stroke-width="0.9" opacity="0.12"/>
<line x1="675.4" y1="192.1" x2="679.8" y2="190.8" stroke="#5e4a3a" stroke-width="1.0" opacity="0.15"/>
<line x1="699.1" y1="195.1" x2="704.0" y2="193.4" stroke="#5e4a3a" stroke-width="0.9" opacity="0.28"/>
<line x1="675.4" y1="192.6" x2="680.3" y2="190.2" stroke="#574434" stroke-width="1.4" opacity="0.19"/>
<line x1="836.3" y1="192.5" x2="842.2" y2="189.5" stroke="#6a5442" stroke-width="0.8" opacity="0.03"/>
<line x1="663.5" y1="192.3" x2="670.5" y2="187.4" stroke="#80624a" stroke-width="1.0" opacity="0.07"/>
<line x1="807.3" y1="191.9" x2="814.3" y2="187.5" stroke="#5e4a3a" stroke-width="1.1" opacity="0.35"/>
<line x1="746.9" y1="193.7" x2="752.0" y2="192.1" stroke="#5e4a3a" stroke-width="1.2" opacity="0.37"/>
<line x1="813.4" y1="190.0" x2="817.1" y2="189.1" stroke="#5e4a3a" stroke-width="1.4" opacity="0.32"/>
<line x1="762.7" y1="193.1" x2="771.8" y2="190.4" stroke="#574434" stroke-width="1.5" opacity="0.30"/>
<line x1="794.1" y1="195.1" x2="797.8" y2="194.1" stroke="#574434" stroke-width="1.3" opacity="0.27"/>
<line x1="698.0" y1="192.9" x2="703.8" y2="190.3" stroke="#5e4a3a" stroke-width="1.2" opacity="0.25"/>
<line x1="840.9" y1="193.1" x2="846.2" y2="191.0" stroke="#4e3e32" stroke-width="1.2" opacity="0.04"/>
<line x1="717.3" y1="191.8" x2="725.6" y2="188.5" stroke="#80624a" stroke-width="1.5" opacity="0.40"/>
<line x1="709.1" y1="191.9" x2="716.3" y2="189.8" stroke="#80624a" stroke-width="1.0" opacity="0.30"/>
<line x1="843.1" y1="193.4" x2="848.1" y2="191.1" stroke="#7a6048" stroke-width="1.4" opacity="0.03"/>
<line x1="687.2" y1="191.2" x2="690.6" y2="190.2" stroke="#4e3e32" stroke-width="1.2" opacity="0.15"/>
<line x1="713.5" y1="197.3" x2="719.1" y2="194.0" stroke="#7a6048" stroke-width="0.8" opacity="0.26"/>
<line x1="755.0" y1="194.5" x2="764.4" y2="191.5" stroke="#80624a" stroke-width="1.2" opacity="0.34"/>
<line x1="691.1" y1="192.5" x2="698.4" y2="188.8" stroke="#80624a" stroke-width="0.9" opacity="0.20"/>
<line x1="777.5" y1="191.8" x2="784.6" y2="188.4" stroke="#4e3e32" stroke-width="1.2" opacity="0.16"/>
<line x1="737.3" y1="192.5" x2="742.1" y2="189.8" stroke="#5e4a3a" stroke-width="1.2" opacity="0.32"/>
<line x1="658.1" y1="194.1" x2="665.5" y2="189.4" stroke="#574434" stroke-width="0.9" opacity="0.02"/>
<line x1="704.0" y1="186.7" x2="710.5" y2="185.2" stroke="#574434" stroke-width="1.1" opacity="0.22"/>
<line x1="669.0" y1="189.1" x2="674.9" y2="185.9" stroke="#5e4a3a" stroke-width="1.2" opacity="0.12"/>
<line x1="794.4" y1="186.6" x2="797.8" y2="185.8" stroke="#80624a" stroke-width="0.8" opacity="0.35"/>
<line x1="731.9" y1="198.3" x2="739.4" y2="193.1" stroke="#80624a" stroke-width="1.1" opacity="0.41"/>
<line x1="714.8" y1="195.7" x2="723.9" y2="193.0" stroke="#5e4a3a" stroke-width="1.2" opacity="0.45"/>
<line x1="756.7" y1="192.0" x2="764.5" y2="186.9" stroke="#80624a" stroke-width="0.9" opacity="0.41"/>
<line x1="748.0" y1="191.4" x2="751.5" y2="189.8" stroke="#574434" stroke-width="0.9" opacity="0.38"/>
<line x1="774.5" y1="194.7" x2="783.8" y2="192.6" stroke="#7a6048" stroke-width="1.0" opacity="0.31"/>
<line x1="744.3" y1="190.1" x2="747.6" y2="188.5" stroke="#574434" stroke-width="1.3" opacity="0.43"/>
<line x1="787.4" y1="193.8" x2="794.1" y2="190.6" stroke="#80624a" stroke-width="1.1" opacity="0.20"/>
<line x1="823.1" y1="191.2" x2="832.7" y2="189.0" stroke="#574434" stroke-width="1.1" opacity="0.20"/>
<line x1="726.3" y1="190.1" x2="729.5" y2="188.1" stroke="#80624a" stroke-width="1.5" opacity="0.38"/>
<line x1="798.2" y1="196.2" x2="804.4" y2="192.5" stroke="#4e3e32" stroke-width="0.8" opacity="0.17"/>
<line x1="821.4" y1="193.4" x2="826.5" y2="190.0" stroke="#80624a" stroke-width="1.2" opacity="0.22"/>
<line x1="658.9" y1="194.9" x2="667.2" y2="191.5" stroke="#80624a" stroke-width="0.8" opacity="0.02"/>
<line x1="695.8" y1="195.1" x2="704.7" y2="192.0" stroke="#5e4a3a" stroke-width="0.9" opacity="0.16"/>
<line x1="662.5" y1="188.3" x2="668.1" y2="185.7" stroke="#6a5442" stroke-width="1.4" opacity="0.04"/>
<line x1="797.6" y1="193.7" x2="806.3" y2="191.7" stroke="#5e4a3a" stroke-width="1.3" opacity="0.14"/>
<line x1="677.1" y1="195.9" x2="686.3" y2="193.7" stroke="#574434" stroke-width="1.2" opacity="0.19"/>
<line x1="798.3" y1="194.9" x2="806.1" y2="192.9" stroke="#7a6048" stroke-width="1.4" opacity="0.19"/>
<line x1="740.1" y1="195.2" x2="744.0" y2="192.5" stroke="#574434" stroke-width="1.1" opacity="0.26"/>
<line x1="834.5" y1="188.7" x2="838.4" y2="186.2" stroke="#4e3e32" stroke-width="0.8" opacity="0.11"/>
<line x1="724.4" y1="195.4" x2="733.0" y2="190.7" stroke="#6a5442" stroke-width="1.2" opacity="0.27"/>
<line x1="713.0" y1="191.2" x2="718.3" y2="189.5" stroke="#6a5442" stroke-width="1.5" opacity="0.16"/>
<line x1="761.2" y1="198.4" x2="768.6" y2="196.0" stroke="#80624a" stroke-width="1.4" opacity="0.26"/>
<line x1="816.5" y1="190.1" x2="821.6" y2="187.4" stroke="#6a5442" stroke-width="1.0" opacity="0.30"/>
<line x1="730.2" y1="191.8" x2="733.2" y2="191.0" stroke="#4e3e32" stroke-width="1.1" opacity="0.41"/>
<line x1="723.0" y1="190.7" x2="727.2" y2="187.8" stroke="#80624a" stroke-width="1.3" opacity="0.44"/>
<line x1="808.1" y1="196.0" x2="817.2" y2="192.8" stroke="#6a5442" stroke-width="1.0" opacity="0.17"/>
<line x1="819.4" y1="192.5" x2="824.8" y2="190.4" stroke="#5e4a3a" stroke-width="1.5" opacity="0.23"/>
<line x1="712.5" y1="196.7" x2="721.8" y2="194.3" stroke="#80624a" stroke-width="1.1" opacity="0.32"/>
<line x1="820.2" y1="191.6" x2="824.1" y2="190.8" stroke="#574434" stroke-width="1.0" opacity="0.19"/>
<line x1="811.4" y1="196.0" x2="818.0" y2="194.6" stroke="#4e3e32" stroke-width="1.4" opacity="0.25"/>
<line x1="763.6" y1="195.6" x2="768.8" y2="193.9" stroke="#5e4a3a" stroke-width="1.2" opacity="0.36"/>
<line x1="686.3" y1="198.8" x2="695.8" y2="196.0" stroke="#5e4a3a" stroke-width="1.2" opacity="0.28"/>
<line x1="758.3" y1="193.6" x2="763.3" y2="190.5" stroke="#6a5442" stroke-width="0.8" opacity="0.30"/>
<line x1="742.3" y1="191.0" x2="749.3" y2="187.0" stroke="#80624a" stroke-width="0.8" opacity="0.17"/>
<line x1="775.5" y1="191.7" x2="781.9" y2="189.3" stroke="#574434" stroke-width="1.2" opacity="0.33"/>
<line x1="731.7" y1="195.8" x2="737.3" y2="194.3" stroke="#4e3e32" stroke-width="1.1" opacity="0.39"/>
<line x1="752.5" y1="189.7" x2="760.5" y2="186.0" stroke="#7a6048" stroke-width="1.0" opacity="0.17"/>
<line x1="750.2" y1="194.3" x2="755.2" y2="192.8" stroke="#574434" stroke-width="0.8" opacity="0.26"/>
<line x1="715.4" y1="194.2" x2="724.1" y2="192.3" stroke="#4e3e32" stroke-width="1.3" opacity="0.30"/>
<line x1="767.1" y1="194.2" x2="774.8" y2="191.2" stroke="#7a6048" stroke-width="1.0" opacity="0.26"/>
<line x1="761.7" y1="190.5" x2="767.0" y2="188.8" stroke="#7a6048" stroke-width="1.3" opacity="0.24"/>
<line x1="691.4" y1="194.9" x2="696.5" y2="193.0" stroke="#80624a" stroke-width="0.7" opacity="0.18"/>
<line x1="788.2" y1="192.1" x2="791.6" y2="190.8" stroke="#7a6048" stroke-width="1.0" opacity="0.40"/>
<line x1="764.4" y1="195.2" x2="773.3" y2="192.1" stroke="#574434" stroke-width="1.3" opacity="0.38"/>
<line x1="836.1" y1="191.7" x2="840.8" y2="190.5" stroke="#7a6048" stroke-width="1.2" opacity="0.10"/>
<line x1="818.0" y1="192.2" x2="824.7" y2="188.5" stroke="#7a6048" stroke-width="1.2" opacity="0.24"/>
<line x1="808.5" y1="195.3" x2="814.2" y2="191.8" stroke="#574434" stroke-width="0.8" opacity="0.20"/>
<line x1="659.0" y1="196.9" x2="666.1" y2="194.4" stroke="#80624a" stroke-width="1.2" opacity="0.02"/>
<line x1="672.2" y1="189.6" x2="679.8" y2="184.9" stroke="#4e3e32" stroke-width="0.8" opacity="0.08"/>
<line x1="721.8" y1="195.7" x2="727.8" y2="192.2" stroke="#7a6048" stroke-width="1.5" opacity="0.17"/>
<line x1="799.6" y1="191.4" x2="807.1" y2="186.5" stroke="#4e3e32" stroke-width="1.2" opacity="0.30"/>
<line x1="767.9" y1="191.8" x2="775.1" y2="188.4" stroke="#80624a" stroke-width="1.4" opacity="0.27"/>
<line x1="766.5" y1="194.5" x2="769.9" y2="192.3" stroke="#6a5442" stroke-width="0.9" opacity="0.23"/>
<line x1="660.9" y1="192.4" x2="663.7" y2="191.0" stroke="#7a6048" stroke-width="1.1" opacity="0.01"/>
<line x1="689.6" y1="191.0" x2="695.4" y2="189.0" stroke="#5e4a3a" stroke-width="0.9" opacity="0.29"/>
<line x1="791.5" y1="187.8" x2="794.7" y2="186.9" stroke="#5e4a3a" stroke-width="1.1" opacity="0.42"/>
<line x1="724.6" y1="194.4" x2="732.4" y2="189.3" stroke="#4e3e32" stroke-width="1.5" opacity="0.16"/>
<line x1="692.7" y1="193.6" x2="700.4" y2="189.6" stroke="#6a5442" stroke-width="1.4" opacity="0.36"/>
<line x1="768.9" y1="193.9" x2="776.2" y2="191.0" stroke="#7a6048" stroke-width="0.8" opacity="0.24"/>
<line x1="720.9" y1="197.7" x2="728.1" y2="193.1" stroke="#80624a" stroke-width="1.3" opacity="0.28"/>
<line x1="746.3" y1="190.1" x2="752.3" y2="187.2" stroke="#5e4a3a" stroke-width="1.4" opacity="0.27"/>
<line x1="734.1" y1="192.3" x2="741.5" y2="189.1" stroke="#5e4a3a" stroke-width="1.4" opacity="0.22"/>
<line x1="832.1" y1="189.1" x2="841.7" y2="186.5" stroke="#4e3e32" stroke-width="1.5" opacity="0.07"/>
<line x1="656.6" y1="193.5" x2="664.3" y2="188.7" stroke="#4e3e32" stroke-width="1.4" opacity="0.00"/>
<line x1="754.5" y1="196.2" x2="760.3" y2="194.5" stroke="#6a5442" stroke-width="0.7" opacity="0.28"/>
<line x1="735.6" y1="192.2" x2="743.5" y2="190.2" stroke="#7a6048" stroke-width="0.8" opacity="0.14"/>
<line x1="765.0" y1="191.5" x2="770.9" y2="190.0" stroke="#6a5442" stroke-width="1.1" opacity="0.25"/>
<line x1="670.3" y1="193.6" x2="675.7" y2="191.6" stroke="#6a5442" stroke-width="1.4" opacity="0.09"/>
<line x1="681.8" y1="192.5" x2="686.2" y2="189.6" stroke="#7a6048" stroke-width="1.0" opacity="0.22"/>
<line x1="760.1" y1="190.6" x2="767.7" y2="189.0" stroke="#7a6048" stroke-width="0.8" opacity="0.43"/>
<line x1="751.2" y1="194.8" x2="758.1" y2="191.5" stroke="#5e4a3a" stroke-width="0.9" opacity="0.35"/>
<line x1="829.3" y1="194.6" x2="834.3" y2="192.6" stroke="#80624a" stroke-width="0.9" opacity="0.14"/>
<line x1="698.3" y1="189.7" x2="705.4" y2="187.1" stroke="#6a5442" stroke-width="0.9" opacity="0.17"/>
<line x1="799.5" y1="191.9" x2="807.4" y2="189.1" stroke="#80624a" stroke-width="0.7" opacity="0.45"/>
<line x1="718.6" y1="189.4" x2="724.9" y2="186.0" stroke="#7a6048" stroke-width="1.4" opacity="0.35"/>
<line x1="814.8" y1="192.6" x2="817.6" y2="191.2" stroke="#7a6048" stroke-width="1.0" opacity="0.33"/>
<line x1="774.8" y1="192.1" x2="777.3" y2="190.5" stroke="#5e4a3a" stroke-width="1.4" opacity="0.27"/>
<line x1="746.6" y1="188.4" x2="749.5" y2="187.7" stroke="#6a5442" stroke-width="1.1" opacity="0.17"/>
<line x1="790.0" y1="190.0" x2="794.4" y2="187.5" stroke="#5e4a3a" stroke-width="0.8" opacity="0.37"/>
<line x1="714.1" y1="188.0" x2="717.2" y2="187.1" stroke="#7a6048" stroke-width="1.5" opacity="0.21"/>
<line x1="746.7" y1="191.7" x2="749.8" y2="190.3" stroke="#4e3e32" stroke-width="1.1" opacity="0.35"/>
<line x1="676.2" y1="187.6" x2="684.0" y2="184.5" stroke="#80624a" stroke-width="0.8" opacity="0.13"/>
<line x1="744.9" y1="187.2" x2="750.9" y2="185.5" stroke="#5e4a3a" stroke-width="1.2" opacity="0.27"/>
<line x1="758.5" y1="188.0" x2="762.4" y2="186.5" stroke="#4e3e32" stroke-width="0.9" opacity="0.36"/>
<line x1="773.8" y1="189.8" x2="783.3" y2="187.2" stroke="#4e3e32" stroke-width="1.0" opacity="0.24"/>
<line x1="788.9" y1="193.4" x2="794.4" y2="190.9" stroke="#80624a" stroke-width="1.4" opacity="0.43"/>
<line x1="795.3" y1="192.7" x2="799.9" y2="191.3" stroke="#5e4a3a" stroke-width="0.9" opacity="0.21"/>
<line x1="739.4" y1="193.1" x2="746.0" y2="188.9" stroke="#6a5442" stroke-width="0.8" opacity="0.37"/>
<line x1="777.1" y1="188.4" x2="780.2" y2="186.9" stroke="#4e3e32" stroke-width="0.9" opacity="0.27"/>
<line x1="762.9" y1="195.0" x2="769.5" y2="190.8" stroke="#7a6048" stroke-width="1.4" opacity="0.37"/>
<line x1="726.2" y1="193.1" x2="735.3" y2="191.1" stroke="#5e4a3a" stroke-width="1.1" opacity="0.38"/>
<line x1="779.4" y1="192.4" x2="784.0" y2="190.2" stroke="#574434" stroke-width="0.9" opacity="0.43"/>
<line x1="736.0" y1="192.6" x2="741.9" y2="189.6" stroke="#574434" stroke-width="1.0" opacity="0.43"/>
<line x1="786.0" y1="190.8" x2="793.1" y2="187.8" stroke="#4e3e32" stroke-width="1.3" opacity="0.28"/>
<line x1="756.9" y1="193.0" x2="761.5" y2="191.9" stroke="#5e4a3a" stroke-width="1.3" opacity="0.31"/>
<line x1="716.3" y1="191.7" x2="722.6" y2="187.7" stroke="#5e4a3a" stroke-width="0.9" opacity="0.42"/>
<line x1="687.2" y1="192.1" x2="691.1" y2="191.2" stroke="#6a5442" stroke-width="0.9" opacity="0.29"/>
<line x1="758.6" y1="192.2" x2="764.3" y2="190.6" stroke="#4e3e32" stroke-width="1.0" opacity="0.33"/>
<line x1="796.7" y1="195.5" x2="801.4" y2="193.3" stroke="#80624a" stroke-width="0.7" opacity="0.20"/>
<line x1="803.1" y1="192.5" x2="806.1" y2="190.6" stroke="#80624a" stroke-width="1.1" opacity="0.36"/>
<line x1="795.6" y1="191.6" x2="799.5" y2="189.8" stroke="#4e3e32" stroke-width="1.0" opacity="0.24"/>
<line x1="800.9" y1="194.3" x2="808.4" y2="191.1" stroke="#80624a" stroke-width="1.1" opacity="0.45"/>
<line x1="833.9" y1="191.0" x2="842.2" y2="188.0" stroke="#4e3e32" stroke-width="0.8" opacity="0.11"/>
<line x1="764.0" y1="193.4" x2="768.6" y2="191.9" stroke="#7a6048" stroke-width="0.9" opacity="0.38"/>
<line x1="756.3" y1="191.7" x2="762.7" y2="188.4" stroke="#4e3e32" stroke-width="0.8" opacity="0.22"/>
<line x1="752.9" y1="190.3" x2="757.5" y2="187.3" stroke="#7a6048" stroke-width="1.3" opacity="0.40"/>
<line x1="725.9" y1="191.6" x2="732.4" y2="187.9" stroke="#80624a" stroke-width="0.9" opacity="0.33"/>
<line x1="659.8" y1="191.2" x2="665.3" y2="188.0" stroke="#574434" stroke-width="1.2" opacity="0.02"/>
<line x1="728.9" y1="194.9" x2="733.4" y2="193.9" stroke="#7a6048" stroke-width="1.0" opacity="0.35"/>
<line x1="832.1" y1="194.6" x2="836.4" y2="192.7" stroke="#574434" stroke-width="0.9" opacity="0.07"/>
<line x1="660.9" y1="194.5" x2="669.8" y2="190.2" stroke="#5e4a3a" stroke-width="1.1" opacity="0.03"/>
<line x1="697.6" y1="191.3" x2="702.5" y2="190.1" stroke="#7a6048" stroke-width="1.0" opacity="0.25"/>
<line x1="699.4" y1="191.7" x2="703.9" y2="189.6" stroke="#574434" stroke-width="0.9" opacity="0.35"/>
<line x1="700.6" y1="193.7" x2="704.4" y2="191.1" stroke="#4e3e32" stroke-width="1.2" opacity="0.30"/>
<line x1="734.3" y1="192.2" x2="742.6" y2="189.7" stroke="#5e4a3a" stroke-width="1.4" opacity="0.20"/>
<line x1="669.6" y1="191.9" x2="672.3" y2="190.1" stroke="#7a6048" stroke-width="1.0" opacity="0.08"/>
<line x1="678.6" y1="193.9" x2="686.5" y2="189.9" stroke="#574434" stroke-width="0.8" opacity="0.09"/>
<line x1="761.4" y1="191.3" x2="769.0" y2="189.2" stroke="#5e4a3a" stroke-width="1.3" opacity="0.43"/>
<line x1="720.5" y1="191.6" x2="724.6" y2="188.9" stroke="#80624a" stroke-width="1.4" opacity="0.21"/>
<line x1="684.5" y1="194.5" x2="688.4" y2="191.8" stroke="#4e3e32" stroke-width="1.3" opacity="0.17"/>
<line x1="678.0" y1="193.6" x2="681.1" y2="192.2" stroke="#7a6048" stroke-width="1.0" opacity="0.11"/>
<line x1="680.8" y1="192.1" x2="688.2" y2="189.1" stroke="#7a6048" stroke-width="1.1" opacity="0.11"/>
<line x1="778.2" y1="189.1" x2="785.6" y2="187.4" stroke="#4e3e32" stroke-width="0.7" opacity="0.33"/>
<line x1="785.3" y1="191.0" x2="790.7" y2="189.5" stroke="#80624a" stroke-width="1.1" opacity="0.45"/>
<line x1="768.0" y1="197.1" x2="775.1" y2="192.6" stroke="#4e3e32" stroke-width="1.4" opacity="0.33"/>
<line x1="769.3" y1="194.8" x2="773.1" y2="193.1" stroke="#80624a" stroke-width="1.4" opacity="0.27"/>
<line x1="735.2" y1="196.6" x2="742.5" y2="193.7" stroke="#4e3e32" stroke-width="1.1" opacity="0.25"/>
<line x1="803.2" y1="187.3" x2="807.4" y2="186.1" stroke="#4e3e32" stroke-width="1.0" opacity="0.36"/>
<line x1="717.0" y1="196.2" x2="722.3" y2="193.7" stroke="#574434" stroke-width="1.2" opacity="0.41"/>
<line x1="785.7" y1="195.6" x2="788.7" y2="194.3" stroke="#7a6048" stroke-width="1.2" opacity="0.20"/>
<line x1="767.8" y1="195.0" x2="774.1" y2="191.8" stroke="#5e4a3a" stroke-width="0.9" opacity="0.32"/>
<line x1="714.2" y1="192.3" x2="718.9" y2="189.3" stroke="#4e3e32" stroke-width="1.1" opacity="0.35"/>
<line x1="795.5" y1="191.4" x2="800.2" y2="188.9" stroke="#4e3e32" stroke-width="0.8" opacity="0.18"/>
<line x1="697.9" y1="195.8" x2="706.0" y2="190.6" stroke="#6a5442" stroke-width="0.7" opacity="0.24"/>
<line x1="770.5" y1="196.6" x2="775.8" y2="195.4" stroke="#6a5442" stroke-width="0.9" opacity="0.42"/>
<line x1="801.2" y1="193.9" x2="809.0" y2="190.8" stroke="#5e4a3a" stroke-width="1.0" opacity="0.26"/>
<line x1="708.8" y1="191.8" x2="712.8" y2="190.7" stroke="#6a5442" stroke-width="1.2" opacity="0.23"/>
<line x1="712.0" y1="186.9" x2="721.5" y2="184.7" stroke="#7a6048" stroke-width="1.2" opacity="0.40"/>
<line x1="821.6" y1="194.7" x2="828.9" y2="190.8" stroke="#80624a" stroke-width="0.8" opacity="0.14"/>
<line x1="692.1" y1="189.3" x2="696.6" y2="186.7" stroke="#7a6048" stroke-width="1.1" opacity="0.29"/>
<line x1="808.7" y1="196.3" x2="813.8" y2="193.2" stroke="#7a6048" stroke-width="1.2" opacity="0.19"/>
<line x1="904.5" y1="102.3" x2="912.9" y2="100.3" stroke="#5e4a3a" stroke-width="1.0" opacity="0.44"/>
<line x1="907.2" y1="103.2" x2="911.3" y2="101.2" stroke="#4e3e32" stroke-width="0.9" opacity="0.19"/>
<line x1="955.2" y1="104.0" x2="962.8" y2="101.6" stroke="#574434" stroke-width="1.2" opacity="0.26"/>
<line x1="950.5" y1="102.4" x2="959.6" y2="98.8" stroke="#7a6048" stroke-width="1.3" opacity="0.35"/>
<line x1="872.8" y1="100.5" x2="875.9" y2="99.0" stroke="#7a6048" stroke-width="0.9" opacity="0.20"/>
<line x1="838.2" y1="100.5" x2="842.8" y2="98.2" stroke="#5e4a3a" stroke-width="1.3" opacity="0.11"/>
<line x1="899.4" y1="105.3" x2="905.4" y2="103.2" stroke="#80624a" stroke-width="1.1" opacity="0.14"/>
<line x1="877.4" y1="98.8" x2="881.5" y2="96.0" stroke="#5e4a3a" stroke-width="0.8" opacity="0.17"/>
<line x1="966.5" y1="99.8" x2="969.5" y2="99.1" stroke="#7a6048" stroke-width="1.2" opacity="0.09"/>
<line x1="841.3" y1="101.3" x2="846.2" y2="98.5" stroke="#6a5442" stroke-width="1.2" opacity="0.22"/>
<line x1="890.5" y1="105.6" x2="898.4" y2="101.4" stroke="#7a6048" stroke-width="1.2" opacity="0.26"/>
<line x1="944.4" y1="104.0" x2="948.1" y2="101.5" stroke="#7a6048" stroke-width="1.2" opacity="0.17"/>
<line x1="843.6" y1="99.3" x2="851.4" y2="95.6" stroke="#4e3e32" stroke-width="0.8" opacity="0.18"/>
<line x1="830.6" y1="100.9" x2="836.8" y2="99.1" stroke="#6a5442" stroke-width="0.9" opacity="0.04"/>
<line x1="826.1" y1="102.2" x2="831.6" y2="99.0" stroke="#6a5442" stroke-width="1.2" opacity="0.05"/>
<line x1="892.8" y1="105.3" x2="899.8" y2="102.2" stroke="#5e4a3a" stroke-width="1.4" opacity="0.32"/>
<line x1="944.7" y1="102.8" x2="951.9" y2="100.7" stroke="#574434" stroke-width="1.1" opacity="0.25"/>
<line x1="869.5" y1="100.0" x2="874.8" y2="97.1" stroke="#5e4a3a" stroke-width="1.1" opacity="0.27"/>
<line x1="835.2" y1="108.0" x2="842.1" y2="103.4" stroke="#574434" stroke-width="1.1" opacity="0.17"/>
<line x1="928.3" y1="101.9" x2="931.0" y2="100.1" stroke="#4e3e32" stroke-width="1.2" opacity="0.33"/>
<line x1="876.5" y1="103.7" x2="882.9" y2="101.5" stroke="#4e3e32" stroke-width="1.0" opacity="0.24"/>
<line x1="835.4" y1="101.6" x2="841.0" y2="100.2" stroke="#5e4a3a" stroke-width="0.8" opacity="0.16"/>
<line x1="834.4" y1="101.3" x2="840.0" y2="99.7" stroke="#5e4a3a" stroke-width="1.0" opacity="0.08"/>
<line x1="829.5" y1="99.0" x2="833.8" y2="97.5" stroke="#80624a" stroke-width="1.3" opacity="0.04"/>
<line x1="905.9" y1="102.8" x2="910.3" y2="101.3" stroke="#4e3e32" stroke-width="0.9" opacity="0.20"/>
<line x1="832.4" y1="105.0" x2="838.5" y2="103.4" stroke="#574434" stroke-width="0.7" opacity="0.08"/>
<line x1="841.4" y1="104.6" x2="846.4" y2="103.3" stroke="#574434" stroke-width="1.0" opacity="0.11"/>
<line x1="875.2" y1="108.4" x2="883.7" y2="104.7" stroke="#80624a" stroke-width="1.1" opacity="0.45"/>
<line x1="944.4" y1="98.2" x2="950.8" y2="96.6" stroke="#574434" stroke-width="0.9" opacity="0.40"/>
<line x1="942.4" y1="100.8" x2="948.2" y2="97.8" stroke="#574434" stroke-width="1.3" opacity="0.23"/>
<line x1="929.4" y1="101.8" x2="933.6" y2="99.7" stroke="#7a6048" stroke-width="1.4" opacity="0.18"/>
<line x1="871.7" y1="99.4" x2="874.7" y2="97.6" stroke="#4e3e32" stroke-width="0.9" opacity="0.32"/>
<line x1="897.7" y1="106.0" x2="903.6" y2="103.7" stroke="#6a5442" stroke-width="1.1" opacity="0.21"/>
<line x1="885.5" y1="102.6" x2="889.7" y2="101.5" stroke="#574434" stroke-width="0.8" opacity="0.23"/>
<line x1="935.9" y1="103.7" x2="944.2" y2="100.8" stroke="#574434" stroke-width="1.5" opacity="0.38"/>
<line x1="827.7" y1="105.6" x2="834.6" y2="101.2" stroke="#4e3e32" stroke-width="1.4" opacity="0.08"/>
<line x1="937.4" y1="99.8" x2="945.1" y2="97.1" stroke="#7a6048" stroke-width="0.9" opacity="0.27"/>
<line x1="936.0" y1="102.4" x2="943.8" y2="99.4" stroke="#5e4a3a" stroke-width="1.3" opacity="0.33"/>
<line x1="894.4" y1="102.7" x2="899.4" y2="101.2" stroke="#6a5442" stroke-width="1.5" opacity="0.23"/>
<line x1="927.7" y1="101.3" x2="935.0" y2="99.5" stroke="#80624a" stroke-width="0.9" opacity="0.36"/>
<line x1="921.4" y1="106.7" x2="924.1" y2="105.0" stroke="#4e3e32" stroke-width="1.1" opacity="0.24"/>
<line x1="960.7" y1="102.5" x2="967.8" y2="99.7" stroke="#574434" stroke-width="0.8" opacity="0.19"/>
<line x1="959.0" y1="104.1" x2="962.8" y2="101.8" stroke="#6a5442" stroke-width="1.0" opacity="0.18"/>
<line x1="922.7" y1="97.9" x2="928.7" y2="96.2" stroke="#574434" stroke-width="1.2" opacity="0.41"/>
<line x1="957.0" y1="103.5" x2="964.0" y2="100.7" stroke="#5e4a3a" stroke-width="0.9" opacity="0.26"/>
<line x1="929.0" y1="98.2" x2="935.0" y2="96.8" stroke="#5e4a3a" stroke-width="1.2" opacity="0.26"/>
<line x1="925.1" y1="100.4" x2="929.4" y2="98.9" stroke="#5e4a3a" stroke-width="1.1" opacity="0.41"/>
<line x1="921.1" y1="100.1" x2="927.5" y2="96.9" stroke="#80624a" stroke-width="0.8" opacity="0.19"/>
<line x1="916.1" y1="102.8" x2="924.6" y2="98.5" stroke="#80624a" stroke-width="0.8" opacity="0.28"/>
<line x1="972.9" y1="104.5" x2="979.7" y2="100.9" stroke="#7a6048" stroke-width="1.5" opacity="0.04"/>
<line x1="895.2" y1="101.8" x2="897.9" y2="100.4" stroke="#4e3e32" stroke-width="0.8" opacity="0.28"/>
<line x1="902.8" y1="104.0" x2="909.8" y2="100.7" stroke="#574434" stroke-width="0.9" opacity="0.29"/>
<line x1="933.8" y1="105.5" x2="939.3" y2="102.5" stroke="#6a5442" stroke-width="1.3" opacity="0.25"/>
<line x1="956.9" y1="100.7" x2="960.7" y2="99.5" stroke="#4e3e32" stroke-width="0.9" opacity="0.19"/>
<line x1="872.5" y1="104.3" x2="876.9" y2="101.4" stroke="#80624a" stroke-width="1.1" opacity="0.25"/>
<line x1="883.7" y1="101.1" x2="888.2" y2="98.5" stroke="#80624a" stroke-width="1.5" opacity="0.17"/>
<line x1="943.8" y1="102.0" x2="949.3" y2="99.1" stroke="#574434" stroke-width="1.0" opacity="0.26"/>
<line x1="876.2" y1="104.5" x2="882.4" y2="100.3" stroke="#80624a" stroke-width="1.2" opacity="0.23"/>
<line x1="970.3" y1="103.8" x2="976.5" y2="99.9" stroke="#80624a" stroke-width="0.7" opacity="0.06"/>
<line x1="879.4" y1="103.6" x2="887.6" y2="101.3" stroke="#7a6048" stroke-width="1.0" opacity="0.43"/>
<line x1="962.8" y1="101.2" x2="968.7" y2="98.4" stroke="#6a5442" stroke-width="1.5" opacity="0.08"/>
<line x1="888.4" y1="100.0" x2="897.2" y2="95.8" stroke="#80624a" stroke-width="0.9" opacity="0.32"/>
<line x1="966.9" y1="99.7" x2="975.7" y2="97.1" stroke="#5e4a3a" stroke-width="0.9" opacity="0.08"/>
<line x1="905.1" y1="104.8" x2="910.8" y2="103.5" stroke="#4e3e32" stroke-width="1.4" opacity="0.37"/>
<line x1="851.5" y1="96.8" x2="856.2" y2="94.9" stroke="#80624a" stroke-width="0.9" opacity="0.15"/>
<line x1="947.1" y1="99.3" x2="956.1" y2="97.1" stroke="#574434" stroke-width="1.0" opacity="0.25"/>
<line x1="863.5" y1="99.4" x2="867.4" y2="96.9" stroke="#4e3e32" stroke-width="1.5" opacity="0.43"/>
<line x1="892.4" y1="101.1" x2="898.8" y2="99.7" stroke="#6a5442" stroke-width="1.1" opacity="0.23"/>
<line x1="883.3" y1="98.8" x2="886.8" y2="98.1" stroke="#574434" stroke-width="1.1" opacity="0.36"/>
<line x1="823.0" y1="102.0" x2="828.4" y2="100.1" stroke="#6a5442" stroke-width="1.2" opacity="0.00"/>
<line x1="934.1" y1="103.4" x2="939.3" y2="100.3" stroke="#4e3e32" stroke-width="1.5" opacity="0.33"/>
<line x1="872.4" y1="103.8" x2="876.0" y2="101.7" stroke="#6a5442" stroke-width="0.7" opacity="0.36"/>
<line x1="835.1" y1="103.1" x2="841.6" y2="99.0" stroke="#80624a" stroke-width="1.3" opacity="0.11"/>
<line x1="934.4" y1="100.3" x2="937.7" y2="98.6" stroke="#4e3e32" stroke-width="1.0" opacity="0.43"/>
<line x1="964.1" y1="99.7" x2="971.4" y2="96.3" stroke="#7a6048" stroke-width="0.7" opacity="0.17"/>
<line x1="934.3" y1="100.6" x2="938.8" y2="97.7" stroke="#574434" stroke-width="1.4" opacity="0.22"/>
<line x1="826.4" y1="102.2" x2="831.2" y2="100.7" stroke="#4e3e32" stroke-width="0.9" opacity="0.05"/>
<line x1="857.2" y1="103.3" x2="864.0" y2="100.7" stroke="#574434" stroke-width="1.0" opacity="0.27"/>
<line x1="926.8" y1="101.4" x2="934.9" y2="96.2" stroke="#7a6048" stroke-width="0.9" opacity="0.30"/>
<line x1="852.1" y1="104.4" x2="855.3" y2="103.5" stroke="#4e3e32" stroke-width="0.8" opacity="0.16"/>
<line x1="898.1" y1="108.3" x2="906.9" y2="105.2" stroke="#6a5442" stroke-width="1.5" opacity="0.25"/>
<line x1="833.0" y1="106.6" x2="841.8" y2="103.5" stroke="#574434" stroke-width="0.9" opacity="0.18"/>
<line x1="906.4" y1="107.3" x2="911.1" y2="105.2" stroke="#574434" stroke-width="1.3" opacity="0.29"/>
<line x1="914.2" y1="104.4" x2="921.8" y2="100.2" stroke="#7a6048" stroke-width="1.1" opacity="0.28"/>
<line x1="945.5" y1="102.0" x2="953.2" y2="98.6" stroke="#5e4a3a" stroke-width="1.0" opacity="0.16"/>
<line x1="843.0" y1="106.8" x2="849.6" y2="102.8" stroke="#5e4a3a" stroke-width="0.9" opacity="0.30"/>
<line x1="939.3" y1="105.7" x2="945.1" y2="103.7" stroke="#5e4a3a" stroke-width="0.8" opacity="0.25"/>
<line x1="956.4" y1="100.1" x2="962.4" y2="97.1" stroke="#4e3e32" stroke-width="0.9" opacity="0.11"/>
<line x1="874.5" y1="101.0" x2="879.5" y2="98.5" stroke="#80624a" stroke-width="0.8" opacity="0.14"/>
<line x1="920.0" y1="98.1" x2="925.7" y2="94.6" stroke="#7a6048" stroke-width="1.2" opacity="0.14"/>
<line x1="967.9" y1="99.8" x2="976.1" y2="95.2" stroke="#6a5442" stroke-width="1.0" opacity="0.05"/>
<line x1="950.1" y1="100.4" x2="953.7" y2="98.8" stroke="#574434" stroke-width="1.3" opacity="0.32"/>
<line x1="904.2" y1="104.1" x2="907.6" y2="103.4" stroke="#7a6048" stroke-width="1.1" opacity="0.17"/>
<line x1="916.4" y1="104.9" x2="925.6" y2="101.9" stroke="#80624a" stroke-width="0.8" opacity="0.43"/>
<line x1="862.3" y1="104.7" x2="869.8" y2="100.8" stroke="#574434" stroke-width="0.7" opacity="0.41"/>
<line x1="903.0" y1="102.2" x2="911.2" y2="100.4" stroke="#574434" stroke-width="1.2" opacity="0.38"/>
<line x1="831.0" y1="105.8" x2="837.8" y2="103.3" stroke="#6a5442" stroke-width="1.3" opacity="0.13"/>
<line x1="919.4" y1="97.3" x2="927.4" y2="93.4" stroke="#574434" stroke-width="1.5" opacity="0.36"/>
<line x1="857.5" y1="100.4" x2="864.3" y2="97.3" stroke="#5e4a3a" stroke-width="0.9" opacity="0.17"/>
<line x1="960.8" y1="99.1" x2="964.7" y2="98.1" stroke="#6a5442" stroke-width="1.1" opacity="0.15"/>
<line x1="839.4" y1="105.0" x2="846.5" y2="101.1" stroke="#6a5442" stroke-width="1.4" opacity="0.18"/>
<line x1="962.7" y1="105.5" x2="968.9" y2="103.5" stroke="#4e3e32" stroke-width="1.4" opacity="0.14"/>
<line x1="916.1" y1="101.2" x2="920.3" y2="99.9" stroke="#5e4a3a" stroke-width="1.0" opacity="0.41"/>
<line x1="910.7" y1="103.2" x2="918.1" y2="101.4" stroke="#7a6048" stroke-width="0.8" opacity="0.40"/>
<line x1="919.6" y1="98.9" x2="928.7" y2="96.3" stroke="#574434" stroke-width="1.3" opacity="0.16"/>
<line x1="874.3" y1="99.2" x2="877.6" y2="98.1" stroke="#574434" stroke-width="1.1" opacity="0.25"/>
<line x1="882.9" y1="104.8" x2="890.9" y2="102.7" stroke="#574434" stroke-width="1.3" opacity="0.24"/>
<line x1="832.9" y1="101.5" x2="837.9" y2="99.7" stroke="#6a5442" stroke-width="0.9" opacity="0.15"/>
<line x1="909.5" y1="103.3" x2="915.5" y2="100.5" stroke="#80624a" stroke-width="0.9" opacity="0.34"/>
<line x1="959.9" y1="103.2" x2="966.2" y2="99.0" stroke="#574434" stroke-width="0.9" opacity="0.09"/>
<line x1="972.4" y1="100.2" x2="976.6" y2="98.1" stroke="#80624a" stroke-width="1.3" opacity="0.03"/>
<line x1="920.4" y1="101.3" x2="929.1" y2="97.6" stroke="#574434" stroke-width="0.9" opacity="0.40"/>
<line x1="855.8" y1="100.7" x2="865.0" y2="98.7" stroke="#80624a" stroke-width="1.3" opacity="0.31"/>
<line x1="941.7" y1="98.3" x2="950.0" y2="95.7" stroke="#574434" stroke-width="1.1" opacity="0.42"/>
<line x1="837.4" y1="102.2" x2="843.5" y2="99.0" stroke="#4e3e32" stroke-width="1.4" opacity="0.22"/>
<line x1="826.8" y1="103.4" x2="835.6" y2="100.1" stroke="#574434" stroke-width="1.2" opacity="0.06"/>
<line x1="841.8" y1="103.4" x2="850.9" y2="101.4" stroke="#574434" stroke-width="1.5" opacity="0.26"/>
<line x1="896.0" y1="103.4" x2="903.1" y2="99.1" stroke="#6a5442" stroke-width="1.3" opacity="0.16"/>
<line x1="867.2" y1="102.9" x2="870.6" y2="100.8" stroke="#574434" stroke-width="1.2" opacity="0.40"/>
<line x1="912.8" y1="105.1" x2="921.7" y2="102.2" stroke="#80624a" stroke-width="1.0" opacity="0.17"/>
<line x1="915.3" y1="102.3" x2="921.0" y2="100.3" stroke="#574434" stroke-width="1.2" opacity="0.21"/>
<line x1="913.3" y1="105.5" x2="916.6" y2="103.5" stroke="#6a5442" stroke-width="1.2" opacity="0.18"/>
<line x1="943.9" y1="104.6" x2="947.5" y2="102.6" stroke="#6a5442" stroke-width="1.1" opacity="0.30"/>
<line x1="909.5" y1="105.1" x2="914.5" y2="103.6" stroke="#80624a" stroke-width="1.4" opacity="0.27"/>
<line x1="852.8" y1="100.9" x2="856.7" y2="98.6" stroke="#6a5442" stroke-width="1.1" opacity="0.15"/>
<line x1="913.7" y1="102.6" x2="916.5" y2="100.7" stroke="#574434" stroke-width="1.0" opacity="0.34"/>
<line x1="876.8" y1="103.5" x2="880.2" y2="101.3" stroke="#80624a" stroke-width="0.9" opacity="0.24"/>
<line x1="970.0" y1="100.5" x2="972.9" y2="99.0" stroke="#5e4a3a" stroke-width="0.9" opacity="0.07"/>
<line x1="839.9" y1="103.3" x2="846.4" y2="101.4" stroke="#4e3e32" stroke-width="1.3" opacity="0.11"/>
<line x1="827.6" y1="101.6" x2="836.2" y2="97.9" stroke="#4e3e32" stroke-width="1.4" opacity="0.05"/>
<line x1="918.7" y1="102.8" x2="923.4" y2="99.9" stroke="#574434" stroke-width="1.5" opacity="0.42"/>
<line x1="933.5" y1="102.2" x2="939.0" y2="100.9" stroke="#574434" stroke-width="0.9" opacity="0.23"/>
<line x1="958.6" y1="100.9" x2="967.5" y2="99.0" stroke="#5e4a3a" stroke-width="1.4" opacity="0.20"/>
<line x1="912.5" y1="103.5" x2="915.9" y2="102.7" stroke="#574434" stroke-width="1.3" opacity="0.23"/>
<line x1="875.1" y1="101.8" x2="883.2" y2="99.3" stroke="#80624a" stroke-width="0.7" opacity="0.18"/>
<line x1="949.0" y1="98.0" x2="957.8" y2="95.1" stroke="#574434" stroke-width="1.1" opacity="0.21"/>
<line x1="844.4" y1="103.2" x2="852.9" y2="100.5" stroke="#7a6048" stroke-width="1.4" opacity="0.15"/>
<line x1="966.9" y1="99.6" x2="971.4" y2="96.7" stroke="#4e3e32" stroke-width="0.8" opacity="0.06"/>
<line x1="848.8" y1="100.5" x2="857.8" y2="97.4" stroke="#7a6048" stroke-width="0.8" opacity="0.19"/>
<line x1="906.0" y1="101.3" x2="909.9" y2="98.9" stroke="#4e3e32" stroke-width="1.4" opacity="0.36"/>
<line x1="964.5" y1="108.5" x2="972.4" y2="103.1" stroke="#80624a" stroke-width="1.2" opacity="0.12"/>
<line x1="907.9" y1="98.4" x2="916.4" y2="94.4" stroke="#574434" stroke-width="1.0" opacity="0.45"/>
<line x1="973.9" y1="104.0" x2="980.2" y2="100.5" stroke="#574434" stroke-width="1.1" opacity="0.02"/>
<line x1="826.1" y1="104.5" x2="833.6" y2="99.3" stroke="#80624a" stroke-width="1.0" opacity="0.03"/>
<line x1="944.3" y1="100.1" x2="951.4" y2="97.7" stroke="#4e3e32" stroke-width="0.8" opacity="0.42"/>
<line x1="882.7" y1="102.3" x2="890.9" y2="98.6" stroke="#7a6048" stroke-width="1.4" opacity="0.15"/>
<line x1="960.8" y1="101.2" x2="964.6" y2="99.0" stroke="#574434" stroke-width="0.9" opacity="0.24"/>
<line x1="885.2" y1="105.2" x2="893.0" y2="101.2" stroke="#6a5442" stroke-width="0.7" opacity="0.43"/>
<line x1="895.5" y1="106.2" x2="903.8" y2="102.5" stroke="#6a5442" stroke-width="1.5" opacity="0.43"/>
<line x1="927.7" y1="102.9" x2="933.5" y2="100.9" stroke="#7a6048" stroke-width="1.1" opacity="0.23"/>
<line x1="840.9" y1="104.3" x2="848.7" y2="99.2" stroke="#7a6048" stroke-width="1.4" opacity="0.23"/>
<line x1="944.5" y1="104.2" x2="951.5" y2="99.7" stroke="#574434" stroke-width="0.7" opacity="0.28"/>
<line x1="831.0" y1="100.5" x2="834.8" y2="99.5" stroke="#4e3e32" stroke-width="1.0" opacity="0.04"/>
<line x1="922.6" y1="99.5" x2="929.8" y2="94.9" stroke="#4e3e32" stroke-width="1.2" opacity="0.35"/>
<line x1="868.8" y1="100.3" x2="873.4" y2="99.3" stroke="#4e3e32" stroke-width="0.9" opacity="0.43"/>
<line x1="970.0" y1="104.2" x2="978.9" y2="100.5" stroke="#80624a" stroke-width="0.9" opacity="0.08"/>
<line x1="857.9" y1="100.1" x2="862.0" y2="97.8" stroke="#5e4a3a" stroke-width="0.9" opacity="0.35"/>
<line x1="876.8" y1="100.9" x2="881.1" y2="98.7" stroke="#574434" stroke-width="1.4" opacity="0.21"/>
<line x1="918.1" y1="100.7" x2="922.4" y2="97.8" stroke="#574434" stroke-width="0.8" opacity="0.27"/>
<line x1="904.2" y1="100.9" x2="907.7" y2="98.7" stroke="#5e4a3a" stroke-width="1.3" opacity="0.45"/>
<line x1="900.2" y1="105.4" x2="903.9" y2="102.9" stroke="#80624a" stroke-width="1.0" opacity="0.28"/>
<line x1="932.9" y1="98.9" x2="937.1" y2="96.6" stroke="#6a5442" stroke-width="1.4" opacity="0.33"/>
<line x1="860.0" y1="102.5" x2="867.0" y2="100.8" stroke="#5e4a3a" stroke-width="0.9" opacity="0.21"/>
<line x1="836.4" y1="103.9" x2="841.1" y2="102.3" stroke="#5e4a3a" stroke-width="0.7" opacity="0.15"/>
<line x1="965.8" y1="104.1" x2="970.4" y2="103.0" stroke="#7a6048" stroke-width="1.3" opacity="0.17"/>
<line x1="913.8" y1="102.8" x2="921.8" y2="99.1" stroke="#574434" stroke-width="1.3" opacity="0.44"/>
<line x1="959.7" y1="100.3" x2="968.6" y2="96.9" stroke="#80624a" stroke-width="0.9" opacity="0.15"/>
<line x1="899.7" y1="105.7" x2="907.6" y2="102.1" stroke="#80624a" stroke-width="1.0" opacity="0.39"/>
<line x1="898.2" y1="103.1" x2="903.1" y2="100.4" stroke="#80624a" stroke-width="1.2" opacity="0.36"/>
<line x1="908.1" y1="102.2" x2="912.7" y2="100.9" stroke="#80624a" stroke-width="1.1" opacity="0.28"/>
<line x1="861.3" y1="106.9" x2="869.4" y2="102.2" stroke="#5e4a3a" stroke-width="1.2" opacity="0.22"/>
<line x1="918.0" y1="99.9" x2="922.5" y2="98.6" stroke="#5e4a3a" stroke-width="1.0" opacity="0.25"/>
<line x1="910.3" y1="103.0" x2="913.1" y2="101.8" stroke="#4e3e32" stroke-width="0.8" opacity="0.45"/>
<line x1="861.3" y1="97.7" x2="869.1" y2="95.8" stroke="#4e3e32" stroke-width="1.2" opacity="0.26"/>
<line x1="974.7" y1="106.6" x2="983.0" y2="104.8" stroke="#80624a" stroke-width="0.9" opacity="0.01"/>
<line x1="961.5" y1="103.2" x2="966.3" y2="101.6" stroke="#6a5442" stroke-width="0.9" opacity="0.12"/>
<line x1="867.2" y1="103.9" x2="873.9" y2="99.3" stroke="#5e4a3a" stroke-width="1.2" opacity="0.36"/>
<line x1="944.6" y1="103.2" x2="951.9" y2="100.9" stroke="#4e3e32" stroke-width="1.2" opacity="0.26"/>
<line x1="956.1" y1="107.1" x2="964.6" y2="102.3" stroke="#80624a" stroke-width="0.8" opacity="0.24"/>
<line x1="972.0" y1="100.0" x2="975.0" y2="99.1" stroke="#574434" stroke-width="1.5" opacity="0.05"/>
<line x1="941.1" y1="102.9" x2="943.7" y2="101.2" stroke="#7a6048" stroke-width="1.0" opacity="0.16"/>
<line x1="967.9" y1="107.7" x2="974.0" y2="104.0" stroke="#7a6048" stroke-width="0.7" opacity="0.09"/>
<line x1="893.8" y1="107.3" x2="897.1" y2="105.8" stroke="#574434" stroke-width="0.8" opacity="0.43"/>
<line x1="948.0" y1="104.9" x2="954.6" y2="103.0" stroke="#7a6048" stroke-width="1.3" opacity="0.20"/>
<line x1="944.4" y1="98.9" x2="951.6" y2="94.2" stroke="#574434" stroke-width="1.2" opacity="0.44"/>
<line x1="897.0" y1="103.3" x2="900.7" y2="101.4" stroke="#7a6048" stroke-width="1.4" opacity="0.24"/>
<line x1="823.8" y1="98.5" x2="827.4" y2="96.6" stroke="#80624a" stroke-width="1.4" opacity="0.01"/>
<line x1="942.1" y1="104.4" x2="951.5" y2="101.4" stroke="#6a5442" stroke-width="1.0" opacity="0.24"/>
<line x1="854.2" y1="104.9" x2="858.2" y2="103.2" stroke="#574434" stroke-width="1.0" opacity="0.19"/>
<line x1="825.0" y1="103.7" x2="829.4" y2="100.9" stroke="#5e4a3a" stroke-width="1.0" opacity="0.01"/>
<line x1="853.6" y1="107.0" x2="857.6" y2="105.3" stroke="#4e3e32" stroke-width="1.3" opacity="0.42"/>
<line x1="953.9" y1="99.6" x2="957.2" y2="97.7" stroke="#7a6048" stroke-width="1.0" opacity="0.31"/>
<line x1="924.3" y1="104.5" x2="929.6" y2="101.9" stroke="#7a6048" stroke-width="0.9" opacity="0.32"/>
<line x1="883.5" y1="102.2" x2="886.4" y2="100.1" stroke="#80624a" stroke-width="0.9" opacity="0.35"/>
<line x1="859.5" y1="105.9" x2="865.7" y2="103.2" stroke="#7a6048" stroke-width="1.4" opacity="0.27"/>
<line x1="827.4" y1="106.4" x2="835.4" y2="102.4" stroke="#4e3e32" stroke-width="1.5" opacity="0.05"/>
<line x1="843.5" y1="99.7" x2="848.7" y2="96.2" stroke="#574434" stroke-width="0.8" opacity="0.19"/>
<line x1="940.6" y1="99.6" x2="944.1" y2="98.7" stroke="#574434" stroke-width="1.2" opacity="0.40"/>
<line x1="856.1" y1="103.6" x2="862.1" y2="101.3" stroke="#5e4a3a" stroke-width="1.3" opacity="0.14"/>
<line x1="951.0" y1="102.0" x2="958.6" y2="98.6" stroke="#6a5442" stroke-width="1.3" opacity="0.32"/>
<line x1="854.2" y1="106.8" x2="861.8" y2="101.7" stroke="#80624a" stroke-width="0.7" opacity="0.31"/>
<line x1="968.8" y1="100.8" x2="977.6" y2="97.0" stroke="#7a6048" stroke-width="0.9" opacity="0.04"/>
<line x1="893.5" y1="101.3" x2="900.1" y2="98.7" stroke="#7a6048" stroke-width="1.1" opacity="0.36"/>
<line x1="939.5" y1="100.3" x2="942.8" y2="99.6" stroke="#7a6048" stroke-width="1.5" opacity="0.28"/>
<line x1="891.3" y1="103.4" x2="900.2" y2="101.2" stroke="#7a6048" stroke-width="1.3" opacity="0.33"/>
<line x1="884.9" y1="100.9" x2="892.2" y2="99.2" stroke="#80624a" stroke-width="1.5" opacity="0.38"/>
<line x1="900.2" y1="101.9" x2="907.4" y2="98.3" stroke="#7a6048" stroke-width="0.8" opacity="0.43"/>
<line x1="978.1" y1="99.9" x2="981.9" y2="99.0" stroke="#4e3e32" stroke-width="1.0" opacity="0.00"/>
<line x1="823.9" y1="101.3" x2="827.0" y2="99.5" stroke="#80624a" stroke-width="1.0" opacity="0.00"/>
<line x1="939.4" y1="98.9" x2="946.3" y2="95.3" stroke="#574434" stroke-width="1.0" opacity="0.30"/>
<line x1="872.4" y1="105.0" x2="881.4" y2="101.7" stroke="#7a6048" stroke-width="0.9" opacity="0.28"/>
<line x1="828.7" y1="107.4" x2="833.2" y2="105.3" stroke="#574434" stroke-width="1.2" opacity="0.05"/>
<line x1="894.9" y1="104.1" x2="899.3" y2="102.9" stroke="#4e3e32" stroke-width="1.2" opacity="0.21"/>
<line x1="848.2" y1="107.6" x2="855.4" y2="103.8" stroke="#6a5442" stroke-width="0.9" opacity="0.23"/>
<line x1="958.8" y1="103.0" x2="966.4" y2="98.4" stroke="#4e3e32" stroke-width="1.1" opacity="0.11"/>
<line x1="901.2" y1="102.8" x2="906.7" y2="100.1" stroke="#574434" stroke-width="0.7" opacity="0.28"/>
<line x1="840.8" y1="102.1" x2="844.6" y2="99.9" stroke="#4e3e32" stroke-width="1.0" opacity="0.21"/>
<line x1="827.4" y1="101.3" x2="833.3" y2="99.0" stroke="#7a6048" stroke-width="1.2" opacity="0.03"/>
<line x1="915.0" y1="105.0" x2="920.4" y2="102.2" stroke="#5e4a3a" stroke-width="0.9" opacity="0.42"/>
<line x1="876.2" y1="102.5" x2="880.5" y2="100.9" stroke="#5e4a3a" stroke-width="0.9" opacity="0.30"/>
<line x1="964.9" y1="101.1" x2="971.0" y2="97.6" stroke="#4e3e32" stroke-width="0.9" opacity="0.08"/>
<line x1="930.6" y1="100.6" x2="937.5" y2="98.3" stroke="#5e4a3a" stroke-width="0.8" opacity="0.18"/>
<line x1="852.3" y1="101.3" x2="861.2" y2="97.9" stroke="#7a6048" stroke-width="0.9" opacity="0.41"/>
<line x1="885.7" y1="98.5" x2="890.0" y2="97.1" stroke="#80624a" stroke-width="1.2" opacity="0.19"/>
<line x1="907.3" y1="105.3" x2="911.6" y2="102.6" stroke="#4e3e32" stroke-width="1.0" opacity="0.35"/>
<line x1="906.2" y1="103.4" x2="911.1" y2="101.7" stroke="#7a6048" stroke-width="1.0" opacity="0.44"/>
<line x1="977.3" y1="100.1" x2="980.8" y2="98.6" stroke="#4e3e32" stroke-width="0.9" opacity="0.01"/>
<line x1="840.6" y1="102.6" x2="847.7" y2="98.7" stroke="#6a5442" stroke-width="1.1" opacity="0.26"/>
<line x1="826.8" y1="100.2" x2="835.3" y2="96.9" stroke="#574434" stroke-width="1.4" opacity="0.04"/>
<line x1="823.8" y1="105.3" x2="832.6" y2="102.6" stroke="#5e4a3a" stroke-width="1.3" opacity="0.03"/>
<line x1="894.5" y1="102.1" x2="898.8" y2="100.1" stroke="#574434" stroke-width="0.8" opacity="0.44"/>
<line x1="869.9" y1="100.4" x2="873.7" y2="99.4" stroke="#574434" stroke-width="0.8" opacity="0.30"/>
<line x1="977.2" y1="102.3" x2="982.5" y2="101.0" stroke="#80624a" stroke-width="1.3" opacity="0.00"/>
<line x1="826.2" y1="97.8" x2="835.3" y2="95.1" stroke="#7a6048" stroke-width="0.7" opacity="0.05"/>
<line x1="848.6" y1="104.6" x2="851.8" y2="103.7" stroke="#80624a" stroke-width="1.2" opacity="0.24"/>
<line x1="918.0" y1="99.8" x2="924.5" y2="97.4" stroke="#5e4a3a" stroke-width="1.3" opacity="0.42"/>
<line x1="920.4" y1="103.1" x2="927.0" y2="98.5" stroke="#6a5442" stroke-width="1.3" opacity="0.30"/>
<line x1="949.8" y1="103.6" x2="957.7" y2="99.1" stroke="#7a6048" stroke-width="1.4" opacity="0.22"/>
<line x1="974.6" y1="100.3" x2="983.5" y2="96.1" stroke="#4e3e32" stroke-width="1.0" opacity="0.01"/>
<line x1="894.3" y1="102.8" x2="901.1" y2="101.3" stroke="#5e4a3a" stroke-width="1.4" opacity="0.42"/>
<line x1="943.0" y1="99.4" x2="949.7" y2="95.8" stroke="#7a6048" stroke-width="0.9" opacity="0.32"/>
<line x1="959.4" y1="103.0" x2="964.7" y2="99.4" stroke="#7a6048" stroke-width="1.3" opacity="0.19"/>
<line x1="846.0" y1="103.1" x2="851.7" y2="101.4" stroke="#5e4a3a" stroke-width="1.2" opacity="0.31"/>
<line x1="966.0" y1="105.8" x2="973.5" y2="102.3" stroke="#80624a" stroke-width="1.3" opacity="0.10"/>
<line x1="848.0" y1="105.0" x2="857.4" y2="102.5" stroke="#574434" stroke-width="1.2" opacity="0.38"/>
<line x1="890.6" y1="100.9" x2="897.7" y2="99.0" stroke="#574434" stroke-width="0.8" opacity="0.23"/>
<line x1="878.4" y1="102.8" x2="885.7" y2="100.2" stroke="#80624a" stroke-width="1.1" opacity="0.30"/>
<line x1="920.0" y1="105.3" x2="925.2" y2="103.7" stroke="#574434" stroke-width="1.1" opacity="0.34"/>
<line x1="861.8" y1="98.8" x2="868.1" y2="97.2" stroke="#6a5442" stroke-width="1.0" opacity="0.22"/>
<line x1="875.7" y1="102.6" x2="879.5" y2="101.0" stroke="#574434" stroke-width="1.0" opacity="0.29"/>
<line x1="937.5" y1="99.5" x2="941.5" y2="97.8" stroke="#6a5442" stroke-width="1.4" opacity="0.38"/>
<line x1="837.0" y1="104.8" x2="842.5" y2="102.2" stroke="#6a5442" stroke-width="1.3" opacity="0.21"/>
<line x1="934.1" y1="106.0" x2="942.5" y2="100.8" stroke="#4e3e32" stroke-width="1.3" opacity="0.21"/>
<line x1="967.7" y1="101.9" x2="971.6" y2="99.4" stroke="#7a6048" stroke-width="0.7" opacity="0.07"/>
<line x1="949.8" y1="102.7" x2="957.4" y2="98.7" stroke="#80624a" stroke-width="0.9" opacity="0.33"/>
<line x1="938.6" y1="102.2" x2="941.7" y2="100.3" stroke="#574434" stroke-width="1.2" opacity="0.24"/>
<line x1="932.4" y1="106.1" x2="938.1" y2="102.5" stroke="#5e4a3a" stroke-width="0.8" opacity="0.36"/>
<line x1="955.8" y1="98.9" x2="963.9" y2="97.1" stroke="#5e4a3a" stroke-width="1.1" opacity="0.13"/>
<line x1="886.3" y1="103.8" x2="894.9" y2="100.8" stroke="#6a5442" stroke-width="0.8" opacity="0.24"/>
<line x1="881.5" y1="100.9" x2="888.3" y2="98.4" stroke="#574434" stroke-width="1.5" opacity="0.44"/>
<line x1="873.0" y1="97.4" x2="876.3" y2="96.7" stroke="#574434" stroke-width="1.2" opacity="0.28"/>
<line x1="837.9" y1="105.9" x2="841.6" y2="104.3" stroke="#80624a" stroke-width="1.5" opacity="0.11"/>
<line x1="908.0" y1="104.5" x2="914.4" y2="100.8" stroke="#7a6048" stroke-width="0.8" opacity="0.17"/>
<line x1="876.8" y1="104.6" x2="885.3" y2="101.0" stroke="#6a5442" stroke-width="1.1" opacity="0.31"/>
<line x1="886.3" y1="103.9" x2="894.2" y2="101.7" stroke="#7a6048" stroke-width="1.0" opacity="0.45"/>
<line x1="878.5" y1="104.4" x2="885.1" y2="102.4" stroke="#5e4a3a" stroke-width="0.9" opacity="0.17"/>
<line x1="829.3" y1="101.7" x2="837.9" y2="98.1" stroke="#80624a" stroke-width="1.2" opacity="0.11"/>
<line x1="872.9" y1="100.9" x2="875.5" y2="99.1" stroke="#4e3e32" stroke-width="1.3" opacity="0.43"/>
<line x1="857.0" y1="104.6" x2="859.6" y2="103.0" stroke="#574434" stroke-width="0.9" opacity="0.40"/>
<line x1="908.3" y1="100.5" x2="913.0" y2="99.4" stroke="#7a6048" stroke-width="1.1" opacity="0.18"/>
<line x1="898.2" y1="100.7" x2="906.5" y2="95.2" stroke="#80624a" stroke-width="1.5" opacity="0.32"/>
<line x1="925.0" y1="104.6" x2="928.6" y2="102.6" stroke="#6a5442" stroke-width="1.0" opacity="0.36"/>
<line x1="848.2" y1="99.6" x2="857.2" y2="95.9" stroke="#5e4a3a" stroke-width="1.5" opacity="0.32"/>
<line x1="848.2" y1="107.9" x2="856.2" y2="103.2" stroke="#80624a" stroke-width="1.0" opacity="0.31"/>
<line x1="869.5" y1="103.8" x2="876.6" y2="100.7" stroke="#5e4a3a" stroke-width="0.8" opacity="0.27"/>
<line x1="932.0" y1="101.3" x2="939.9" y2="95.9" stroke="#80624a" stroke-width="0.7" opacity="0.28"/>
<line x1="833.6" y1="99.5" x2="840.9" y2="97.1" stroke="#4e3e32" stroke-width="0.9" opacity="0.13"/>
<line x1="829.3" y1="103.6" x2="837.4" y2="98.6" stroke="#5e4a3a" stroke-width="0.7" opacity="0.05"/>
<line x1="924.9" y1="102.3" x2="929.4" y2="101.3" stroke="#4e3e32" stroke-width="0.9" opacity="0.43"/>
<line x1="893.1" y1="99.6" x2="900.2" y2="95.9" stroke="#5e4a3a" stroke-width="1.1" opacity="0.37"/>
<line x1="976.4" y1="105.4" x2="980.4" y2="104.2" stroke="#80624a" stroke-width="1.4" opacity="0.02"/>
<line x1="905.2" y1="99.5" x2="912.4" y2="95.9" stroke="#5e4a3a" stroke-width="1.0" opacity="0.25"/>
<line x1="968.1" y1="98.0" x2="972.7" y2="96.5" stroke="#4e3e32" stroke-width="1.3" opacity="0.09"/>
<line x1="872.3" y1="102.1" x2="878.0" y2="98.6" stroke="#7a6048" stroke-width="1.3" opacity="0.31"/>
<line x1="941.5" y1="98.5" x2="949.6" y2="95.4" stroke="#6a5442" stroke-width="1.0" opacity="0.37"/>
<line x1="856.4" y1="101.6" x2="863.9" y2="97.7" stroke="#80624a" stroke-width="1.0" opacity="0.26"/>
<line x1="879.0" y1="103.2" x2="885.1" y2="100.4" stroke="#6a5442" stroke-width="1.5" opacity="0.23"/>
<line x1="828.6" y1="99.6" x2="833.4" y2="97.9" stroke="#80624a" stroke-width="1.0" opacity="0.07"/>
<line x1="971.0" y1="99.8" x2="974.0" y2="99.0" stroke="#80624a" stroke-width="0.8" opacity="0.07"/>
<line x1="874.0" y1="100.4" x2="881.4" y2="98.7" stroke="#80624a" stroke-width="1.2" opacity="0.38"/>
<line x1="904.5" y1="105.4" x2="909.7" y2="102.3" stroke="#4e3e32" stroke-width="1.2" opacity="0.44"/>
<line x1="923.6" y1="97.8" x2="927.4" y2="95.8" stroke="#4e3e32" stroke-width="0.9" opacity="0.40"/>
<line x1="932.5" y1="99.1" x2="939.2" y2="96.5" stroke="#7a6048" stroke-width="0.7" opacity="0.26"/>
<line x1="927.8" y1="101.1" x2="932.0" y2="98.5" stroke="#80624a" stroke-width="0.9" opacity="0.26"/>
<line x1="861.2" y1="101.5" x2="869.3" y2="96.4" stroke="#80624a" stroke-width="1.2" opacity="0.23"/>
<line x1="920.1" y1="103.3" x2="926.3" y2="99.9" stroke="#574434" stroke-width="1.1" opacity="0.38"/>
<line x1="855.8" y1="102.6" x2="859.2" y2="101.0" stroke="#6a5442" stroke-width="0.9" opacity="0.16"/>
<line x1="957.2" y1="100.4" x2="959.9" y2="98.7" stroke="#574434" stroke-width="0.9" opacity="0.21"/>
<line x1="916.9" y1="103.6" x2="923.5" y2="99.8" stroke="#80624a" stroke-width="1.2" opacity="0.28"/>
<line x1="956.8" y1="102.2" x2="963.5" y2="97.8" stroke="#4e3e32" stroke-width="0.9" opacity="0.24"/>
<line x1="895.3" y1="101.9" x2="898.7" y2="101.0" stroke="#4e3e32" stroke-width="1.1" opacity="0.32"/>
<line x1="942.0" y1="103.4" x2="947.9" y2="100.4" stroke="#80624a" stroke-width="0.9" opacity="0.25"/>
<line x1="973.1" y1="101.2" x2="977.1" y2="98.6" stroke="#80624a" stroke-width="1.4" opacity="0.05"/>
<line x1="829.8" y1="104.4" x2="836.6" y2="100.1" stroke="#80624a" stroke-width="0.7" opacity="0.12"/>
<line x1="826.3" y1="100.3" x2="828.9" y2="98.7" stroke="#6a5442" stroke-width="1.4" opacity="0.04"/>
<line x1="831.6" y1="102.5" x2="834.6" y2="101.0" stroke="#80624a" stroke-width="1.2" opacity="0.09"/>
<line x1="842.2" y1="103.2" x2="847.9" y2="101.1" stroke="#4e3e32" stroke-width="1.2" opacity="0.14"/>
<line x1="943.3" y1="102.7" x2="949.0" y2="101.3" stroke="#7a6048" stroke-width="1.1" opacity="0.44"/>
<line x1="906.7" y1="106.2" x2="911.9" y2="104.2" stroke="#5e4a3a" stroke-width="0.8" opacity="0.21"/>
<line x1="929.6" y1="101.9" x2="937.1" y2="99.3" stroke="#6a5442" stroke-width="0.8" opacity="0.44"/>
<line x1="910.0" y1="106.1" x2="914.7" y2="104.4" stroke="#574434" stroke-width="1.1" opacity="0.32"/>
<line x1="849.4" y1="100.3" x2="858.5" y2="98.1" stroke="#574434" stroke-width="0.8" opacity="0.30"/>
<line x1="838.7" y1="99.7" x2="844.5" y2="97.3" stroke="#574434" stroke-width="1.4" opacity="0.17"/>
<line x1="826.0" y1="105.9" x2="831.8" y2="103.0" stroke="#6a5442" stroke-width="0.9" opacity="0.04"/>
<line x1="965.5" y1="99.9" x2="971.4" y2="98.5" stroke="#574434" stroke-width="0.9" opacity="0.13"/>
<line x1="868.9" y1="98.5" x2="875.5" y2="96.8" stroke="#4e3e32" stroke-width="0.9" opacity="0.38"/>
<line x1="951.4" y1="101.4" x2="957.8" y2="98.4" stroke="#80624a" stroke-width="0.7" opacity="0.28"/>
<line x1="849.5" y1="104.5" x2="856.4" y2="101.2" stroke="#4e3e32" stroke-width="0.8" opacity="0.26"/>
<line x1="935.7" y1="100.1" x2="941.8" y2="98.5" stroke="#574434" stroke-width="1.1" opacity="0.27"/>
<line x1="886.1" y1="106.8" x2="892.9" y2="103.2" stroke="#7a6048" stroke-width="1.4" opacity="0.21"/>
<line x1="963.9" y1="102.8" x2="971.1" y2="98.3" stroke="#574434" stroke-width="0.7" opacity="0.10"/>
<line x1="953.6" y1="105.4" x2="962.4" y2="101.1" stroke="#7a6048" stroke-width="0.8" opacity="0.20"/>
<line x1="953.0" y1="102.0" x2="955.8" y2="100.1" stroke="#6a5442" stroke-width="1.0" opacity="0.21"/>
<line x1="966.7" y1="99.3" x2="973.0" y2="96.9" stroke="#80624a" stroke-width="1.1" opacity="0.07"/>
<line x1="889.3" y1="102.1" x2="893.7" y2="100.2" stroke="#80624a" stroke-width="1.1" opacity="0.36"/>
<line x1="855.9" y1="98.9" x2="860.3" y2="97.0" stroke="#80624a" stroke-width="1.1" opacity="0.17"/>
<line x1="916.7" y1="102.7" x2="921.1" y2="101.1" stroke="#6a5442" stroke-width="1.2" opacity="0.26"/>
<line x1="922.9" y1="103.8" x2="931.1" y2="100.8" stroke="#6a5442" stroke-width="1.2" opacity="0.32"/>
<line x1="902.9" y1="106.0" x2="907.3" y2="104.3" stroke="#4e3e32" stroke-width="1.5" opacity="0.15"/>
<line x1="824.2" y1="99.2" x2="828.2" y2="97.4" stroke="#6a5442" stroke-width="0.8" opacity="0.02"/>
<line x1="839.0" y1="99.3" x2="842.8" y2="98.4" stroke="#4e3e32" stroke-width="1.0" opacity="0.15"/>
<line x1="891.9" y1="102.3" x2="897.8" y2="99.1" stroke="#80624a" stroke-width="0.9" opacity="0.19"/>
<line x1="976.3" y1="100.0" x2="979.6" y2="98.3" stroke="#6a5442" stroke-width="1.2" opacity="0.02"/>
<line x1="858.8" y1="102.9" x2="866.3" y2="100.0" stroke="#6a5442" stroke-width="1.3" opacity="0.29"/>
<line x1="928.0" y1="101.2" x2="934.9" y2="97.4" stroke="#80624a" stroke-width="0.9" opacity="0.21"/>
<line x1="959.2" y1="106.4" x2="967.3" y2="104.0" stroke="#5e4a3a" stroke-width="1.3" opacity="0.21"/>
<line x1="907.5" y1="98.3" x2="914.6" y2="96.6" stroke="#80624a" stroke-width="0.7" opacity="0.44"/>
<line x1="939.6" y1="105.7" x2="945.3" y2="102.9" stroke="#80624a" stroke-width="1.4" opacity="0.34"/>
<line x1="830.7" y1="101.3" x2="834.8" y2="99.7" stroke="#7a6048" stroke-width="1.3" opacity="0.04"/>
<line x1="873.8" y1="99.8" x2="879.8" y2="96.0" stroke="#6a5442" stroke-width="1.1" opacity="0.27"/>
<polygon points="75,498 77.5,497 85,495 87,492 90,494 97.5,487 102.5,488.6 107.5,476 112.5,462 113.5,470 120,463 125,460 130,463 135,454 139,456 142.5,467.5 147.5,461 152.5,456 157.5,457 164,458 170,455 179,448 182.5,451 189,444 194,443.2 201.5,444 206.5,441.4 210.2,444.5 214,440.7 219.6,441.4 224,447 227.7,450 234,451.4 239,452 244,450 248.4,447.6 252,449.5 255.2,454.5 257.7,449.5 259,443.2 260.9,447.6 266.5,448.2 272.7,448.9 275.9,451.4 277.7,445.7 280.2,448.2 282.7,438.9 285.2,442.6 287.7,437.6 292.7,442.6 297.7,430.7 300.2,433.2 303.7,429.7 310,418.8 316.2,419.7 322.5,419.7 328.7,424.7 333.7,428.5 337.5,434 342.5,426 347.5,414 351.2,419.7 355,409.7 358.7,388.5 361.2,387.2 364.4,397.2 365.6,385.4 370,384.7 373.7,392.2 377.5,400.4 382.5,396 387.5,394 392.5,394.7 393,388.5 397.5,389 402.5,386.6 407.5,381 410.5,377.5 413.5,371 416.6,359.7 421,357.2 422.9,364.7 426,369 432.2,369 436,371 439.7,364.7 443.5,362.9 448.5,369.7 453.5,374 458.5,374.7 464,371 467.9,370.4 473.5,374 478.5,377.2 481.6,372.9 488.5,375.4 494.7,371 499.7,367.2 503.5,358.5 506.6,364.7 509,357.9 511.6,364.7 514,383.5 516.6,361 519.7,373.5 523.7,388.7 527.5,380 528.7,395 530,371 533,395 537,383.7 542.5,361 547.5,350.6 552.5,361 557.5,365 562.5,367 565,370 565.6,365 570,358 573,355 576,351 579.4,339.4 580.6,354.4 583.7,350 587,337.5 589.7,326 596,316 599.7,302.5 603,292.5 606,302 608.5,297 611,301 616,307 619.7,316 623.5,305 629.7,292 634,297 638,293 641,285.6 644,293 647,295 651,303.7 655.4,305.6 659.7,316 663.5,328.7 667.2,312.5 671,322 674.7,317.5 678.5,305.6 679.7,300 683,307.5 686,302.5 688.5,288.7 692,298.7 695.4,290 698,310 699,301 703.5,302.5 708,300.6 711,275 713,295 716,285 720,278 726,262 731.5,248.7 736.5,258 740.2,251.2 743.5,262 747,280 750,271 752.5,263.7 756.5,245 760.2,226.2 764,212.5 767.7,197.5 770.2,198 772.7,212.5 775.9,223.7 779,209 781.5,196 784.3,200 786.7,193.5 789,201.2 791.5,211.2 794,221.9 797,206 799,201.2 800.9,215 802.7,197.5 804,185 805.9,171.2 807,185 808.4,193 810.2,181.2 812,173.7 814.6,176.2 817.7,190 821.5,201.2 825.2,210 830.2,220 834,226.2 837,222.5 837.6,236 838.9,241 840.7,218.5 843.2,231 846.4,253.5 850.7,232.9 853.9,238.5 856.4,247.2 857.6,256 859.5,248.5 862,262.2 863.2,264.7 865,248.5 868.2,224.7 872,206 876,186 879,164.5 883,175 886,166 891.6,152.5 893.5,160.5 899.7,156 903,144 906,131 908,123 911,112 914,102.5 917,110 920.4,119 922,116 926,113.5 928.5,122 931,124 933,133.5 935.4,140 938,140.4 939,151 941,154.7 945.4,143.5 949,148.5 951.6,151 953,140 956,143.5 961,137 964.7,128.5 968,123 969.3,113.5 970,513.5 74.5,513.5" fill="url(#ar)"/>
<polygon points="75,498 77.5,497 85,495 87,492 90,494 97.5,487 102.5,488.6 107.5,476 112.5,462 113.5,470 120,463 125,460 130,463 135,454 139,456 142.5,467.5 147.5,461 152.5,456 157.5,457 164,458 170,455 179,448 182.5,451 189,444 194,443.2 201.5,444 206.5,441.4 210.2,444.5 214,440.7 219.6,441.4 224,447 227.7,450 234,451.4 239,452 244,450 248.4,447.6 252,449.5 255.2,454.5 257.7,449.5 259,443.2 260.9,447.6 266.5,448.2 272.7,448.9 275.9,451.4 277.7,445.7 280.2,448.2 282.7,438.9 285.2,442.6 287.7,437.6 292.7,442.6 297.7,430.7 300.2,433.2 303.7,429.7 310,418.8 316.2,419.7 322.5,419.7 328.7,424.7 333.7,428.5 337.5,434 342.5,426 347.5,414 351.2,419.7 355,409.7 358.7,388.5 361.2,387.2 364.4,397.2 365.6,385.4 370,384.7 373.7,392.2 377.5,400.4 382.5,396 387.5,394 392.5,394.7 393,388.5 397.5,389 402.5,386.6 407.5,381 410.5,377.5 413.5,371 416.6,359.7 421,357.2 422.9,364.7 426,369 432.2,369 436,371 439.7,364.7 443.5,362.9 448.5,369.7 453.5,374 458.5,374.7 464,371 467.9,370.4 473.5,374 478.5,377.2 481.6,372.9 488.5,375.4 494.7,371 499.7,367.2 503.5,358.5 506.6,364.7 509,357.9 511.6,364.7 514,383.5 516.6,361 519.7,373.5 523.7,388.7 527.5,380 528.7,395 530,371 533,395 537,383.7 542.5,361 547.5,350.6 552.5,361 557.5,365 562.5,367 565,370 565.6,365 570,358 573,355 576,351 579.4,339.4 580.6,354.4 583.7,350 587,337.5 589.7,326 596,316 599.7,302.5 603,292.5 606,302 608.5,297 611,301 616,307 619.7,316 623.5,305 629.7,292 634,297 638,293 641,285.6 644,293 647,295 651,303.7 655.4,305.6 659.7,316 663.5,328.7 667.2,312.5 671,322 674.7,317.5 678.5,305.6 679.7,300 683,307.5 686,302.5 688.5,288.7 692,298.7 695.4,290 698,310 699,301 703.5,302.5 708,300.6 711,275 713,295 716,285 720,278 726,262 731.5,248.7 736.5,258 740.2,251.2 743.5,262 747,280 750,271 752.5,263.7 756.5,245 760.2,226.2 764,212.5 767.7,197.5 770.2,198 772.7,212.5 775.9,223.7 779,209 781.5,196 784.3,200 786.7,193.5 789,201.2 791.5,211.2 794,221.9 797,206 799,201.2 800.9,215 802.7,197.5 804,185 805.9,171.2 807,185 808.4,193 810.2,181.2 812,173.7 814.6,176.2 817.7,190 821.5,201.2 825.2,210 830.2,220 834,226.2 837,222.5 837.6,236 838.9,241 840.7,218.5 843.2,231 846.4,253.5 850.7,232.9 853.9,238.5 856.4,247.2 857.6,256 859.5,248.5 862,262.2 863.2,264.7 865,248.5 868.2,224.7 872,206 876,186 879,164.5 883,175 886,166 891.6,152.5 893.5,160.5 899.7,156 903,144 906,131 908,123 911,112 914,102.5 917,110 920.4,119 922,116 926,113.5 928.5,122 931,124 933,133.5 935.4,140 938,140.4 939,151 941,154.7 945.4,143.5 949,148.5 951.6,151 953,140 956,143.5 961,137 964.7,128.5 968,123 969.3,113.5 970,513.5 74.5,513.5" fill="url(#arx)"/>
<g filter="url(#soft)">
<polyline points="75,508 85,505 96,502 100,494 105,500 110,494 115,480 120,471 126,468 132,474 137.5,469 142,477 145,477 149,467 153,465 160,464 170,462.5 180,464 190,462.5 193,456 196.5,452.6 201.5,456.4 209,458.2 219,460 226.5,458.9 231.5,457 237.7,459.5 246.5,458.2 252.7,463.2 259,467 265.2,465.7 270.2,470 276.5,474.5 281.5,475.7 286.5,473.9 291.5,465.7 299,463.2 306.5,456.4 314,452 322,449 332,450 345,448 350,445.6 355,448 360,447.2 365,436 370,427.9 375,426 378.7,429.7 381.9,436.6 383.7,432.2 387.5,437.2 391.9,441.6 397.5,433.5 401.2,429.7 406.2,414.7 410,409.7 417.5,406.6 422.5,393.5 425,388.7 432.2,388 437.2,390.4 440.4,389 444.7,396 448.5,400.4 452.2,396.6 454.7,401.6 459.7,404 462.9,407.9 469.7,402.9 477.2,398.5 484.7,394.7 489,399.7 494.7,397.2 499.7,393.5 503.5,407.2 507.2,418 510,424 515,420 520,417 528,417 535,415 539,402 542,395 545,395 550,401 554,410 557,420 560,408 564,403 567.5,402 571,395.6 577.5,393 582.5,381 587,385 588.7,375.6 589.4,385 592.5,392 598.7,380 605,362.5 610,351 613.7,352.5 618,343.7 620,340 623,350 626,362 628,342 630,355 632,364 637,368 645,371 654,373 658,362 662,349 668,345 674.7,342 678.5,326 681,317 684.7,323.7 687,315.6 693.5,313.7 696.6,314.4 698.5,330 699.7,342 701,361 703,346 705,340 709.7,331 714,330 717,330 727,322 735,319 741,329 747,339 752,332 757,322 760,304 765,283 768,276 772,271 776,282 782.5,283 786,270 790,255 795.6,250.6 800,253.7 810,252 819,255.6 827.5,260.6 837.5,267.5 844,264 849,262 852.5,267 857,267.5 861,273.7 865.7,267.2 870.1,270.4 875.7,259.7 880.7,248.5 885.1,242.9 888.2,249.7 892,259.7 895.7,252.2 900.7,231 905.1,219.1 907.6,223.5 910.1,234.7 911.4,218.5 913.2,206 914,192 915,180 921,188 925,180 929,174 934,167 940,164 947,164 952,162" fill="none" stroke="#eca240" stroke-width="2.6" stroke-linejoin="round" stroke-linecap="round"/>
<polyline points="210.2,444.5 214,449.5 219,454.5 224,457.6 227,458.8" fill="none" stroke="#e29c3e" stroke-width="2" stroke-linecap="round" stroke-linejoin="round"/><polyline points="209,458 213.4,453" fill="none" stroke="#e29c3e" stroke-width="1.2" stroke-linecap="round"/>
<polyline points="75,498 77.5,497 85,495 87,492 90,494 97.5,487 102.5,488.6 107.5,476 112.5,462 113.5,470 120,463 125,460 130,463 135,454 139,456 142.5,467.5 147.5,461 152.5,456 157.5,457 164,458 170,455 179,448 182.5,451 189,444 194,443.2 201.5,444 206.5,441.4 210.2,444.5 214,440.7 219.6,441.4 224,447 227.7,450 234,451.4 239,452 244,450 248.4,447.6 252,449.5 255.2,454.5 257.7,449.5 259,443.2 260.9,447.6 266.5,448.2 272.7,448.9 275.9,451.4 277.7,445.7 280.2,448.2 282.7,438.9 285.2,442.6 287.7,437.6 292.7,442.6 297.7,430.7 300.2,433.2 303.7,429.7 310,418.8 316.2,419.7 322.5,419.7 328.7,424.7 333.7,428.5 337.5,434 342.5,426 347.5,414 351.2,419.7 355,409.7 358.7,388.5 361.2,387.2 364.4,397.2 365.6,385.4 370,384.7 373.7,392.2 377.5,400.4 382.5,396 387.5,394 392.5,394.7 393,388.5 397.5,389 402.5,386.6 407.5,381 410.5,377.5 413.5,371 416.6,359.7 421,357.2 422.9,364.7 426,369 432.2,369 436,371 439.7,364.7 443.5,362.9 448.5,369.7 453.5,374 458.5,374.7 464,371 467.9,370.4 473.5,374 478.5,377.2 481.6,372.9 488.5,375.4 494.7,371 499.7,367.2 503.5,358.5 506.6,364.7 509,357.9 511.6,364.7 514,383.5 516.6,361 519.7,373.5 523.7,388.7 527.5,380 528.7,395 530,371 533,395 537,383.7 542.5,361 547.5,350.6 552.5,361 557.5,365 562.5,367 565,370 565.6,365 570,358 573,355 576,351 579.4,339.4 580.6,354.4 583.7,350 587,337.5 589.7,326 596,316 599.7,302.5 603,292.5 606,302 608.5,297 611,301 616,307 619.7,316 623.5,305 629.7,292 634,297 638,293 641,285.6 644,293 647,295 651,303.7 655.4,305.6 659.7,316 663.5,328.7 667.2,312.5 671,322 674.7,317.5 678.5,305.6 679.7,300 683,307.5 686,302.5 688.5,288.7 692,298.7 695.4,290 698,310 699,301 703.5,302.5 708,300.6 711,275 713,295 716,285 720,278 726,262 731.5,248.7 736.5,258 740.2,251.2 743.5,262 747,280 750,271 752.5,263.7 756.5,245 760.2,226.2 764,212.5 767.7,197.5 770.2,198 772.7,212.5 775.9,223.7 779,209 781.5,196 784.3,200 786.7,193.5 789,201.2 791.5,211.2 794,221.9 797,206 799,201.2 800.9,215 802.7,197.5 804,185 805.9,171.2 807,185 808.4,193 810.2,181.2 812,173.7 814.6,176.2 817.7,190 821.5,201.2 825.2,210 830.2,220 834,226.2 837,222.5 837.6,236 838.9,241 840.7,218.5 843.2,231 846.4,253.5 850.7,232.9 853.9,238.5 856.4,247.2 857.6,256 859.5,248.5 862,262.2 863.2,264.7 865,248.5 868.2,224.7 872,206 876,186 879,164.5 883,175 886,166 891.6,152.5 893.5,160.5 899.7,156 903,144 906,131 908,123 911,112 914,102.5 917,110 920.4,119 922,116 926,113.5 928.5,122 931,124 933,133.5 935.4,140 938,140.4 939,151 941,154.7 945.4,143.5 949,148.5 951.6,151 953,140 956,143.5 961,137 964.7,128.5 968,123 969.3,113.5" fill="none" stroke="#fbfdfe" stroke-width="3" stroke-linejoin="round" stroke-linecap="round"/>
</g>
<!-- axes -->
<g stroke="#5b6788" stroke-width="1.3" fill="none">
<line x1="74" y1="84" x2="74" y2="514" stroke="#4a5579" stroke-width="1.3"/>
<line x1="73.6" y1="513.6" x2="970" y2="513.6" stroke="#8d96b0" stroke-width="1.6"/>
<line x1="105" y1="514" x2="105" y2="520.5" stroke="#7c86a2"/>
<line x1="154.25" y1="514" x2="154.25" y2="520.5" stroke="#7c86a2"/>
<line x1="211.25" y1="514" x2="211.25" y2="520.5" stroke="#7c86a2"/>
<line x1="258.75" y1="514" x2="258.75" y2="520.5" stroke="#7c86a2"/>
<line x1="305.5" y1="514" x2="305.5" y2="520.5" stroke="#7c86a2"/>
<line x1="356.25" y1="514" x2="356.25" y2="520.5" stroke="#7c86a2"/>
<line x1="405.5" y1="514" x2="405.5" y2="520.5" stroke="#7c86a2"/>
<line x1="456.25" y1="514" x2="456.25" y2="520.5" stroke="#7c86a2"/>
<line x1="506.25" y1="514" x2="506.25" y2="520.5" stroke="#7c86a2"/>
<line x1="558.75" y1="514" x2="558.75" y2="520.5" stroke="#7c86a2"/>
<line x1="595.5" y1="514" x2="595.5" y2="520.5" stroke="#7c86a2"/>
<line x1="637.5" y1="514" x2="637.5" y2="520.5" stroke="#7c86a2"/>
<line x1="681.25" y1="514" x2="681.25" y2="520.5" stroke="#7c86a2"/>
<line x1="724.25" y1="514" x2="724.25" y2="520.5" stroke="#7c86a2"/>
<line x1="762.5" y1="514" x2="762.5" y2="520.5" stroke="#7c86a2"/>
<line x1="812.25" y1="514" x2="812.25" y2="520.5" stroke="#7c86a2"/>
<line x1="864.25" y1="514" x2="864.25" y2="520.5" stroke="#7c86a2"/>
<line x1="914.25" y1="514" x2="914.25" y2="520.5" stroke="#7c86a2"/>
</g>
<g stroke="#8a93a8" stroke-width="1" stroke-dasharray="1.5 1.8" fill="none">
<line x1="720" y1="552" x2="770" y2="552"/><line x1="814" y1="552" x2="897" y2="552"/>
</g>
<!-- axis labels -->
<g font-size="11" fill="#d6d9df" stroke="#d6d9df" stroke-width="0.3" text-anchor="middle">
<text x="105" y="537" textLength="22.5" lengthAdjust="spacingAndGlyphs">2415</text>
<text x="154" y="537" textLength="22.5" lengthAdjust="spacingAndGlyphs">6005</text>
<text x="200.5" y="537" textLength="24.8" lengthAdjust="spacingAndGlyphs">6S7Y</text>
<text x="258.75" y="537" textLength="22.5" lengthAdjust="spacingAndGlyphs">3014</text>
<text x="306" y="537" textLength="25.3" lengthAdjust="spacingAndGlyphs">JUTY</text>
<text x="359" y="537" textLength="25.9" lengthAdjust="spacingAndGlyphs">3LOV</text>
<text x="408" y="537" textLength="21.8" lengthAdjust="spacingAndGlyphs">1199</text>
<text x="453.75" y="537" textLength="19.1" lengthAdjust="spacingAndGlyphs">4l07</text>
<text x="510" y="537" textLength="24.8" lengthAdjust="spacingAndGlyphs">1Y7V</text>
<text x="560.5" y="537" textLength="24.8" lengthAdjust="spacingAndGlyphs">1O75</text>
<text x="602" y="537" textLength="24.8" lengthAdjust="spacingAndGlyphs">6O14</text>
<text x="632.5" y="537" textLength="22.5" lengthAdjust="spacingAndGlyphs">4495</text>
<text x="683.75" y="537" textLength="24.8" lengthAdjust="spacingAndGlyphs">2O79</text>
<text x="726.25" y="537" textLength="22.5" lengthAdjust="spacingAndGlyphs">2014</text>
<text x="768" y="537" textLength="21.9" lengthAdjust="spacingAndGlyphs">S0PI</text>
<text x="816.75" y="537" textLength="21.4" lengthAdjust="spacingAndGlyphs">JOM</text>
<text x="863" y="537" textLength="26.4" lengthAdjust="spacingAndGlyphs">CO74</text>
<text x="913.75" y="537" textLength="25.3" lengthAdjust="spacingAndGlyphs">SU79</text>
<text x="111" y="552.5" textLength="20.2" lengthAdjust="spacingAndGlyphs">FUK</text>
<text x="157.5" y="552.5" textLength="32.6" lengthAdjust="spacingAndGlyphs">G(E23)</text>
<text x="209" y="552.5" textLength="21.9" lengthAdjust="spacingAndGlyphs">FUM</text>
<text x="254" y="552.5" textLength="20.2" lengthAdjust="spacingAndGlyphs">FUK</text>
<text x="300.5" y="552.5" textLength="18.0" lengthAdjust="spacingAndGlyphs">20K</text>
<text x="348" y="552.5" textLength="26.4" lengthAdjust="spacingAndGlyphs">20MK</text>
<text x="397" y="552.5" textLength="23.6" lengthAdjust="spacingAndGlyphs">295K</text>
<text x="452" y="552.5" textLength="22.5" lengthAdjust="spacingAndGlyphs">2723</text>
<text x="505.5" y="552.5" textLength="20.8" lengthAdjust="spacingAndGlyphs">S2M</text>
<text x="557" y="552.5" textLength="21.4" lengthAdjust="spacingAndGlyphs">POK</text>
<text x="603" y="552.5" textLength="24.8" lengthAdjust="spacingAndGlyphs">9G75</text>
<text x="680" y="552.5" textLength="62.5" lengthAdjust="spacingAndGlyphs">CROUME RUSG</text>
<text x="793" y="552.5" textLength="36.0" lengthAdjust="spacingAndGlyphs">(0UUY9</text>
<text x="913.75" y="552.5" textLength="25.3" lengthAdjust="spacingAndGlyphs">.2O7)</text>
</g>
<g font-size="11" fill="#d6d9df" stroke="#d6d9df" stroke-width="0.3">
<text x="24" y="83.8" font-size="12.5" textLength="48.5" lengthAdjust="spacingAndGlyphs">S000,000</text>
<text x="32.5" y="134.0" font-size="11" textLength="37.0" lengthAdjust="spacingAndGlyphs">2231H</text>
<text x="36" y="193.0" font-size="11" textLength="33.5" lengthAdjust="spacingAndGlyphs">1&amp;3MM</text>
<text x="43.75" y="247.7" font-size="11" textLength="26.75" lengthAdjust="spacingAndGlyphs">66.4t</text>
<text x="43.75" y="297.7" font-size="11" textLength="26.25" lengthAdjust="spacingAndGlyphs">85TH</text>
<text x="43.75" y="346.0" font-size="11" textLength="26.75" lengthAdjust="spacingAndGlyphs">250W</text>
<text x="43.75" y="403.0" font-size="11" textLength="26.75" lengthAdjust="spacingAndGlyphs">5,48t</text>
<text x="37" y="456.2" font-size="11" textLength="33" lengthAdjust="spacingAndGlyphs">10P0%</text>
<text x="42.5" y="511.2" font-size="11" textLength="27.0" lengthAdjust="spacingAndGlyphs"><tspan fill="#d8a868" stroke="#d8a868">0</tspan>0TH</text>
</g>
<g font-size="10.5" fill="#d8dde5" stroke="#d8dde5" stroke-width="0.3">
<text x="124.5" y="506.6" textLength="43.5" lengthAdjust="spacingAndGlyphs">SDGYEXNUT</text>
<text x="269.5" y="506.6" textLength="38" lengthAdjust="spacingAndGlyphs">IN.S56B</text>
<text x="511" y="506.6" textLength="35" lengthAdjust="spacingAndGlyphs">MARKET</text>
<text x="705" y="506.6" textLength="28" lengthAdjust="spacingAndGlyphs">ODIEG</text>
<text x="781" y="506.6" textLength="30.5" lengthAdjust="spacingAndGlyphs">SO6CE</text>
<text x="832.5" y="506.6" textLength="60.5" lengthAdjust="spacingAndGlyphs">COPTUMENT</text>
<text x="919" y="506.6" textLength="39" lengthAdjust="spacingAndGlyphs">'FIRRIAT</text>
</g>
<path d="M900.3 495.5H905V508H900.3V499.5H898.3V497.5Z" fill="#f2c230"/>
<text x="909" y="485.5" font-size="23" font-weight="700" fill="#c9d0d6" textLength="47" lengthAdjust="spacingAndGlyphs"><tspan font-size="15">s</tspan>pie<tspan font-size="17">:</tspan></text>
<!-- title -->
<g font-size="39.5" font-weight="700" fill="#ffffff" stroke="#ffffff" stroke-width="2" stroke-linejoin="round">
<text x="288.2" y="55.4" textLength="114" lengthAdjust="spacingAndGlyphs">CRYPTO</text>
<text x="409.3" y="55.1" textLength="124.5" lengthAdjust="spacingAndGlyphs">MARKET</text>
<text x="546.8" y="54.9" textLength="64.5" lengthAdjust="spacingAndGlyphs">CAP</text>
<text x="623" y="54.8" textLength="113.5" lengthAdjust="spacingAndGlyphs">TRENDS</text>
</g>
<!-- annotations -->
<g font-weight="700">
<text x="118.5" y="409" font-size="31" fill="#d9994a" textLength="53" lengthAdjust="spacingAndGlyphs">5Π<tspan stroke="#d9994a" stroke-width="1.6">O</tspan></text>
<text x="188.5" y="404" font-size="26.5" fill="#ffffff" textLength="30" lengthAdjust="spacingAndGlyphs">26</text>
<text x="388.5" y="324" font-size="25.5" fill="#ffffff" textLength="48" lengthAdjust="spacingAndGlyphs">1 0T</text>
<text x="606" y="254" font-size="25.5" fill="#ffffff" textLength="28" lengthAdjust="spacingAndGlyphs">17</text>
<text x="573.4" y="254" font-size="25.5" fill="#d9994a" stroke="#d9994a" stroke-width="0.9" textLength="11.4" lengthAdjust="spacingAndGlyphs">D</text>
<text x="731" y="162" font-size="25.5" fill="#ffffff" textLength="41.5" lengthAdjust="spacingAndGlyphs">17T</text>
<text x="837" y="70.5" font-size="25" fill="#d9994a" textLength="20" lengthAdjust="spacingAndGlyphs">49</text>
<text x="873" y="71.5" font-size="27" fill="#ffffff" textLength="30" lengthAdjust="spacingAndGlyphs">8T</text>
<text x="677.5" y="168.5" font-size="6.5" fill="#c98c44" textLength="35" lengthAdjust="spacingAndGlyphs">MERCURY</text>
</g>
<text x="347" y="331" font-size="33" fill="#d9994a" stroke="#d9994a" stroke-width="0.5" textLength="26" lengthAdjust="spacingAndGlyphs" font-style="italic">59</text>
<text x="677.5" y="162.5" font-size="24.5" fill="#d9994a" stroke="#d9994a" stroke-width="0.5" textLength="35" lengthAdjust="spacingAndGlyphs">CHE</text>
<g font-size="11" font-weight="700" fill="#cf9650">
<text x="174" y="419" textLength="49.5" lengthAdjust="spacingAndGlyphs">1OD ES.LUM</text>
<text x="385" y="339.3" textLength="56" lengthAdjust="spacingAndGlyphs">BS 0,9 IOM</text>
<text x="573" y="271.3" textLength="67" lengthAdjust="spacingAndGlyphs">ESR,OX5,COM</text>
<text x="725" y="178.3" textLength="61" lengthAdjust="spacingAndGlyphs">ES:8.75 S0OM</text>
<text x="864.5" y="87.3" textLength="55.5" lengthAdjust="spacingAndGlyphs">BET ZSSTOM</text>
</g>
<g fill="none" stroke="#c58a48" stroke-width="1.1" stroke-linecap="round" stroke-linejoin="round">
<path d="M172.5 423H225"/>
<path d="M380 330V342Q380 343.6 381.6 343.6H465"/>
<path d="M570 262.5V274.5Q570 276 571.5 276H657.5"/>
<path d="M723 169.5V182.2Q723 183.7 724.5 183.7H796"/>
<path d="M861 78.5V90Q861 91.7 862.7 91.7H921.5"/>
</g>
</svg>
</body></html>
